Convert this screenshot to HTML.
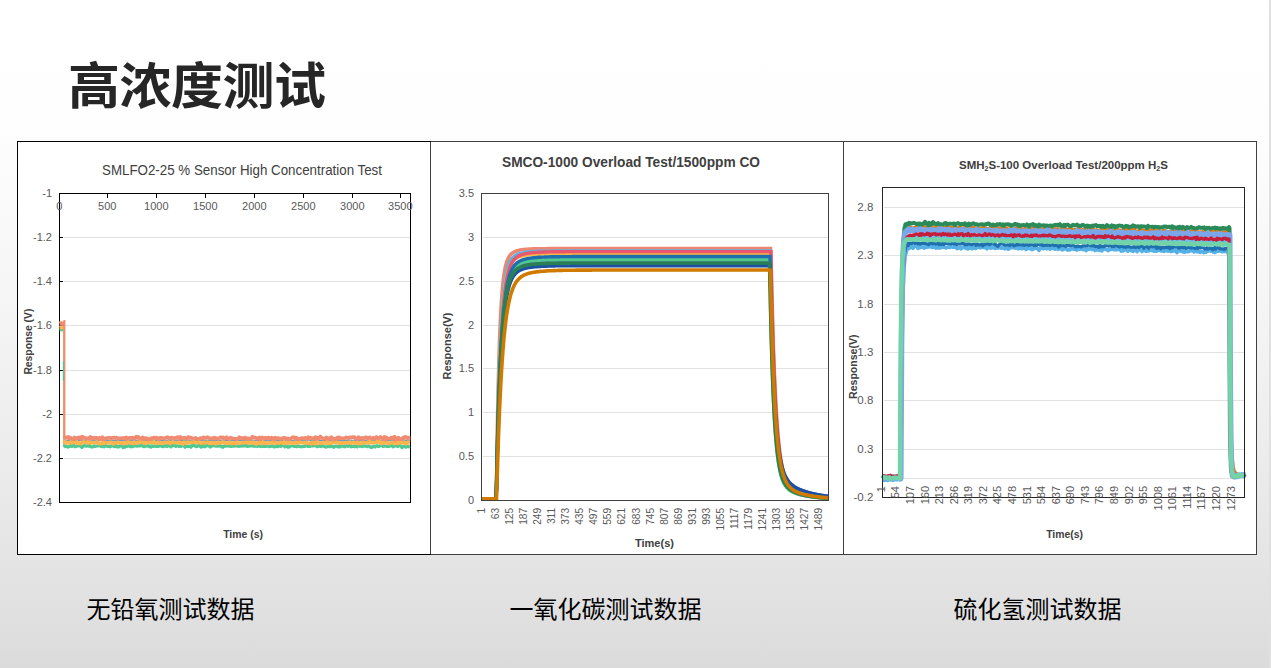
<!DOCTYPE html>
<html><head><meta charset="utf-8"><title>高浓度测试</title>
<style>
html,body{margin:0;padding:0;}
body{width:1271px;height:668px;overflow:hidden;position:relative;background:linear-gradient(to bottom, rgb(255.00,255.00,255.00) 0px, rgb(254.55,254.55,254.55) 73px, rgb(253.45,253.45,253.45) 133px, rgb(245.30,245.30,245.30) 300px, rgb(236.20,236.20,236.20) 455px, rgb(228.80,228.80,228.80) 555px, rgb(221.00,221.00,221.00) 650px, rgb(219.20,219.20,219.20) 668px);font-family:"Liberation Sans","Noto Sans CJK SC",sans-serif;}
.title{position:absolute;left:68px;top:61.5px;font-size:52px;font-weight:bold;color:#262626;letter-spacing:-0.5px;transform:scaleY(0.955);transform-origin:0 0;line-height:1;white-space:nowrap;font-family:"Liberation Sans","Noto Sans CJK SC",sans-serif;}
.edge{position:absolute;left:1269px;top:0;width:2px;height:668px;background:#e0e0e2;}
.cell{position:absolute;top:141px;height:413px;width:413px;background:#fff;box-sizing:border-box;}
.cap{position:absolute;top:597.5px;font-size:24px;color:#000;line-height:1;white-space:nowrap;font-family:"Liberation Sans","Noto Sans CJK SC",sans-serif;}
svg{position:absolute;left:0;top:0;}
.l1{font:11px "Liberation Sans",sans-serif;fill:#595959;}
.t1{font:14.2px "Liberation Sans",sans-serif;fill:#404040;}
.a1{font:bold 10.5px "Liberation Sans",sans-serif;fill:#404040;}
.l2{font:11px "Liberation Sans",sans-serif;fill:#595959;}
.l2x{font:10.2px "Liberation Sans",sans-serif;fill:#595959;}
.t2{font:bold 14px "Liberation Sans",sans-serif;fill:#404040;}
.a2{font:bold 11px "Liberation Sans",sans-serif;fill:#404040;}
.l3{font:11.5px "Liberation Sans",sans-serif;fill:#595959;}
.l3x{font:11px "Liberation Sans",sans-serif;fill:#595959;}
.t3{font:bold 11.5px "Liberation Sans",sans-serif;fill:#404040;}
.a3{font:bold 10.5px "Liberation Sans",sans-serif;fill:#404040;}
</style></head>
<body>
<div class="edge"></div>
<div class="title">高浓度测试</div>
<div class="cell" style="left:17px;"></div>
<div class="cell" style="left:430px;"></div>
<div class="cell" style="left:843px;width:414px;"></div>
<svg width="1271" height="668" viewBox="0 0 1271 668">
<g shape-rendering="crispEdges">
<line x1="17.5" y1="141.5" x2="1256.5" y2="141.5" stroke="#404040"/>
<line x1="17.5" y1="554.5" x2="1256.5" y2="554.5" stroke="#404040"/>
<line x1="430.5" y1="141" x2="430.5" y2="555" stroke="#404040"/>
<line x1="843.5" y1="141" x2="843.5" y2="555" stroke="#404040"/>
<line x1="1256.5" y1="141" x2="1256.5" y2="555" stroke="#404040"/>
<rect x="17.5" y="141.5" width="413" height="413" fill="none" stroke="#000"/>
<line x1="430.5" y1="142" x2="430.5" y2="554" stroke="#404040"/>
</g>
<line x1="64" y1="237.5" x2="410" y2="237.5" stroke="#e2e2e2" stroke-width="1"/>
<line x1="64" y1="281.5" x2="410" y2="281.5" stroke="#e2e2e2" stroke-width="1"/>
<line x1="64" y1="325.5" x2="410" y2="325.5" stroke="#e2e2e2" stroke-width="1"/>
<line x1="64" y1="370.5" x2="410" y2="370.5" stroke="#e2e2e2" stroke-width="1"/>
<line x1="64" y1="414.5" x2="410" y2="414.5" stroke="#e2e2e2" stroke-width="1"/>
<line x1="64" y1="458.5" x2="410" y2="458.5" stroke="#e2e2e2" stroke-width="1"/>
<line x1="60" y1="237.5" x2="63" y2="237.5" stroke="#000" stroke-width="1"/>
<line x1="60" y1="281.5" x2="63" y2="281.5" stroke="#000" stroke-width="1"/>
<line x1="60" y1="325.5" x2="63" y2="325.5" stroke="#000" stroke-width="1"/>
<line x1="60" y1="370.5" x2="63" y2="370.5" stroke="#000" stroke-width="1"/>
<line x1="60" y1="414.5" x2="63" y2="414.5" stroke="#000" stroke-width="1"/>
<line x1="60" y1="458.5" x2="63" y2="458.5" stroke="#000" stroke-width="1"/>
<line x1="107.5" y1="194" x2="107.5" y2="198" stroke="#000" stroke-width="1"/>
<line x1="156.5" y1="194" x2="156.5" y2="198" stroke="#000" stroke-width="1"/>
<line x1="205.5" y1="194" x2="205.5" y2="198" stroke="#000" stroke-width="1"/>
<line x1="254.5" y1="194" x2="254.5" y2="198" stroke="#000" stroke-width="1"/>
<line x1="303.5" y1="194" x2="303.5" y2="198" stroke="#000" stroke-width="1"/>
<line x1="352.5" y1="194" x2="352.5" y2="198" stroke="#000" stroke-width="1"/>
<line x1="400.5" y1="194" x2="400.5" y2="198" stroke="#000" stroke-width="1"/>
<rect x="59.5" y="193.5" width="351" height="309" fill="none" stroke="#000" stroke-width="1"/>
<polyline points="59.5,326.5 60.5,326.6 61.5,326.4 62.5,326.3 63.5,326.4 64.2,326.5" fill="none" stroke="#5b9bd5" stroke-width="1.6" stroke-linejoin="round" stroke-linecap="butt"/>
<line x1="64.2" y1="326.5" x2="64.2" y2="441.4" stroke="#5b9bd5" stroke-width="1.5"/>
<polyline points="64.2,441.4 65.2,440.4 66.2,440.7 67.2,440.3 68.2,440.2 69.2,440.5 70.2,440.5 71.2,440.4 72.2,440.2 73.2,440.4 74.2,440.6 75.2,440.1 76.2,440.3 77.2,439.9 78.2,440.1 79.2,439.9 80.2,440.3 81.2,440.1 82.2,440.5 83.2,440.4 84.2,440.4 85.2,439.8 86.2,440.3 87.2,440.4 88.2,440.4 89.2,440 90.2,440.3 91.2,440.2 92.2,440.2 93.2,440.7 94.2,440.2 95.2,440.4 96.2,440.6 97.2,440.3 98.2,440.4 99.2,440.4 100.2,440.4 101.2,440.1 102.2,440.4 103.2,440.7 104.2,440 105.2,440.6 106.2,440.4 107.2,440.2 108.2,440.9 109.2,440.6 110.2,440.1 111.2,440.4 112.2,440.5 113.2,440.4 114.2,440.6 115.2,440.4 116.2,440.6 117.2,440.8 118.2,440.2 119.2,440.5 120.2,440.3 121.2,440.4 122.2,440.1 123.2,440.3 124.2,440.4 125.2,440.6 126.2,440.7 127.2,440.1 128.2,440.2 129.2,440.6 130.2,439.9 131.2,440.3 132.2,440.4 133.2,440.7 134.2,440.6 135.2,440.3 136.2,440.3 137.2,440.3 138.2,440.8 139.2,440.3 140.2,440.3 141.2,440.5 142.2,440.4 143.2,440.4 144.2,440.1 145.2,440.4 146.2,440.3 147.2,440.7 148.2,440.6 149.2,440.4 150.2,440.6 151.2,440.3 152.2,440.7 153.2,440.4 154.2,440.5 155.2,440.1 156.2,440.5 157.2,440 158.2,439.9 159.2,440.3 160.2,440.2 161.2,440.4 162.2,441 163.2,440.2 164.2,440.2 165.2,440.5 166.2,440.5 167.2,440.4 168.2,440.3 169.2,440.6 170.2,440.5 171.2,440.1 172.2,440.4 173.2,440.4 174.2,440.1 175.2,440.5 176.2,440.2 177.2,440.6 178.2,440.4 179.2,440.4 180.2,440.3 181.2,440.4 182.2,439.9 183.2,440.1 184.2,440.5 185.2,439.9 186.2,440.6 187.2,440 188.2,440.6 189.2,440.2 190.2,440.6 191.2,440.4 192.2,440 193.2,440.7 194.2,440.8 195.2,440.4 196.2,440.3 197.2,440.4 198.2,440.2 199.2,440.7 200.2,440.3 201.2,440.4 202.2,440.2 203.2,440.2 204.2,440.1 205.2,440.7 206.2,440.4 207.2,440.6 208.2,440.4 209.2,440.2 210.2,440.3 211.2,440.3 212.2,440.4 213.2,440.3 214.2,440.3 215.2,440.1 216.2,440.2 217.2,440.8 218.2,440.2 219.2,440.1 220.2,440.5 221.2,440.8 222.2,440 223.2,440.3 224.2,440.2 225.2,440 226.2,440.6 227.2,440.4 228.2,440.4 229.2,440.2 230.2,440.5 231.2,440.3 232.2,440.4 233.2,440.1 234.2,440.1 235.2,440.7 236.2,440.3 237.2,440.5 238.2,440.4 239.2,440.3 240.2,440.3 241.2,440.6 242.2,440.3 243.2,440.4 244.2,440.4 245.2,440.7 246.2,440.6 247.2,440.5 248.2,440.3 249.2,440.1 250.2,440.6 251.2,440.6 252.2,440.4 253.2,440.5 254.2,440.6 255.2,440.6 256.2,440.6 257.2,440.3 258.2,440.8 259.2,440.1 260.2,440.6 261.2,440.5 262.2,440.6 263.2,440.9 264.2,440.8 265.2,440.1 266.2,440 267.2,440.6 268.2,440.1 269.2,440.4 270.2,440.6 271.2,440 272.2,439.9 273.2,440.5 274.2,440.4 275.2,440.3 276.2,440.4 277.2,440.2 278.2,440 279.2,440.4 280.2,440.2 281.2,440 282.2,440.5 283.2,440.4 284.2,440.5 285.2,440.2 286.2,440.2 287.2,440.2 288.2,440.2 289.2,440.4 290.2,440.2 291.2,440.5 292.2,440.5 293.2,440.9 294.2,440.1 295.2,440.6 296.2,440.4 297.2,440.4 298.2,440 299.2,440.3 300.2,440.6 301.2,440.4 302.2,440.4 303.2,440.3 304.2,440.7 305.2,440.4 306.2,439.8 307.2,440.2 308.2,439.9 309.2,439.6 310.2,440.3 311.2,440.7 312.2,440.4 313.2,440.1 314.2,440.2 315.2,440.7 316.2,440.4 317.2,440.4 318.2,440.4 319.2,440.4 320.2,440.6 321.2,440.5 322.2,440.5 323.2,440.1 324.2,440.5 325.2,440.2 326.2,440.7 327.2,440.1 328.2,440.4 329.2,440.4 330.2,440.1 331.2,440.8 332.2,440.8 333.2,440.3 334.2,440.6 335.2,440.5 336.2,439.7 337.2,440.5 338.2,440.4 339.2,440.4 340.2,440.1 341.2,440.3 342.2,440.4 343.2,440.7 344.2,440.5 345.2,440.4 346.2,440.8 347.2,440.3 348.2,440.3 349.2,439.9 350.2,440.8 351.2,440.6 352.2,440.6 353.2,440.6 354.2,440.4 355.2,440.5 356.2,440.3 357.2,440.3 358.2,440.4 359.2,440.8 360.2,440.5 361.2,440.4 362.2,440.3 363.2,440.2 364.2,440.8 365.2,440.5 366.2,440.4 367.2,440.3 368.2,440.1 369.2,440.4 370.2,440.6 371.2,440.3 372.2,440.3 373.2,440.3 374.2,440.4 375.2,440 376.2,440.3 377.2,440.2 378.2,440.6 379.2,440.2 380.2,440.5 381.2,440.8 382.2,440.3 383.2,440.2 384.2,440.4 385.2,440.4 386.2,440.2 387.2,440.5 388.2,440.9 389.2,440.3 390.2,440.3 391.2,440.1 392.2,440.5 393.2,440.1 394.2,440.1 395.2,440.7 396.2,440.2 397.2,440.7 398.2,440.8 399.2,440.5 400.2,440.5 401.2,440.9 402.2,440.4 403.2,440.3 404.2,440.1 405.2,440.4 406.2,440.8 407.2,440.6 408.2,440.2 409.2,440.2 410.2,440.3" fill="none" stroke="#5b9bd5" stroke-width="1.6" stroke-linejoin="round" stroke-linecap="butt"/>
<polyline points="59.5,329.7 60.5,329.6 61.5,329.6 62.5,329.7 63.5,329.5 64,329.6" fill="none" stroke="#4fc991" stroke-width="3.2" stroke-linejoin="round" stroke-linecap="butt"/>
<line x1="64.0" y1="329.6" x2="64.0" y2="447.2" stroke="#4fc991" stroke-width="1.6"/>
<polyline points="64,447.2 65,446.3 66,446.2 67,446.5 68,447.2 69,446.5 70,446.2 71,445.3 72,446.4 73,445.1 74,445.4 75,446.7 76,446.6 77,446.1 78,445.3 79,446 80,445.8 81,446.6 82,447.4 83,446.3 84,445.8 85,445.6 86,446.2 87,446.1 88,445.6 89,446.3 90,445.6 91,446.8 92,446.8 93,446.8 94,445.9 95,446.5 96,446.1 97,446 98,446 99,445.5 100,445.4 101,446.6 102,446.1 103,446.3 104,446.8 105,445.2 106,445.8 107,446.3 108,446.4 109,446 110,446.8 111,446.3 112,445.5 113,445.7 114,446.6 115,446.5 116,445.2 117,446.9 118,446.5 119,446.9 120,446 121,446 122,445.6 123,447.6 124,446.1 125,447.1 126,445.8 127,446.3 128,445.3 129,446 130,446.7 131,445.5 132,446.8 133,446.4 134,445.6 135,445.9 136,445.9 137,446.2 138,445.9 139,445.7 140,446 141,445.6 142,445.5 143,446.2 144,446.7 145,445.4 146,446.2 147,445.8 148,445.7 149,446.7 150,445.9 151,447 152,445.8 153,446.4 154,446.1 155,445.8 156,446.5 157,446.1 158,446.5 159,446.2 160,445.6 161,446.1 162,446.2 163,446.7 164,445.7 165,446.2 166,445.3 167,446.6 168,445.6 169,445.2 170,446.2 171,446.8 172,445.4 173,445.6 174,445.8 175,445.6 176,446.4 177,445.8 178,445.8 179,446.5 180,445.8 181,446.4 182,445.7 183,445.5 184,445.2 185,447.2 186,446 187,446.3 188,446.2 189,446.3 190,446.2 191,447.2 192,445.6 193,445.3 194,445.6 195,445.5 196,446.6 197,446.7 198,445.7 199,445.4 200,446 201,447 202,444.6 203,446.5 204,445.6 205,446.8 206,445.6 207,446 208,445.4 209,445.7 210,447 211,446.7 212,446 213,445.7 214,445.2 215,446 216,446.2 217,446.2 218,446.1 219,445.6 220,446.2 221,446.2 222,446.9 223,447.2 224,446.1 225,445.8 226,446.2 227,445.9 228,445.8 229,446.2 230,445.6 231,446.5 232,446.1 233,446.3 234,446.1 235,445.8 236,445.7 237,446.1 238,445.9 239,446.3 240,446.2 241,445.5 242,446.2 243,445.5 244,445.9 245,446 246,445.1 247,446.3 248,446.3 249,446.1 250,446 251,446 252,445.7 253,446.1 254,445.9 255,446.3 256,445.5 257,446.3 258,446.3 259,446.1 260,446 261,446.5 262,445.3 263,446.5 264,446.3 265,446.4 266,446.4 267,445.8 268,446.1 269,446.6 270,446.4 271,446.3 272,445.4 273,446.5 274,446.8 275,446.8 276,446.3 277,445.3 278,446.7 279,446.1 280,444.8 281,446.4 282,445.4 283,445.5 284,445.9 285,446.9 286,446 287,446.3 288,447.2 289,447.1 290,446.1 291,446.1 292,445.5 293,445.8 294,446.4 295,446.4 296,446.3 297,446.7 298,445.8 299,446.2 300,446.6 301,446.5 302,446.8 303,446.4 304,446 305,446.4 306,445.6 307,445.3 308,446.5 309,446.2 310,446.4 311,445.3 312,446 313,445.9 314,445.7 315,445 316,446 317,446.7 318,446.4 319,445.9 320,446.2 321,446.6 322,444.7 323,446.1 324,446.5 325,446.6 326,447.1 327,446.8 328,446.4 329,446.4 330,446.6 331,445.9 332,446.2 333,446.7 334,447.3 335,446.1 336,446.2 337,446.3 338,446.9 339,446.2 340,447 341,445.7 342,446.1 343,446.1 344,446.6 345,446.8 346,445.4 347,445.7 348,446.4 349,445.8 350,445.4 351,446.8 352,446.5 353,446.5 354,445.9 355,446.8 356,446.1 357,446.8 358,445.7 359,445.7 360,446.3 361,445.8 362,446.6 363,446.3 364,445.7 365,446.2 366,446 367,446.7 368,445.9 369,446 370,446.9 371,447.4 372,447.3 373,446.2 374,446.3 375,447 376,446.1 377,445.7 378,446.3 379,446.4 380,445.7 381,445.3 382,445.4 383,446.6 384,445.8 385,446.1 386,446.3 387,446.5 388,446 389,446.5 390,445.7 391,446 392,445.6 393,446.8 394,446.2 395,445.8 396,446 397,446.1 398,446.6 399,445.3 400,445.6 401,446 402,447.6 403,446.7 404,446.1 405,446.6 406,447.3 407,446.1 408,446 409,446.9 410,446.5" fill="none" stroke="#4fc991" stroke-width="3.2" stroke-linejoin="round" stroke-linecap="butt"/>
<polyline points="59.5,327.4 60.5,327.2 61.5,327.7 62.5,327.6 63.5,327.4 64,327.3" fill="none" stroke="#fdb44d" stroke-width="3.4" stroke-linejoin="round" stroke-linecap="butt"/>
<line x1="64.0" y1="327.3" x2="64.0" y2="443.7" stroke="#fdb44d" stroke-width="1.6"/>
<polyline points="64,443.7 65,441.7 66,443 67,442.6 68,442.9 69,443 70,442.5 71,441.9 72,442.9 73,442.3 74,442.5 75,442.4 76,442.5 77,441.5 78,443.3 79,442.8 80,443.3 81,443.7 82,442.7 83,441.8 84,442.3 85,442.1 86,442.4 87,442.7 88,441.7 89,442.9 90,441.9 91,442.8 92,442.6 93,442.5 94,442.7 95,442.4 96,442.4 97,441.9 98,442.7 99,443.6 100,443.7 101,443.4 102,443.1 103,442.4 104,443.4 105,442.7 106,442.7 107,442.6 108,442.7 109,442.5 110,442.7 111,442.2 112,442.5 113,443.8 114,442.7 115,442.6 116,443 117,443.1 118,442.1 119,442.6 120,443.2 121,442.8 122,442.8 123,443.5 124,442.4 125,442.7 126,442.4 127,443.4 128,441.7 129,442.4 130,442.4 131,443 132,443 133,443.4 134,441.9 135,443.1 136,442.6 137,442.4 138,443 139,442.2 140,441.7 141,442.5 142,442 143,442.4 144,442.9 145,442.9 146,443.5 147,442.6 148,441.9 149,442.3 150,442.2 151,442.1 152,442.9 153,442.4 154,441.7 155,443 156,442.6 157,442.9 158,442.8 159,443 160,442.7 161,443.3 162,442.9 163,442.9 164,442.9 165,442 166,442.6 167,442.6 168,442.8 169,442 170,443.5 171,442.8 172,442.1 173,441.8 174,442.6 175,442.7 176,442.3 177,442.7 178,442.4 179,443 180,442.3 181,442.7 182,443.2 183,444 184,442.2 185,442.5 186,442.3 187,443.1 188,442.1 189,442.5 190,442.7 191,442.2 192,442.2 193,442.5 194,441.6 195,442 196,442.5 197,442.8 198,442.6 199,441.8 200,442.5 201,443.1 202,443 203,442.7 204,442.3 205,443 206,442.4 207,442.1 208,442.3 209,443.4 210,442.8 211,443.3 212,442.5 213,443.2 214,442.4 215,442.6 216,443.9 217,443.1 218,442.4 219,442.7 220,442.9 221,443.3 222,442.5 223,441.8 224,442.6 225,442.7 226,442.8 227,443.4 228,442.9 229,443.1 230,442.1 231,443.1 232,443.7 233,443.1 234,442.8 235,442.8 236,443.6 237,442.2 238,442.6 239,442.9 240,443.1 241,442.5 242,442.9 243,442.6 244,442.8 245,442.6 246,442.1 247,442.7 248,443.1 249,442.2 250,442.6 251,443 252,442.2 253,442.8 254,442.2 255,443.3 256,443.9 257,443.7 258,442.6 259,443.1 260,442.8 261,442.8 262,443.5 263,442 264,443.2 265,442.7 266,443.4 267,442.8 268,442.4 269,442.8 270,443.1 271,442.7 272,442.9 273,442.4 274,441.6 275,443.2 276,443 277,442.8 278,442.7 279,443.2 280,442.5 281,442.3 282,442.6 283,443.3 284,442 285,443.3 286,442.4 287,442.1 288,443.3 289,442.7 290,442 291,442.5 292,443.2 293,443.3 294,442.5 295,442.9 296,443.1 297,442.4 298,442.9 299,442.7 300,442.4 301,442.5 302,442.7 303,442.7 304,442.4 305,442.5 306,443.3 307,442.8 308,443.1 309,443.3 310,443 311,443.8 312,442.3 313,443.1 314,442.5 315,443.6 316,443.6 317,441.7 318,442.2 319,443 320,443.1 321,443.1 322,442.7 323,442.9 324,443 325,442.7 326,443.2 327,441.6 328,443 329,442.2 330,443.2 331,442.6 332,442.3 333,442.9 334,442.2 335,442.2 336,441.9 337,442.7 338,442.9 339,443.2 340,442.6 341,443.2 342,442.7 343,442.7 344,443 345,443.2 346,442.5 347,442.6 348,442.6 349,442.7 350,442.2 351,443.2 352,442.5 353,442.9 354,442.3 355,442.9 356,442.9 357,442.5 358,443.7 359,442.9 360,443.6 361,443.2 362,442.4 363,442.5 364,442.9 365,442.7 366,442.7 367,442.6 368,441.8 369,442.6 370,441.6 371,442.9 372,442.3 373,442.3 374,442.6 375,442.8 376,442 377,441.8 378,442.2 379,441.7 380,442.2 381,443.5 382,442.2 383,443 384,442 385,442.8 386,442.5 387,442.7 388,443 389,443.6 390,442.8 391,442.8 392,442.2 393,443 394,442.6 395,443.1 396,442.7 397,443.6 398,441.7 399,442.6 400,443.1 401,442.5 402,442.3 403,442.6 404,442 405,442.8 406,443.9 407,443.3 408,442.1 409,442.3 410,442.5" fill="none" stroke="#fdb44d" stroke-width="3.6" stroke-linejoin="round" stroke-linecap="butt"/>
<polyline points="59.5,323.7 60.5,323.3 61.5,323.4 62.5,323.7 63.5,323.7 64.4,323.5" fill="none" stroke="#f08a70" stroke-width="4.2" stroke-linejoin="round" stroke-linecap="butt"/>
<line x1="64.4" y1="320" x2="64.4" y2="439.1" stroke="#f08a70" stroke-width="2.0"/>
<polyline points="64.4,439.1 65.4,437.4 66.4,437.2 67.4,437.7 68.4,436.8 69.4,438.5 70.4,437.7 71.4,438.4 72.4,439.2 73.4,438.8 74.4,437.4 75.4,438.6 76.4,438.8 77.4,437.7 78.4,437.5 79.4,438 80.4,437.1 81.4,439 82.4,436.7 83.4,437.4 84.4,437.9 85.4,438 86.4,438.2 87.4,438.3 88.4,438 89.4,438.8 90.4,436.8 91.4,438.1 92.4,437.7 93.4,438.2 94.4,438.2 95.4,437.6 96.4,437.7 97.4,438.6 98.4,438.3 99.4,437.7 100.4,439.3 101.4,439.5 102.4,437.2 103.4,438.3 104.4,439.6 105.4,438.6 106.4,438.2 107.4,438 108.4,437.8 109.4,438 110.4,437.8 111.4,438.5 112.4,437.9 113.4,437.8 114.4,437.4 115.4,438.1 116.4,437.6 117.4,438 118.4,438.7 119.4,438.3 120.4,438.4 121.4,438.3 122.4,438.1 123.4,438 124.4,437.9 125.4,438.6 126.4,437.4 127.4,438.9 128.4,438.1 129.4,437.7 130.4,437.8 131.4,437.7 132.4,438.2 133.4,437.7 134.4,438.8 135.4,437.6 136.4,436.7 137.4,437.7 138.4,436.9 139.4,438.1 140.4,438.7 141.4,438.5 142.4,437.3 143.4,437.6 144.4,439.2 145.4,438.3 146.4,438.1 147.4,438.7 148.4,439.6 149.4,438.9 150.4,438.2 151.4,438.3 152.4,438.5 153.4,437.7 154.4,437.5 155.4,438.1 156.4,437.5 157.4,438.1 158.4,438.2 159.4,439.5 160.4,437.6 161.4,438 162.4,438 163.4,438.4 164.4,438.7 165.4,437.8 166.4,437.6 167.4,437.1 168.4,437.5 169.4,438.4 170.4,438.1 171.4,437.5 172.4,437.9 173.4,438.1 174.4,438.4 175.4,437.7 176.4,437.9 177.4,437 178.4,437.4 179.4,439.1 180.4,436.8 181.4,437.9 182.4,438.2 183.4,437.9 184.4,437.6 185.4,438.1 186.4,438.1 187.4,438.1 188.4,437 189.4,438 190.4,437.6 191.4,437.8 192.4,438.2 193.4,438.5 194.4,438.6 195.4,437.8 196.4,438.7 197.4,438.8 198.4,438.8 199.4,438.9 200.4,438 201.4,438 202.4,438.6 203.4,437.3 204.4,438.2 205.4,437.8 206.4,437.9 207.4,437.1 208.4,437.6 209.4,438.1 210.4,438.6 211.4,438.7 212.4,438.1 213.4,438 214.4,437.6 215.4,438.3 216.4,438 217.4,438.5 218.4,439.2 219.4,438.1 220.4,437.2 221.4,437.6 222.4,437.2 223.4,437.4 224.4,438.9 225.4,438.2 226.4,437.2 227.4,438.5 228.4,438.9 229.4,437.9 230.4,437.7 231.4,437.9 232.4,438.3 233.4,438.5 234.4,438.8 235.4,438.8 236.4,438.8 237.4,438.9 238.4,438.5 239.4,437.2 240.4,438 241.4,438.3 242.4,437.9 243.4,438.6 244.4,437.9 245.4,437.5 246.4,439 247.4,438.5 248.4,438.2 249.4,438.7 250.4,438.7 251.4,438.3 252.4,436.6 253.4,437.7 254.4,437.8 255.4,437.5 256.4,438.2 257.4,438.8 258.4,437.8 259.4,437.4 260.4,439.3 261.4,437.8 262.4,437.4 263.4,438.2 264.4,438.4 265.4,437.7 266.4,438.6 267.4,437.8 268.4,437.5 269.4,438.2 270.4,438.6 271.4,437.7 272.4,438.3 273.4,438 274.4,439.8 275.4,437.7 276.4,438.9 277.4,438.1 278.4,438 279.4,438.5 280.4,438.6 281.4,438.9 282.4,438.3 283.4,437.7 284.4,437.8 285.4,438.4 286.4,438.4 287.4,438.9 288.4,438.4 289.4,438.7 290.4,439 291.4,438.2 292.4,437.2 293.4,437.4 294.4,437.2 295.4,439.1 296.4,437.6 297.4,438.8 298.4,438.5 299.4,439.1 300.4,438.7 301.4,438 302.4,438 303.4,438.2 304.4,438.2 305.4,437.8 306.4,438.1 307.4,439.1 308.4,437.1 309.4,438.3 310.4,437.6 311.4,438.2 312.4,438.6 313.4,438.1 314.4,438.6 315.4,437.1 316.4,438.8 317.4,437.7 318.4,438.5 319.4,438.2 320.4,436.5 321.4,437.6 322.4,438.2 323.4,439 324.4,438.3 325.4,438.3 326.4,437.3 327.4,439 328.4,439.2 329.4,438.1 330.4,438 331.4,437.1 332.4,438.6 333.4,439.7 334.4,438.5 335.4,438.9 336.4,438.4 337.4,437.5 338.4,438.9 339.4,437.4 340.4,438 341.4,438.3 342.4,438.6 343.4,438.3 344.4,438.3 345.4,437.6 346.4,437.3 347.4,438.1 348.4,437.7 349.4,437.3 350.4,437.3 351.4,437.8 352.4,437 353.4,437.3 354.4,437.1 355.4,438.2 356.4,438.3 357.4,439.3 358.4,437.2 359.4,437.7 360.4,438.6 361.4,438 362.4,437.9 363.4,439.1 364.4,437.9 365.4,437.4 366.4,437.3 367.4,438.3 368.4,438.3 369.4,437.3 370.4,437.5 371.4,438.4 372.4,438.4 373.4,437.7 374.4,438.5 375.4,438.4 376.4,437 377.4,437.9 378.4,438.3 379.4,437.8 380.4,436.8 381.4,437.9 382.4,438.6 383.4,439 384.4,436.8 385.4,439.7 386.4,437.4 387.4,438.7 388.4,438.8 389.4,438.7 390.4,438.2 391.4,437.4 392.4,438.5 393.4,437.7 394.4,436.6 395.4,439.8 396.4,438.5 397.4,439.2 398.4,437.6 399.4,439 400.4,439.1 401.4,439 402.4,438.1 403.4,437.4 404.4,438 405.4,436.8 406.4,437.1 407.4,438.2 408.4,437.5 409.4,438 410.4,438" fill="none" stroke="#f08a70" stroke-width="3.6" stroke-linejoin="round" stroke-linecap="butt"/>
<line x1="63.4" y1="361" x2="63.4" y2="381" stroke="#4fc991" stroke-width="1.2"/>
<text x="52" y="197.3" text-anchor="end" class="l1">-1</text>
<text x="52" y="241.3" text-anchor="end" class="l1">-1.2</text>
<text x="52" y="285.3" text-anchor="end" class="l1">-1.4</text>
<text x="52" y="329.3" text-anchor="end" class="l1">-1.6</text>
<text x="52" y="374.3" text-anchor="end" class="l1">-1.8</text>
<text x="52" y="418.3" text-anchor="end" class="l1">-2</text>
<text x="52" y="462.3" text-anchor="end" class="l1">-2.2</text>
<text x="52" y="506.3" text-anchor="end" class="l1">-2.4</text>
<text x="59.3" y="209.6" text-anchor="middle" class="l1">0</text>
<text x="107.3" y="209.6" text-anchor="middle" class="l1">500</text>
<text x="156.3" y="209.6" text-anchor="middle" class="l1">1000</text>
<text x="205.3" y="209.6" text-anchor="middle" class="l1">1500</text>
<text x="254.3" y="209.6" text-anchor="middle" class="l1">2000</text>
<text x="303.3" y="209.6" text-anchor="middle" class="l1">2500</text>
<text x="352.3" y="209.6" text-anchor="middle" class="l1">3000</text>
<text x="400.3" y="209.6" text-anchor="middle" class="l1">3500</text>
<text x="102" y="174.9" class="t1" textLength="280" lengthAdjust="spacingAndGlyphs">SMLFO2-25 % Sensor High Concentration Test</text>
<text transform="translate(32,341.6) rotate(-90)" text-anchor="middle" class="a1" textLength="66" lengthAdjust="spacingAndGlyphs">Response (V)</text>
<text x="223.2" y="537.7" class="a1" textLength="39.8" lengthAdjust="spacingAndGlyphs">Time (s)</text>
<line x1="483" y1="456.5" x2="828" y2="456.5" stroke="#e2e2e2" stroke-width="1"/>
<line x1="483" y1="412.5" x2="828" y2="412.5" stroke="#e2e2e2" stroke-width="1"/>
<line x1="483" y1="368.5" x2="828" y2="368.5" stroke="#e2e2e2" stroke-width="1"/>
<line x1="483" y1="325.5" x2="828" y2="325.5" stroke="#e2e2e2" stroke-width="1"/>
<line x1="483" y1="281.5" x2="828" y2="281.5" stroke="#e2e2e2" stroke-width="1"/>
<line x1="483" y1="237.5" x2="828" y2="237.5" stroke="#e2e2e2" stroke-width="1"/>
<polyline points="481.5,498.7 482,498.7 482.5,498.7 483,498.7 483.5,498.7 484,498.7 484.5,498.7 485,498.7 485.5,498.7 486,498.7 486.5,498.7 487,498.7 487.5,498.7 488,498.7 488.5,498.7 489,498.7 489.5,498.7 490,498.7 490.5,498.7 491,498.7 491.5,498.7 492,498.7 492.5,498.7 493,498.7 493.5,498.7 494,498.7 494.5,498.7 495,498.7 495.5,498.7 496,498.7 496.5,483.5 497,449.4 497.5,420.4 498,395.7 498.5,374.8 499,357 499.5,341.8 500,328.9 500.5,317.9 501,308.5 501.5,300.5 502,293.6 502.5,287.8 503,282.8 503.5,278.5 504,274.8 504.5,271.6 505,268.9 505.5,266.5 506,264.5 506.5,262.7 507,261.2 507.5,259.9 508,258.7 508.5,257.7 509,256.8 509.5,256 510,255.3 510.5,254.7 511,254.2 511.5,253.7 512,253.3 512.5,252.9 513,252.6 513.5,252.3 514,252 514.5,251.8 515,251.5 515.5,251.3 516,251.2 516.5,251 517,250.8 517.5,250.7 518,250.5 518.5,250.4 519,250.3 519.5,250.2 520,250.1 520.5,250 521,249.9 521.5,249.9 522,249.8 522.5,249.7 523,249.6 523.5,249.6 524,249.5 524.5,249.5 525,249.4 525.5,249.4 526,249.3 526.5,249.3 527,249.3 527.5,249.2 528,249.2 528.5,249.1 529,249.1 529.5,249.1 530,249.1 530.5,249 531,249 531.5,249 532,249 532.5,248.9 533,248.9 533.5,248.9 534,248.9 534.5,248.9 535,248.9 535.5,248.8 536,248.8 536.5,248.8 537,248.8 537.5,248.8 538,248.8 538.5,248.8 539,248.8 539.5,248.7 540,248.7 540.5,248.7 541,248.7 541.5,248.7 542,248.7 542.5,248.7 543,248.7 543.5,248.7 544,248.7 544.5,248.7 545,248.7 545.5,248.7 546,248.7 546.5,248.7 547,248.7 547.5,248.7 548,248.6 548.5,248.6 549,248.6 549.5,248.6 550,248.6 550.5,248.6 551,248.6 551.5,248.6 552,248.6 552.5,248.6 553,248.6 553.5,248.6 554,248.6 554.5,248.6 555,248.6 555.5,248.6 556,248.6 556.5,248.6 557,248.6 557.5,248.6 558,248.6 558.5,248.6 559,248.6 559.5,248.6 560,248.6 560.5,248.6 561,248.6 561.5,248.6 562,248.6 562.5,248.6 563,248.6 563.5,248.6 564,248.6 564.5,248.6 565,248.6 565.5,248.6 566,248.6 566.5,248.6 567,248.6 567.5,248.6 568,248.6 568.5,248.6 569,248.6 569.5,248.6 570,248.6 570.5,248.6 571,248.6 571.5,248.6 572,248.6 572.5,248.6 573,248.6 573.5,248.6 574,248.6 574.5,248.6 575,248.6 575.5,248.6 576,248.6 576.5,248.6 577,248.6 577.5,248.6 578,248.6 578.5,248.6 579,248.6 579.5,248.6 580,248.6 580.5,248.6 581,248.6 581.5,248.6 582,248.6 582.5,248.6 583,248.6 583.5,248.6 584,248.6 584.5,248.6 585,248.6 585.5,248.6 586,248.6 586.5,248.6 587,248.6 587.5,248.6 588,248.6 588.5,248.6 589,248.6 589.5,248.6 590,248.6 590.5,248.6 591,248.6 591.5,248.6 592,248.6 592.5,248.6 593,248.6 593.5,248.6 594,248.6 594.5,248.6 595,248.6 595.5,248.6 596,248.6 596.5,248.6 597,248.6 597.5,248.6 598,248.6 598.5,248.6 599,248.6 599.5,248.6 600,248.6 600.5,248.6 601,248.6 601.5,248.6 602,248.6 602.5,248.6 603,248.6 603.5,248.6 604,248.6 604.5,248.6 605,248.6 605.5,248.6 606,248.6 606.5,248.6 607,248.6 607.5,248.6 608,248.6 608.5,248.6 609,248.6 609.5,248.6 610,248.6 610.5,248.6 611,248.6 611.5,248.6 612,248.6 612.5,248.6 613,248.6 613.5,248.6 614,248.6 614.5,248.6 615,248.6 615.5,248.6 616,248.6 616.5,248.6 617,248.6 617.5,248.6 618,248.6 618.5,248.6 619,248.6 619.5,248.6 620,248.6 620.5,248.6 621,248.6 621.5,248.6 622,248.6 622.5,248.6 623,248.6 623.5,248.6 624,248.6 624.5,248.6 625,248.6 625.5,248.6 626,248.6 626.5,248.6 627,248.6 627.5,248.6 628,248.6 628.5,248.6 629,248.6 629.5,248.6 630,248.6 630.5,248.6 631,248.6 631.5,248.6 632,248.6 632.5,248.6 633,248.6 633.5,248.6 634,248.6 634.5,248.6 635,248.6 635.5,248.6 636,248.6 636.5,248.6 637,248.6 637.5,248.6 638,248.6 638.5,248.6 639,248.6 639.5,248.6 640,248.6 640.5,248.6 641,248.6 641.5,248.6 642,248.6 642.5,248.6 643,248.6 643.5,248.6 644,248.6 644.5,248.6 645,248.6 645.5,248.6 646,248.6 646.5,248.6 647,248.6 647.5,248.6 648,248.6 648.5,248.6 649,248.6 649.5,248.6 650,248.6 650.5,248.6 651,248.6 651.5,248.6 652,248.6 652.5,248.6 653,248.6 653.5,248.6 654,248.6 654.5,248.6 655,248.6 655.5,248.6 656,248.6 656.5,248.6 657,248.6 657.5,248.6 658,248.6 658.5,248.6 659,248.6 659.5,248.6 660,248.6 660.5,248.6 661,248.6 661.5,248.6 662,248.6 662.5,248.6 663,248.6 663.5,248.6 664,248.6 664.5,248.6 665,248.6 665.5,248.6 666,248.6 666.5,248.6 667,248.6 667.5,248.6 668,248.6 668.5,248.6 669,248.6 669.5,248.6 670,248.6 670.5,248.6 671,248.6 671.5,248.6 672,248.6 672.5,248.6 673,248.6 673.5,248.6 674,248.6 674.5,248.6 675,248.6 675.5,248.6 676,248.6 676.5,248.6 677,248.6 677.5,248.6 678,248.6 678.5,248.6 679,248.6 679.5,248.6 680,248.6 680.5,248.6 681,248.6 681.5,248.6 682,248.6 682.5,248.6 683,248.6 683.5,248.6 684,248.6 684.5,248.6 685,248.6 685.5,248.6 686,248.6 686.5,248.6 687,248.6 687.5,248.6 688,248.6 688.5,248.6 689,248.6 689.5,248.6 690,248.6 690.5,248.6 691,248.6 691.5,248.6 692,248.6 692.5,248.6 693,248.6 693.5,248.6 694,248.6 694.5,248.6 695,248.6 695.5,248.6 696,248.6 696.5,248.6 697,248.6 697.5,248.6 698,248.6 698.5,248.6 699,248.6 699.5,248.6 700,248.6 700.5,248.6 701,248.6 701.5,248.6 702,248.6 702.5,248.6 703,248.6 703.5,248.6 704,248.6 704.5,248.6 705,248.6 705.5,248.6 706,248.6 706.5,248.6 707,248.6 707.5,248.6 708,248.6 708.5,248.6 709,248.6 709.5,248.6 710,248.6 710.5,248.6 711,248.6 711.5,248.6 712,248.6 712.5,248.6 713,248.6 713.5,248.6 714,248.6 714.5,248.6 715,248.6 715.5,248.6 716,248.6 716.5,248.6 717,248.6 717.5,248.6 718,248.6 718.5,248.6 719,248.6 719.5,248.6 720,248.6 720.5,248.6 721,248.6 721.5,248.6 722,248.6 722.5,248.6 723,248.6 723.5,248.6 724,248.6 724.5,248.6 725,248.6 725.5,248.6 726,248.6 726.5,248.6 727,248.6 727.5,248.6 728,248.6 728.5,248.6 729,248.6 729.5,248.6 730,248.6 730.5,248.6 731,248.6 731.5,248.6 732,248.6 732.5,248.6 733,248.6 733.5,248.6 734,248.6 734.5,248.6 735,248.6 735.5,248.6 736,248.6 736.5,248.6 737,248.6 737.5,248.6 738,248.6 738.5,248.6 739,248.6 739.5,248.6 740,248.6 740.5,248.6 741,248.6 741.5,248.6 742,248.6 742.5,248.6 743,248.6 743.5,248.6 744,248.6 744.5,248.6 745,248.6 745.5,248.6 746,248.6 746.5,248.6 747,248.6 747.5,248.6 748,248.6 748.5,248.6 749,248.6 749.5,248.6 750,248.6 750.5,248.6 751,248.6 751.5,248.6 752,248.6 752.5,248.6 753,248.6 753.5,248.6 754,248.6 754.5,248.6 755,248.6 755.5,248.6 756,248.6 756.5,248.6 757,248.6 757.5,248.6 758,248.6 758.5,248.6 759,248.6 759.5,248.6 760,248.6 760.5,248.6 761,248.6 761.5,248.6 762,248.6 762.5,248.6 763,248.6 763.5,248.6 764,248.6 764.5,248.6 765,248.6 765.5,248.6 766,248.6 766.5,248.6 767,248.6 767.5,248.6 768,248.6 768.5,248.6 769,248.6 769.5,248.6 770,248.6 770.5,248.6 771,268.6 771.5,291.2 772,311.5 772.5,329.7 773,346.1 773.5,360.8 774,373.9 774.5,385.7 775,396.3 775.5,405.9 776,414.4 776.5,422.1 777,429 777.5,435.3 778,440.9 778.5,445.9 779,450.4 779.5,454.5 780,458.2 780.5,461.5 781,464.5 781.5,467.2 782,469.7 782.5,471.9 783,473.9 783.5,475.7 784,477.3 784.5,478.8 785,480.2 785.5,481.4 786,482.6 786.5,483.6 787,484.5 787.5,485.4 788,486.2 788.5,486.9 789,487.5 789.5,488.1 790,488.7 790.5,489.2 791,489.7 791.5,490.1 792,490.5 792.5,490.9 793,491.3 793.5,491.6 794,491.9 794.5,492.2 795,492.5 795.5,492.7 796,493 796.5,493.2 797,493.4 797.5,493.6 798,493.8 798.5,494 799,494.2 799.5,494.3 800,494.5 800.5,494.6 801,494.8 801.5,494.9 802,495 802.5,495.2 803,495.3 803.5,495.4 804,495.5 804.5,495.6 805,495.7 805.5,495.8 806,495.9 806.5,496 807,496.1 807.5,496.2 808,496.3 808.5,496.4 809,496.4 809.5,496.5 810,496.6 810.5,496.7 811,496.7 811.5,496.8 812,496.9 812.5,496.9 813,497 813.5,497.1 814,497.1 814.5,497.2 815,497.2 815.5,497.3 816,497.4 816.5,497.4 817,497.5 817.5,497.5 818,497.6 818.5,497.6 819,497.7 819.5,497.7 820,497.7 820.5,497.8 821,497.8 821.5,497.9 822,497.9 822.5,497.9 823,498 823.5,498 824,498.1 824.5,498.1 825,498.1 825.5,498.2 826,498.2 826.5,498.2 827,498.2 827.5,498.3 828,498.3 828.5,498.3" fill="none" stroke="#f08672" stroke-width="3.6" stroke-linejoin="miter" stroke-linecap="butt" stroke-miterlimit="10"/>
<polyline points="481.5,498.7 482,498.7 482.5,498.7 483,498.7 483.5,498.7 484,498.7 484.5,498.7 485,498.7 485.5,498.7 486,498.7 486.5,498.7 487,498.7 487.5,498.7 488,498.7 488.5,498.7 489,498.7 489.5,498.7 490,498.7 490.5,498.7 491,498.7 491.5,498.7 492,498.7 492.5,498.7 493,498.7 493.5,498.7 494,498.7 494.5,498.7 495,498.7 495.5,498.7 496,498.7 496.5,486.1 497,457.2 497.5,432 498,410.1 498.5,390.9 499,374.1 499.5,359.4 500,346.6 500.5,335.4 501,325.6 501.5,317 502,309.4 502.5,302.8 503,297.1 503.5,292 504,287.5 504.5,283.6 505,280.1 505.5,277.1 506,274.4 506.5,272.1 507,270 507.5,268.1 508,266.5 508.5,265.1 509,263.8 509.5,262.6 510,261.6 510.5,260.7 511,259.9 511.5,259.1 512,258.5 512.5,257.9 513,257.4 513.5,256.9 514,256.5 514.5,256.1 515,255.7 515.5,255.4 516,255.1 516.5,254.8 517,254.6 517.5,254.4 518,254.2 518.5,254 519,253.8 519.5,253.6 520,253.5 520.5,253.3 521,253.2 521.5,253.1 522,253 522.5,252.9 523,252.8 523.5,252.7 524,252.6 524.5,252.5 525,252.4 525.5,252.3 526,252.3 526.5,252.2 527,252.2 527.5,252.1 528,252 528.5,252 529,251.9 529.5,251.9 530,251.8 530.5,251.8 531,251.8 531.5,251.7 532,251.7 532.5,251.7 533,251.6 533.5,251.6 534,251.6 534.5,251.5 535,251.5 535.5,251.5 536,251.5 536.5,251.4 537,251.4 537.5,251.4 538,251.4 538.5,251.4 539,251.3 539.5,251.3 540,251.3 540.5,251.3 541,251.3 541.5,251.3 542,251.2 542.5,251.2 543,251.2 543.5,251.2 544,251.2 544.5,251.2 545,251.2 545.5,251.2 546,251.2 546.5,251.1 547,251.1 547.5,251.1 548,251.1 548.5,251.1 549,251.1 549.5,251.1 550,251.1 550.5,251.1 551,251.1 551.5,251.1 552,251.1 552.5,251.1 553,251.1 553.5,251.1 554,251 554.5,251 555,251 555.5,251 556,251 556.5,251 557,251 557.5,251 558,251 558.5,251 559,251 559.5,251 560,251 560.5,251 561,251 561.5,251 562,251 562.5,251 563,251 563.5,251 564,251 564.5,251 565,251 565.5,251 566,251 566.5,251 567,251 567.5,251 568,251 568.5,251 569,251 569.5,251 570,251 570.5,251 571,251 571.5,251 572,251 572.5,251 573,251 573.5,251 574,251 574.5,251 575,251 575.5,251 576,251 576.5,251 577,251 577.5,251 578,251 578.5,251 579,251 579.5,251 580,251 580.5,251 581,251 581.5,251 582,251 582.5,251 583,251 583.5,251 584,251 584.5,251 585,251 585.5,251 586,251 586.5,251 587,251 587.5,251 588,251 588.5,251 589,251 589.5,251 590,251 590.5,251 591,251 591.5,251 592,251 592.5,251 593,251 593.5,251 594,251 594.5,251 595,251 595.5,251 596,251 596.5,251 597,251 597.5,251 598,251 598.5,251 599,251 599.5,251 600,251 600.5,251 601,251 601.5,251 602,251 602.5,251 603,251 603.5,251 604,251 604.5,251 605,251 605.5,251 606,251 606.5,251 607,251 607.5,251 608,251 608.5,251 609,251 609.5,251 610,251 610.5,251 611,251 611.5,251 612,251 612.5,251 613,251 613.5,251 614,251 614.5,251 615,251 615.5,251 616,251 616.5,251 617,251 617.5,251 618,251 618.5,251 619,251 619.5,251 620,251 620.5,251 621,251 621.5,251 622,251 622.5,251 623,251 623.5,251 624,251 624.5,251 625,251 625.5,251 626,251 626.5,251 627,251 627.5,251 628,251 628.5,251 629,251 629.5,251 630,251 630.5,251 631,251 631.5,251 632,251 632.5,251 633,251 633.5,251 634,251 634.5,251 635,251 635.5,251 636,251 636.5,251 637,251 637.5,251 638,251 638.5,251 639,251 639.5,251 640,251 640.5,251 641,251 641.5,251 642,251 642.5,251 643,251 643.5,251 644,251 644.5,251 645,251 645.5,251 646,251 646.5,251 647,251 647.5,251 648,251 648.5,251 649,251 649.5,251 650,251 650.5,251 651,251 651.5,251 652,251 652.5,251 653,251 653.5,251 654,251 654.5,251 655,251 655.5,251 656,251 656.5,251 657,251 657.5,251 658,251 658.5,251 659,251 659.5,251 660,251 660.5,251 661,251 661.5,251 662,251 662.5,251 663,251 663.5,251 664,251 664.5,251 665,251 665.5,251 666,251 666.5,251 667,251 667.5,251 668,251 668.5,251 669,251 669.5,251 670,251 670.5,251 671,251 671.5,251 672,251 672.5,251 673,251 673.5,251 674,251 674.5,251 675,251 675.5,251 676,251 676.5,251 677,251 677.5,251 678,251 678.5,251 679,251 679.5,251 680,251 680.5,251 681,251 681.5,251 682,251 682.5,251 683,251 683.5,251 684,251 684.5,251 685,251 685.5,251 686,251 686.5,251 687,251 687.5,251 688,251 688.5,251 689,251 689.5,251 690,251 690.5,251 691,251 691.5,251 692,251 692.5,251 693,251 693.5,251 694,251 694.5,251 695,251 695.5,251 696,251 696.5,251 697,251 697.5,251 698,251 698.5,251 699,251 699.5,251 700,251 700.5,251 701,251 701.5,251 702,251 702.5,251 703,251 703.5,251 704,251 704.5,251 705,251 705.5,251 706,251 706.5,251 707,251 707.5,251 708,251 708.5,251 709,251 709.5,251 710,251 710.5,251 711,251 711.5,251 712,251 712.5,251 713,251 713.5,251 714,251 714.5,251 715,251 715.5,251 716,251 716.5,251 717,251 717.5,251 718,251 718.5,251 719,251 719.5,251 720,251 720.5,251 721,251 721.5,251 722,251 722.5,251 723,251 723.5,251 724,251 724.5,251 725,251 725.5,251 726,251 726.5,251 727,251 727.5,251 728,251 728.5,251 729,251 729.5,251 730,251 730.5,251 731,251 731.5,251 732,251 732.5,251 733,251 733.5,251 734,251 734.5,251 735,251 735.5,251 736,251 736.5,251 737,251 737.5,251 738,251 738.5,251 739,251 739.5,251 740,251 740.5,251 741,251 741.5,251 742,251 742.5,251 743,251 743.5,251 744,251 744.5,251 745,251 745.5,251 746,251 746.5,251 747,251 747.5,251 748,251 748.5,251 749,251 749.5,251 750,251 750.5,251 751,251 751.5,251 752,251 752.5,251 753,251 753.5,251 754,251 754.5,251 755,251 755.5,251 756,251 756.5,251 757,251 757.5,251 758,251 758.5,251 759,251 759.5,251 760,251 760.5,251 761,251 761.5,251 762,251 762.5,251 763,251 763.5,251 764,251 764.5,251 765,251 765.5,251 766,251 766.5,251 767,251 767.5,251 768,251 768.5,251 769,251 769.5,251 770,251 770.5,277.8 771,301.6 771.5,322.6 772,341.2 772.5,357.7 773,372.3 773.5,385.2 774,396.7 774.5,406.8 775,415.9 775.5,423.9 776,431 776.5,437.3 777,442.9 777.5,447.9 778,452.4 778.5,456.4 779,459.9 779.5,463.1 780,465.9 780.5,468.4 781,470.7 781.5,472.8 782,474.6 782.5,476.2 783,477.7 783.5,479.1 784,480.3 784.5,481.4 785,482.4 785.5,483.3 786,484.1 786.5,484.9 787,485.6 787.5,486.2 788,486.8 788.5,487.4 789,487.9 789.5,488.3 790,488.8 790.5,489.2 791,489.5 791.5,489.9 792,490.2 792.5,490.5 793,490.8 793.5,491.1 794,491.4 794.5,491.6 795,491.9 795.5,492.1 796,492.3 796.5,492.5 797,492.7 797.5,492.9 798,493.1 798.5,493.3 799,493.4 799.5,493.6 800,493.8 800.5,493.9 801,494.1 801.5,494.2 802,494.3 802.5,494.5 803,494.6 803.5,494.7 804,494.8 804.5,495 805,495.1 805.5,495.2 806,495.3 806.5,495.4 807,495.5 807.5,495.6 808,495.7 808.5,495.8 809,495.9 809.5,496 810,496.1 810.5,496.1 811,496.2 811.5,496.3 812,496.4 812.5,496.5 813,496.5 813.5,496.6 814,496.7 814.5,496.7 815,496.8 815.5,496.9 816,496.9 816.5,497 817,497.1 817.5,497.1 818,497.2 818.5,497.2 819,497.3 819.5,497.3 820,497.4 820.5,497.4 821,497.5 821.5,497.5 822,497.6 822.5,497.6 823,497.7 823.5,497.7 824,497.8 824.5,497.8 825,497.9 825.5,497.9 826,497.9 826.5,498 827,498 827.5,498 828,498.1 828.5,498.1" fill="none" stroke="#5ab4e5" stroke-width="3.4" stroke-linejoin="miter" stroke-linecap="butt" stroke-miterlimit="10"/>
<polyline points="481.5,498.7 482,498.7 482.5,498.7 483,498.7 483.5,498.7 484,498.7 484.5,498.7 485,498.7 485.5,498.7 486,498.7 486.5,498.7 487,498.7 487.5,498.7 488,498.7 488.5,498.7 489,498.7 489.5,498.7 490,498.7 490.5,498.7 491,498.7 491.5,498.7 492,498.7 492.5,498.7 493,498.7 493.5,498.7 494,498.7 494.5,498.7 495,498.7 495.5,498.7 496,498.7 496.5,486.9 497,459.7 497.5,435.8 498,414.8 498.5,396.3 499,380 499.5,365.7 500,353.1 500.5,342 501,332.2 501.5,323.6 502,316 502.5,309.3 503,303.4 503.5,298.1 504,293.5 504.5,289.4 505,285.8 505.5,282.6 506,279.8 506.5,277.2 507,275 507.5,273 508,271.2 508.5,269.7 509,268.2 509.5,267 510,265.9 510.5,264.9 511,264 511.5,263.1 512,262.4 512.5,261.7 513,261.2 513.5,260.6 514,260.1 514.5,259.7 515,259.3 515.5,258.9 516,258.6 516.5,258.3 517,258 517.5,257.7 518,257.5 518.5,257.3 519,257.1 519.5,256.9 520,256.7 520.5,256.6 521,256.4 521.5,256.3 522,256.2 522.5,256 523,255.9 523.5,255.8 524,255.7 524.5,255.6 525,255.5 525.5,255.5 526,255.4 526.5,255.3 527,255.2 527.5,255.2 528,255.1 528.5,255.1 529,255 529.5,254.9 530,254.9 530.5,254.9 531,254.8 531.5,254.8 532,254.7 532.5,254.7 533,254.6 533.5,254.6 534,254.6 534.5,254.5 535,254.5 535.5,254.5 536,254.5 536.5,254.4 537,254.4 537.5,254.4 538,254.4 538.5,254.3 539,254.3 539.5,254.3 540,254.3 540.5,254.3 541,254.2 541.5,254.2 542,254.2 542.5,254.2 543,254.2 543.5,254.2 544,254.1 544.5,254.1 545,254.1 545.5,254.1 546,254.1 546.5,254.1 547,254.1 547.5,254.1 548,254.1 548.5,254 549,254 549.5,254 550,254 550.5,254 551,254 551.5,254 552,254 552.5,254 553,254 553.5,254 554,254 554.5,254 555,254 555.5,254 556,254 556.5,253.9 557,253.9 557.5,253.9 558,253.9 558.5,253.9 559,253.9 559.5,253.9 560,253.9 560.5,253.9 561,253.9 561.5,253.9 562,253.9 562.5,253.9 563,253.9 563.5,253.9 564,253.9 564.5,253.9 565,253.9 565.5,253.9 566,253.9 566.5,253.9 567,253.9 567.5,253.9 568,253.9 568.5,253.9 569,253.9 569.5,253.9 570,253.9 570.5,253.9 571,253.9 571.5,253.9 572,253.9 572.5,253.9 573,253.9 573.5,253.9 574,253.9 574.5,253.9 575,253.9 575.5,253.9 576,253.9 576.5,253.9 577,253.9 577.5,253.9 578,253.9 578.5,253.9 579,253.9 579.5,253.9 580,253.9 580.5,253.9 581,253.9 581.5,253.9 582,253.9 582.5,253.9 583,253.9 583.5,253.9 584,253.9 584.5,253.9 585,253.9 585.5,253.9 586,253.9 586.5,253.9 587,253.9 587.5,253.9 588,253.9 588.5,253.9 589,253.9 589.5,253.9 590,253.9 590.5,253.9 591,253.9 591.5,253.9 592,253.9 592.5,253.9 593,253.9 593.5,253.9 594,253.9 594.5,253.9 595,253.9 595.5,253.9 596,253.9 596.5,253.9 597,253.9 597.5,253.9 598,253.9 598.5,253.8 599,253.8 599.5,253.8 600,253.8 600.5,253.8 601,253.8 601.5,253.8 602,253.8 602.5,253.8 603,253.8 603.5,253.8 604,253.8 604.5,253.8 605,253.8 605.5,253.8 606,253.8 606.5,253.8 607,253.8 607.5,253.8 608,253.8 608.5,253.8 609,253.8 609.5,253.8 610,253.8 610.5,253.8 611,253.8 611.5,253.8 612,253.8 612.5,253.8 613,253.8 613.5,253.8 614,253.8 614.5,253.8 615,253.8 615.5,253.8 616,253.8 616.5,253.8 617,253.8 617.5,253.8 618,253.8 618.5,253.8 619,253.8 619.5,253.8 620,253.8 620.5,253.8 621,253.8 621.5,253.8 622,253.8 622.5,253.8 623,253.8 623.5,253.8 624,253.8 624.5,253.8 625,253.8 625.5,253.8 626,253.8 626.5,253.8 627,253.8 627.5,253.8 628,253.8 628.5,253.8 629,253.8 629.5,253.8 630,253.8 630.5,253.8 631,253.8 631.5,253.8 632,253.8 632.5,253.8 633,253.8 633.5,253.8 634,253.8 634.5,253.8 635,253.8 635.5,253.8 636,253.8 636.5,253.8 637,253.8 637.5,253.8 638,253.8 638.5,253.8 639,253.8 639.5,253.8 640,253.8 640.5,253.8 641,253.8 641.5,253.8 642,253.8 642.5,253.8 643,253.8 643.5,253.8 644,253.8 644.5,253.8 645,253.8 645.5,253.8 646,253.8 646.5,253.8 647,253.8 647.5,253.8 648,253.8 648.5,253.8 649,253.8 649.5,253.8 650,253.8 650.5,253.8 651,253.8 651.5,253.8 652,253.8 652.5,253.8 653,253.8 653.5,253.8 654,253.8 654.5,253.8 655,253.8 655.5,253.8 656,253.8 656.5,253.8 657,253.8 657.5,253.8 658,253.8 658.5,253.8 659,253.8 659.5,253.8 660,253.8 660.5,253.8 661,253.8 661.5,253.8 662,253.8 662.5,253.8 663,253.8 663.5,253.8 664,253.8 664.5,253.8 665,253.8 665.5,253.8 666,253.8 666.5,253.8 667,253.8 667.5,253.8 668,253.8 668.5,253.8 669,253.8 669.5,253.8 670,253.8 670.5,253.8 671,253.8 671.5,253.8 672,253.8 672.5,253.8 673,253.8 673.5,253.8 674,253.8 674.5,253.8 675,253.8 675.5,253.8 676,253.8 676.5,253.8 677,253.8 677.5,253.8 678,253.8 678.5,253.8 679,253.8 679.5,253.8 680,253.8 680.5,253.8 681,253.8 681.5,253.8 682,253.8 682.5,253.8 683,253.8 683.5,253.8 684,253.8 684.5,253.8 685,253.8 685.5,253.8 686,253.8 686.5,253.8 687,253.8 687.5,253.8 688,253.8 688.5,253.8 689,253.8 689.5,253.8 690,253.8 690.5,253.8 691,253.8 691.5,253.8 692,253.8 692.5,253.8 693,253.8 693.5,253.8 694,253.8 694.5,253.8 695,253.8 695.5,253.8 696,253.8 696.5,253.8 697,253.8 697.5,253.8 698,253.8 698.5,253.8 699,253.8 699.5,253.8 700,253.8 700.5,253.8 701,253.8 701.5,253.8 702,253.8 702.5,253.8 703,253.8 703.5,253.8 704,253.8 704.5,253.8 705,253.8 705.5,253.8 706,253.8 706.5,253.8 707,253.8 707.5,253.8 708,253.8 708.5,253.8 709,253.8 709.5,253.8 710,253.8 710.5,253.8 711,253.8 711.5,253.8 712,253.8 712.5,253.8 713,253.8 713.5,253.8 714,253.8 714.5,253.8 715,253.8 715.5,253.8 716,253.8 716.5,253.8 717,253.8 717.5,253.8 718,253.8 718.5,253.8 719,253.8 719.5,253.8 720,253.8 720.5,253.8 721,253.8 721.5,253.8 722,253.8 722.5,253.8 723,253.8 723.5,253.8 724,253.8 724.5,253.8 725,253.8 725.5,253.8 726,253.8 726.5,253.8 727,253.8 727.5,253.8 728,253.8 728.5,253.8 729,253.8 729.5,253.8 730,253.8 730.5,253.8 731,253.8 731.5,253.8 732,253.8 732.5,253.8 733,253.8 733.5,253.8 734,253.8 734.5,253.8 735,253.8 735.5,253.8 736,253.8 736.5,253.8 737,253.8 737.5,253.8 738,253.8 738.5,253.8 739,253.8 739.5,253.8 740,253.8 740.5,253.8 741,253.8 741.5,253.8 742,253.8 742.5,253.8 743,253.8 743.5,253.8 744,253.8 744.5,253.8 745,253.8 745.5,253.8 746,253.8 746.5,253.8 747,253.8 747.5,253.8 748,253.8 748.5,253.8 749,253.8 749.5,253.8 750,253.8 750.5,253.8 751,253.8 751.5,253.8 752,253.8 752.5,253.8 753,253.8 753.5,253.8 754,253.8 754.5,253.8 755,253.8 755.5,253.8 756,253.8 756.5,253.8 757,253.8 757.5,253.8 758,253.8 758.5,253.8 759,253.8 759.5,253.8 760,253.8 760.5,253.8 761,253.8 761.5,253.8 762,253.8 762.5,253.8 763,253.8 763.5,253.8 764,253.8 764.5,253.8 765,253.8 765.5,253.8 766,253.8 766.5,253.8 767,253.8 767.5,253.8 768,253.8 768.5,253.8 769,253.8 769.5,253.8 770,264.9 770.5,290.1 771,312.5 771.5,332.3 772,349.8 772.5,365.3 773,379 773.5,391.2 774,402 774.5,411.6 775,420.1 775.5,427.7 776,434.4 776.5,440.3 777,445.6 777.5,450.4 778,454.6 778.5,458.3 779,461.7 779.5,464.7 780,467.3 780.5,469.7 781,471.9 781.5,473.8 782,475.6 782.5,477.1 783,478.5 783.5,479.8 784,481 784.5,482 785,483 785.5,483.8 786,484.6 786.5,485.3 787,486 787.5,486.6 788,487.2 788.5,487.7 789,488.2 789.5,488.6 790,489 790.5,489.4 791,489.8 791.5,490.1 792,490.5 792.5,490.8 793,491 793.5,491.3 794,491.6 794.5,491.8 795,492 795.5,492.3 796,492.5 796.5,492.7 797,492.9 797.5,493.1 798,493.2 798.5,493.4 799,493.6 799.5,493.7 800,493.9 800.5,494 801,494.2 801.5,494.3 802,494.4 802.5,494.6 803,494.7 803.5,494.8 804,494.9 804.5,495.1 805,495.2 805.5,495.3 806,495.4 806.5,495.5 807,495.6 807.5,495.7 808,495.8 808.5,495.9 809,496 809.5,496 810,496.1 810.5,496.2 811,496.3 811.5,496.4 812,496.5 812.5,496.5 813,496.6 813.5,496.7 814,496.7 814.5,496.8 815,496.9 815.5,496.9 816,497 816.5,497.1 817,497.1 817.5,497.2 818,497.2 818.5,497.3 819,497.3 819.5,497.4 820,497.4 820.5,497.5 821,497.5 821.5,497.6 822,497.6 822.5,497.7 823,497.7 823.5,497.8 824,497.8 824.5,497.8 825,497.9 825.5,497.9 826,498 826.5,498 827,498 827.5,498.1 828,498.1 828.5,498.1" fill="none" stroke="#fdb441" stroke-width="3.2" stroke-linejoin="miter" stroke-linecap="butt" stroke-miterlimit="10"/>
<polyline points="481.5,498.7 482,498.7 482.5,498.7 483,498.7 483.5,498.7 484,498.7 484.5,498.7 485,498.7 485.5,498.7 486,498.7 486.5,498.7 487,498.7 487.5,498.7 488,498.7 488.5,498.7 489,498.7 489.5,498.7 490,498.7 490.5,498.7 491,498.7 491.5,498.7 492,498.7 492.5,498.7 493,498.7 493.5,498.7 494,498.7 494.5,498.7 495,498.7 495.5,498.7 496,498.7 496.5,487.9 497,462.8 497.5,440.4 498,420.6 498.5,402.9 499,387.1 499.5,373.1 500,360.5 500.5,349.4 501,339.5 501.5,330.6 502,322.7 502.5,315.6 503,309.3 503.5,303.7 504,298.7 504.5,294.2 505,290.1 505.5,286.5 506,283.3 506.5,280.4 507,277.8 507.5,275.5 508,273.4 508.5,271.5 509,269.8 509.5,268.3 510,266.9 510.5,265.7 511,264.6 511.5,263.6 512,262.7 512.5,261.8 513,261.1 513.5,260.4 514,259.8 514.5,259.2 515,258.7 515.5,258.2 516,257.8 516.5,257.4 517,257 517.5,256.7 518,256.4 518.5,256.1 519,255.9 519.5,255.6 520,255.4 520.5,255.2 521,255 521.5,254.8 522,254.6 522.5,254.5 523,254.3 523.5,254.2 524,254.1 524.5,254 525,253.8 525.5,253.7 526,253.6 526.5,253.5 527,253.4 527.5,253.4 528,253.3 528.5,253.2 529,253.1 529.5,253.1 530,253 530.5,252.9 531,252.9 531.5,252.8 532,252.8 532.5,252.7 533,252.7 533.5,252.6 534,252.6 534.5,252.5 535,252.5 535.5,252.5 536,252.4 536.5,252.4 537,252.4 537.5,252.3 538,252.3 538.5,252.3 539,252.2 539.5,252.2 540,252.2 540.5,252.2 541,252.1 541.5,252.1 542,252.1 542.5,252.1 543,252.1 543.5,252 544,252 544.5,252 545,252 545.5,252 546,252 546.5,251.9 547,251.9 547.5,251.9 548,251.9 548.5,251.9 549,251.9 549.5,251.9 550,251.8 550.5,251.8 551,251.8 551.5,251.8 552,251.8 552.5,251.8 553,251.8 553.5,251.8 554,251.8 554.5,251.8 555,251.8 555.5,251.7 556,251.7 556.5,251.7 557,251.7 557.5,251.7 558,251.7 558.5,251.7 559,251.7 559.5,251.7 560,251.7 560.5,251.7 561,251.7 561.5,251.7 562,251.7 562.5,251.7 563,251.7 563.5,251.7 564,251.7 564.5,251.7 565,251.7 565.5,251.6 566,251.6 566.5,251.6 567,251.6 567.5,251.6 568,251.6 568.5,251.6 569,251.6 569.5,251.6 570,251.6 570.5,251.6 571,251.6 571.5,251.6 572,251.6 572.5,251.6 573,251.6 573.5,251.6 574,251.6 574.5,251.6 575,251.6 575.5,251.6 576,251.6 576.5,251.6 577,251.6 577.5,251.6 578,251.6 578.5,251.6 579,251.6 579.5,251.6 580,251.6 580.5,251.6 581,251.6 581.5,251.6 582,251.6 582.5,251.6 583,251.6 583.5,251.6 584,251.6 584.5,251.6 585,251.6 585.5,251.6 586,251.6 586.5,251.6 587,251.6 587.5,251.6 588,251.6 588.5,251.6 589,251.6 589.5,251.6 590,251.6 590.5,251.6 591,251.6 591.5,251.6 592,251.6 592.5,251.6 593,251.6 593.5,251.6 594,251.6 594.5,251.6 595,251.6 595.5,251.6 596,251.6 596.5,251.6 597,251.6 597.5,251.6 598,251.6 598.5,251.6 599,251.6 599.5,251.6 600,251.6 600.5,251.6 601,251.6 601.5,251.6 602,251.6 602.5,251.6 603,251.6 603.5,251.6 604,251.6 604.5,251.6 605,251.6 605.5,251.6 606,251.6 606.5,251.6 607,251.6 607.5,251.6 608,251.6 608.5,251.6 609,251.6 609.5,251.6 610,251.6 610.5,251.6 611,251.6 611.5,251.6 612,251.6 612.5,251.6 613,251.6 613.5,251.6 614,251.6 614.5,251.6 615,251.6 615.5,251.6 616,251.6 616.5,251.6 617,251.6 617.5,251.6 618,251.6 618.5,251.6 619,251.6 619.5,251.6 620,251.6 620.5,251.6 621,251.6 621.5,251.6 622,251.6 622.5,251.6 623,251.6 623.5,251.6 624,251.6 624.5,251.6 625,251.6 625.5,251.6 626,251.6 626.5,251.6 627,251.6 627.5,251.6 628,251.6 628.5,251.6 629,251.6 629.5,251.6 630,251.6 630.5,251.6 631,251.6 631.5,251.6 632,251.6 632.5,251.6 633,251.6 633.5,251.6 634,251.6 634.5,251.6 635,251.6 635.5,251.6 636,251.6 636.5,251.6 637,251.6 637.5,251.6 638,251.6 638.5,251.6 639,251.6 639.5,251.6 640,251.6 640.5,251.6 641,251.6 641.5,251.6 642,251.6 642.5,251.6 643,251.6 643.5,251.6 644,251.6 644.5,251.6 645,251.6 645.5,251.6 646,251.6 646.5,251.6 647,251.6 647.5,251.6 648,251.6 648.5,251.6 649,251.6 649.5,251.6 650,251.6 650.5,251.6 651,251.6 651.5,251.6 652,251.6 652.5,251.6 653,251.6 653.5,251.6 654,251.6 654.5,251.6 655,251.6 655.5,251.6 656,251.6 656.5,251.6 657,251.6 657.5,251.6 658,251.6 658.5,251.6 659,251.6 659.5,251.6 660,251.6 660.5,251.6 661,251.6 661.5,251.6 662,251.6 662.5,251.6 663,251.6 663.5,251.6 664,251.6 664.5,251.6 665,251.6 665.5,251.6 666,251.6 666.5,251.6 667,251.6 667.5,251.6 668,251.6 668.5,251.6 669,251.6 669.5,251.6 670,251.6 670.5,251.6 671,251.6 671.5,251.6 672,251.6 672.5,251.6 673,251.6 673.5,251.6 674,251.6 674.5,251.6 675,251.6 675.5,251.6 676,251.6 676.5,251.6 677,251.6 677.5,251.6 678,251.6 678.5,251.6 679,251.6 679.5,251.6 680,251.6 680.5,251.6 681,251.6 681.5,251.6 682,251.6 682.5,251.6 683,251.6 683.5,251.6 684,251.6 684.5,251.6 685,251.6 685.5,251.6 686,251.6 686.5,251.6 687,251.6 687.5,251.6 688,251.6 688.5,251.6 689,251.6 689.5,251.6 690,251.6 690.5,251.6 691,251.6 691.5,251.6 692,251.6 692.5,251.6 693,251.6 693.5,251.6 694,251.6 694.5,251.6 695,251.6 695.5,251.6 696,251.6 696.5,251.6 697,251.6 697.5,251.6 698,251.6 698.5,251.6 699,251.6 699.5,251.6 700,251.6 700.5,251.6 701,251.6 701.5,251.6 702,251.6 702.5,251.6 703,251.6 703.5,251.6 704,251.6 704.5,251.6 705,251.6 705.5,251.6 706,251.6 706.5,251.6 707,251.6 707.5,251.6 708,251.6 708.5,251.6 709,251.6 709.5,251.6 710,251.6 710.5,251.6 711,251.6 711.5,251.6 712,251.6 712.5,251.6 713,251.6 713.5,251.6 714,251.6 714.5,251.6 715,251.6 715.5,251.6 716,251.6 716.5,251.6 717,251.6 717.5,251.6 718,251.6 718.5,251.6 719,251.6 719.5,251.6 720,251.6 720.5,251.6 721,251.6 721.5,251.6 722,251.6 722.5,251.6 723,251.6 723.5,251.6 724,251.6 724.5,251.6 725,251.6 725.5,251.6 726,251.6 726.5,251.6 727,251.6 727.5,251.6 728,251.6 728.5,251.6 729,251.6 729.5,251.6 730,251.6 730.5,251.6 731,251.6 731.5,251.6 732,251.6 732.5,251.6 733,251.6 733.5,251.6 734,251.6 734.5,251.6 735,251.6 735.5,251.6 736,251.6 736.5,251.6 737,251.6 737.5,251.6 738,251.6 738.5,251.6 739,251.6 739.5,251.6 740,251.6 740.5,251.6 741,251.6 741.5,251.6 742,251.6 742.5,251.6 743,251.6 743.5,251.6 744,251.6 744.5,251.6 745,251.6 745.5,251.6 746,251.6 746.5,251.6 747,251.6 747.5,251.6 748,251.6 748.5,251.6 749,251.6 749.5,251.6 750,251.6 750.5,251.6 751,251.6 751.5,251.6 752,251.6 752.5,251.6 753,251.6 753.5,251.6 754,251.6 754.5,251.6 755,251.6 755.5,251.6 756,251.6 756.5,251.6 757,251.6 757.5,251.6 758,251.6 758.5,251.6 759,251.6 759.5,251.6 760,251.6 760.5,251.6 761,251.6 761.5,251.6 762,251.6 762.5,251.6 763,251.6 763.5,251.6 764,251.6 764.5,251.6 765,251.6 765.5,251.6 766,251.6 766.5,251.6 767,251.6 767.5,251.6 768,251.6 768.5,251.6 769,251.6 769.5,251.6 770,251.6 770.5,251.6 771,251.6 771.5,275.3 772,296.6 772.5,315.8 773,333.1 773.5,348.6 774,362.5 774.5,375.1 775,386.4 775.5,396.6 776,405.8 776.5,414.1 777,421.5 777.5,428.2 778,434.3 778.5,439.8 779,444.7 779.5,449.2 780,453.2 780.5,456.8 781,460.1 781.5,463.1 782,465.8 782.5,468.3 783,470.5 783.5,472.5 784,474.3 784.5,476 785,477.5 785.5,478.9 786,480.2 786.5,481.3 787,482.4 787.5,483.4 788,484.3 788.5,485.1 789,485.8 789.5,486.5 790,487.1 790.5,487.7 791,488.3 791.5,488.8 792,489.3 792.5,489.7 793,490.1 793.5,490.5 794,490.8 794.5,491.2 795,491.5 795.5,491.8 796,492 796.5,492.3 797,492.5 797.5,492.8 798,493 798.5,493.2 799,493.4 799.5,493.6 800,493.8 800.5,494 801,494.1 801.5,494.3 802,494.4 802.5,494.6 803,494.7 803.5,494.8 804,495 804.5,495.1 805,495.2 805.5,495.3 806,495.4 806.5,495.5 807,495.7 807.5,495.8 808,495.9 808.5,495.9 809,496 809.5,496.1 810,496.2 810.5,496.3 811,496.4 811.5,496.5 812,496.5 812.5,496.6 813,496.7 813.5,496.7 814,496.8 814.5,496.9 815,496.9 815.5,497 816,497.1 816.5,497.1 817,497.2 817.5,497.2 818,497.3 818.5,497.4 819,497.4 819.5,497.5 820,497.5 820.5,497.6 821,497.6 821.5,497.6 822,497.7 822.5,497.7 823,497.8 823.5,497.8 824,497.9 824.5,497.9 825,497.9 825.5,498 826,498 826.5,498 827,498.1 827.5,498.1 828,498.2 828.5,498.2" fill="none" stroke="#e8566f" stroke-width="3.4" stroke-linejoin="miter" stroke-linecap="butt" stroke-miterlimit="10"/>
<polyline points="481.5,498.7 482,498.7 482.5,498.7 483,498.7 483.5,498.7 484,498.7 484.5,498.7 485,498.7 485.5,498.7 486,498.7 486.5,498.7 487,498.7 487.5,498.7 488,498.7 488.5,498.7 489,498.7 489.5,498.7 490,498.7 490.5,498.7 491,498.7 491.5,498.7 492,498.7 492.5,498.7 493,498.7 493.5,498.7 494,498.7 494.5,498.7 495,498.7 495.5,498.7 496,498.7 496.5,489.1 497,466.9 497.5,446.9 498,428.8 498.5,412.7 499,398.1 499.5,385 500,373.2 500.5,362.6 501,353 501.5,344.4 502,336.7 502.5,329.7 503,323.4 503.5,317.7 504,312.6 504.5,308 505,303.8 505.5,300 506,296.6 506.5,293.6 507,290.8 507.5,288.3 508,286 508.5,283.9 509,282 509.5,280.3 510,278.8 510.5,277.4 511,276.1 511.5,275 512,273.9 512.5,273 513,272.1 513.5,271.3 514,270.6 514.5,269.9 515,269.3 515.5,268.7 516,268.2 516.5,267.7 517,267.3 517.5,266.9 518,266.5 518.5,266.2 519,265.9 519.5,265.6 520,265.3 520.5,265 521,264.8 521.5,264.6 522,264.4 522.5,264.2 523,264 523.5,263.8 524,263.7 524.5,263.5 525,263.4 525.5,263.3 526,263.2 526.5,263 527,262.9 527.5,262.8 528,262.7 528.5,262.6 529,262.6 529.5,262.5 530,262.4 530.5,262.3 531,262.3 531.5,262.2 532,262.1 532.5,262.1 533,262 533.5,262 534,261.9 534.5,261.9 535,261.8 535.5,261.8 536,261.7 536.5,261.7 537,261.6 537.5,261.6 538,261.6 538.5,261.5 539,261.5 539.5,261.5 540,261.4 540.5,261.4 541,261.4 541.5,261.3 542,261.3 542.5,261.3 543,261.3 543.5,261.2 544,261.2 544.5,261.2 545,261.2 545.5,261.1 546,261.1 546.5,261.1 547,261.1 547.5,261.1 548,261.1 548.5,261 549,261 549.5,261 550,261 550.5,261 551,261 551.5,261 552,260.9 552.5,260.9 553,260.9 553.5,260.9 554,260.9 554.5,260.9 555,260.9 555.5,260.9 556,260.9 556.5,260.8 557,260.8 557.5,260.8 558,260.8 558.5,260.8 559,260.8 559.5,260.8 560,260.8 560.5,260.8 561,260.8 561.5,260.8 562,260.8 562.5,260.8 563,260.8 563.5,260.7 564,260.7 564.5,260.7 565,260.7 565.5,260.7 566,260.7 566.5,260.7 567,260.7 567.5,260.7 568,260.7 568.5,260.7 569,260.7 569.5,260.7 570,260.7 570.5,260.7 571,260.7 571.5,260.7 572,260.7 572.5,260.7 573,260.7 573.5,260.7 574,260.7 574.5,260.7 575,260.7 575.5,260.7 576,260.7 576.5,260.7 577,260.7 577.5,260.7 578,260.7 578.5,260.7 579,260.6 579.5,260.6 580,260.6 580.5,260.6 581,260.6 581.5,260.6 582,260.6 582.5,260.6 583,260.6 583.5,260.6 584,260.6 584.5,260.6 585,260.6 585.5,260.6 586,260.6 586.5,260.6 587,260.6 587.5,260.6 588,260.6 588.5,260.6 589,260.6 589.5,260.6 590,260.6 590.5,260.6 591,260.6 591.5,260.6 592,260.6 592.5,260.6 593,260.6 593.5,260.6 594,260.6 594.5,260.6 595,260.6 595.5,260.6 596,260.6 596.5,260.6 597,260.6 597.5,260.6 598,260.6 598.5,260.6 599,260.6 599.5,260.6 600,260.6 600.5,260.6 601,260.6 601.5,260.6 602,260.6 602.5,260.6 603,260.6 603.5,260.6 604,260.6 604.5,260.6 605,260.6 605.5,260.6 606,260.6 606.5,260.6 607,260.6 607.5,260.6 608,260.6 608.5,260.6 609,260.6 609.5,260.6 610,260.6 610.5,260.6 611,260.6 611.5,260.6 612,260.6 612.5,260.6 613,260.6 613.5,260.6 614,260.6 614.5,260.6 615,260.6 615.5,260.6 616,260.6 616.5,260.6 617,260.6 617.5,260.6 618,260.6 618.5,260.6 619,260.6 619.5,260.6 620,260.6 620.5,260.6 621,260.6 621.5,260.6 622,260.6 622.5,260.6 623,260.6 623.5,260.6 624,260.6 624.5,260.6 625,260.6 625.5,260.6 626,260.6 626.5,260.6 627,260.6 627.5,260.6 628,260.6 628.5,260.6 629,260.6 629.5,260.6 630,260.6 630.5,260.6 631,260.6 631.5,260.6 632,260.6 632.5,260.6 633,260.6 633.5,260.6 634,260.6 634.5,260.6 635,260.6 635.5,260.6 636,260.6 636.5,260.6 637,260.6 637.5,260.6 638,260.6 638.5,260.6 639,260.6 639.5,260.6 640,260.6 640.5,260.6 641,260.6 641.5,260.6 642,260.6 642.5,260.6 643,260.6 643.5,260.6 644,260.6 644.5,260.6 645,260.6 645.5,260.6 646,260.6 646.5,260.6 647,260.6 647.5,260.6 648,260.6 648.5,260.6 649,260.6 649.5,260.6 650,260.6 650.5,260.6 651,260.6 651.5,260.6 652,260.6 652.5,260.6 653,260.6 653.5,260.6 654,260.6 654.5,260.6 655,260.6 655.5,260.6 656,260.6 656.5,260.6 657,260.6 657.5,260.6 658,260.6 658.5,260.6 659,260.6 659.5,260.6 660,260.6 660.5,260.6 661,260.6 661.5,260.6 662,260.6 662.5,260.6 663,260.6 663.5,260.6 664,260.6 664.5,260.6 665,260.6 665.5,260.6 666,260.6 666.5,260.6 667,260.6 667.5,260.6 668,260.6 668.5,260.6 669,260.6 669.5,260.6 670,260.6 670.5,260.6 671,260.6 671.5,260.6 672,260.6 672.5,260.6 673,260.6 673.5,260.6 674,260.6 674.5,260.6 675,260.6 675.5,260.6 676,260.6 676.5,260.6 677,260.6 677.5,260.6 678,260.6 678.5,260.6 679,260.6 679.5,260.6 680,260.6 680.5,260.6 681,260.6 681.5,260.6 682,260.6 682.5,260.6 683,260.6 683.5,260.6 684,260.6 684.5,260.6 685,260.6 685.5,260.6 686,260.6 686.5,260.6 687,260.6 687.5,260.6 688,260.6 688.5,260.6 689,260.6 689.5,260.6 690,260.6 690.5,260.6 691,260.6 691.5,260.6 692,260.6 692.5,260.6 693,260.6 693.5,260.6 694,260.6 694.5,260.6 695,260.6 695.5,260.6 696,260.6 696.5,260.6 697,260.6 697.5,260.6 698,260.6 698.5,260.6 699,260.6 699.5,260.6 700,260.6 700.5,260.6 701,260.6 701.5,260.6 702,260.6 702.5,260.6 703,260.6 703.5,260.6 704,260.6 704.5,260.6 705,260.6 705.5,260.6 706,260.6 706.5,260.6 707,260.6 707.5,260.6 708,260.6 708.5,260.6 709,260.6 709.5,260.6 710,260.6 710.5,260.6 711,260.6 711.5,260.6 712,260.6 712.5,260.6 713,260.6 713.5,260.6 714,260.6 714.5,260.6 715,260.6 715.5,260.6 716,260.6 716.5,260.6 717,260.6 717.5,260.6 718,260.6 718.5,260.6 719,260.6 719.5,260.6 720,260.6 720.5,260.6 721,260.6 721.5,260.6 722,260.6 722.5,260.6 723,260.6 723.5,260.6 724,260.6 724.5,260.6 725,260.6 725.5,260.6 726,260.6 726.5,260.6 727,260.6 727.5,260.6 728,260.6 728.5,260.6 729,260.6 729.5,260.6 730,260.6 730.5,260.6 731,260.6 731.5,260.6 732,260.6 732.5,260.6 733,260.6 733.5,260.6 734,260.6 734.5,260.6 735,260.6 735.5,260.6 736,260.6 736.5,260.6 737,260.6 737.5,260.6 738,260.6 738.5,260.6 739,260.6 739.5,260.6 740,260.6 740.5,260.6 741,260.6 741.5,260.6 742,260.6 742.5,260.6 743,260.6 743.5,260.6 744,260.6 744.5,260.6 745,260.6 745.5,260.6 746,260.6 746.5,260.6 747,260.6 747.5,260.6 748,260.6 748.5,260.6 749,260.6 749.5,260.6 750,260.6 750.5,260.6 751,260.6 751.5,260.6 752,260.6 752.5,260.6 753,260.6 753.5,260.6 754,260.6 754.5,260.6 755,260.6 755.5,260.6 756,260.6 756.5,260.6 757,260.6 757.5,260.6 758,260.6 758.5,260.6 759,260.6 759.5,260.6 760,260.6 760.5,260.6 761,260.6 761.5,260.6 762,260.6 762.5,260.6 763,260.6 763.5,260.6 764,260.6 764.5,260.6 765,260.6 765.5,260.6 766,260.6 766.5,260.6 767,260.6 767.5,260.6 768,260.6 768.5,260.6 769,260.6 769.5,260.6 770,260.6 770.5,285.2 771,307.1 771.5,326.6 772,344 772.5,359.4 773,373.2 773.5,385.5 774,396.4 774.5,406.2 775,414.9 775.5,422.6 776,429.6 776.5,435.8 777,441.3 777.5,446.3 778,450.7 778.5,454.7 779,458.2 779.5,461.4 780,464.3 780.5,466.9 781,469.2 781.5,471.3 782,473.2 782.5,474.9 783,476.4 783.5,477.8 784,479.1 784.5,480.2 785,481.3 785.5,482.2 786,483.1 786.5,483.9 787,484.6 787.5,485.3 788,485.9 788.5,486.5 789,487 789.5,487.5 790,487.9 790.5,488.4 791,488.8 791.5,489.1 792,489.5 792.5,489.8 793,490.1 793.5,490.4 794,490.7 794.5,490.9 795,491.2 795.5,491.4 796,491.6 796.5,491.9 797,492.1 797.5,492.3 798,492.5 798.5,492.6 799,492.8 799.5,493 800,493.1 800.5,493.3 801,493.5 801.5,493.6 802,493.7 802.5,493.9 803,494 803.5,494.1 804,494.3 804.5,494.4 805,494.5 805.5,494.6 806,494.7 806.5,494.8 807,495 807.5,495.1 808,495.2 808.5,495.3 809,495.4 809.5,495.4 810,495.5 810.5,495.6 811,495.7 811.5,495.8 812,495.9 812.5,496 813,496 813.5,496.1 814,496.2 814.5,496.3 815,496.3 815.5,496.4 816,496.5 816.5,496.5 817,496.6 817.5,496.7 818,496.7 818.5,496.8 819,496.9 819.5,496.9 820,497 820.5,497 821,497.1 821.5,497.1 822,497.2 822.5,497.2 823,497.3 823.5,497.3 824,497.4 824.5,497.4 825,497.5 825.5,497.5 826,497.6 826.5,497.6 827,497.6 827.5,497.7 828,497.7 828.5,497.8" fill="none" stroke="#5b8fe0" stroke-width="3.4" stroke-linejoin="miter" stroke-linecap="butt" stroke-miterlimit="10"/>
<polyline points="481.5,498.7 482,498.7 482.5,498.7 483,498.7 483.5,498.7 484,498.7 484.5,498.7 485,498.7 485.5,498.7 486,498.7 486.5,498.7 487,498.7 487.5,498.7 488,498.7 488.5,498.7 489,498.7 489.5,498.7 490,498.7 490.5,498.7 491,498.7 491.5,498.7 492,498.7 492.5,498.7 493,498.7 493.5,498.7 494,498.7 494.5,498.7 495,498.7 495.5,498.7 496,498.7 496.5,488.4 497,464.7 497.5,443.4 498,424.5 498.5,407.6 499,392.5 499.5,379 500,366.9 500.5,356.2 501,346.6 501.5,337.9 502,330.2 502.5,323.4 503,317.2 503.5,311.7 504,306.7 504.5,302.3 505,298.3 505.5,294.8 506,291.6 506.5,288.7 507,286.1 507.5,283.8 508,281.7 508.5,279.8 509,278.1 509.5,276.6 510,275.2 510.5,273.9 511,272.8 511.5,271.8 512,270.8 512.5,270 513,269.2 513.5,268.5 514,267.9 514.5,267.3 515,266.8 515.5,266.3 516,265.9 516.5,265.5 517,265.1 517.5,264.8 518,264.4 518.5,264.1 519,263.9 519.5,263.6 520,263.4 520.5,263.2 521,263 521.5,262.8 522,262.6 522.5,262.5 523,262.3 523.5,262.2 524,262 524.5,261.9 525,261.8 525.5,261.7 526,261.6 526.5,261.5 527,261.4 527.5,261.3 528,261.2 528.5,261.2 529,261.1 529.5,261 530,261 530.5,260.9 531,260.8 531.5,260.8 532,260.7 532.5,260.7 533,260.6 533.5,260.6 534,260.5 534.5,260.5 535,260.4 535.5,260.4 536,260.4 536.5,260.3 537,260.3 537.5,260.3 538,260.2 538.5,260.2 539,260.2 539.5,260.1 540,260.1 540.5,260.1 541,260.1 541.5,260 542,260 542.5,260 543,260 543.5,260 544,259.9 544.5,259.9 545,259.9 545.5,259.9 546,259.9 546.5,259.9 547,259.8 547.5,259.8 548,259.8 548.5,259.8 549,259.8 549.5,259.8 550,259.8 550.5,259.7 551,259.7 551.5,259.7 552,259.7 552.5,259.7 553,259.7 553.5,259.7 554,259.7 554.5,259.7 555,259.7 555.5,259.7 556,259.6 556.5,259.6 557,259.6 557.5,259.6 558,259.6 558.5,259.6 559,259.6 559.5,259.6 560,259.6 560.5,259.6 561,259.6 561.5,259.6 562,259.6 562.5,259.6 563,259.6 563.5,259.6 564,259.6 564.5,259.6 565,259.6 565.5,259.6 566,259.5 566.5,259.5 567,259.5 567.5,259.5 568,259.5 568.5,259.5 569,259.5 569.5,259.5 570,259.5 570.5,259.5 571,259.5 571.5,259.5 572,259.5 572.5,259.5 573,259.5 573.5,259.5 574,259.5 574.5,259.5 575,259.5 575.5,259.5 576,259.5 576.5,259.5 577,259.5 577.5,259.5 578,259.5 578.5,259.5 579,259.5 579.5,259.5 580,259.5 580.5,259.5 581,259.5 581.5,259.5 582,259.5 582.5,259.5 583,259.5 583.5,259.5 584,259.5 584.5,259.5 585,259.5 585.5,259.5 586,259.5 586.5,259.5 587,259.5 587.5,259.5 588,259.5 588.5,259.5 589,259.5 589.5,259.5 590,259.5 590.5,259.5 591,259.5 591.5,259.5 592,259.5 592.5,259.5 593,259.5 593.5,259.5 594,259.5 594.5,259.5 595,259.5 595.5,259.5 596,259.5 596.5,259.5 597,259.5 597.5,259.5 598,259.5 598.5,259.5 599,259.5 599.5,259.5 600,259.5 600.5,259.5 601,259.5 601.5,259.5 602,259.5 602.5,259.5 603,259.5 603.5,259.5 604,259.5 604.5,259.5 605,259.5 605.5,259.5 606,259.5 606.5,259.5 607,259.5 607.5,259.5 608,259.5 608.5,259.5 609,259.5 609.5,259.5 610,259.5 610.5,259.5 611,259.5 611.5,259.5 612,259.5 612.5,259.5 613,259.5 613.5,259.5 614,259.5 614.5,259.5 615,259.5 615.5,259.5 616,259.5 616.5,259.5 617,259.5 617.5,259.5 618,259.5 618.5,259.5 619,259.5 619.5,259.5 620,259.5 620.5,259.5 621,259.5 621.5,259.5 622,259.5 622.5,259.5 623,259.5 623.5,259.5 624,259.5 624.5,259.5 625,259.5 625.5,259.5 626,259.5 626.5,259.5 627,259.5 627.5,259.5 628,259.5 628.5,259.5 629,259.5 629.5,259.5 630,259.5 630.5,259.5 631,259.5 631.5,259.5 632,259.5 632.5,259.5 633,259.5 633.5,259.5 634,259.5 634.5,259.5 635,259.5 635.5,259.5 636,259.5 636.5,259.5 637,259.5 637.5,259.5 638,259.5 638.5,259.5 639,259.5 639.5,259.5 640,259.5 640.5,259.5 641,259.5 641.5,259.5 642,259.5 642.5,259.5 643,259.5 643.5,259.5 644,259.5 644.5,259.5 645,259.5 645.5,259.5 646,259.5 646.5,259.5 647,259.5 647.5,259.5 648,259.5 648.5,259.5 649,259.5 649.5,259.5 650,259.5 650.5,259.5 651,259.5 651.5,259.5 652,259.5 652.5,259.5 653,259.5 653.5,259.5 654,259.5 654.5,259.5 655,259.5 655.5,259.5 656,259.5 656.5,259.5 657,259.5 657.5,259.5 658,259.5 658.5,259.5 659,259.5 659.5,259.5 660,259.5 660.5,259.5 661,259.5 661.5,259.5 662,259.5 662.5,259.5 663,259.5 663.5,259.5 664,259.5 664.5,259.5 665,259.5 665.5,259.5 666,259.5 666.5,259.5 667,259.5 667.5,259.5 668,259.5 668.5,259.5 669,259.5 669.5,259.5 670,259.5 670.5,259.5 671,259.5 671.5,259.5 672,259.5 672.5,259.5 673,259.5 673.5,259.5 674,259.5 674.5,259.5 675,259.5 675.5,259.5 676,259.5 676.5,259.5 677,259.5 677.5,259.5 678,259.5 678.5,259.5 679,259.5 679.5,259.5 680,259.5 680.5,259.5 681,259.5 681.5,259.5 682,259.5 682.5,259.5 683,259.5 683.5,259.5 684,259.5 684.5,259.5 685,259.5 685.5,259.5 686,259.5 686.5,259.5 687,259.5 687.5,259.5 688,259.5 688.5,259.5 689,259.5 689.5,259.5 690,259.5 690.5,259.5 691,259.5 691.5,259.5 692,259.5 692.5,259.5 693,259.5 693.5,259.5 694,259.5 694.5,259.5 695,259.5 695.5,259.5 696,259.5 696.5,259.5 697,259.5 697.5,259.5 698,259.5 698.5,259.5 699,259.5 699.5,259.5 700,259.5 700.5,259.5 701,259.5 701.5,259.5 702,259.5 702.5,259.5 703,259.5 703.5,259.5 704,259.5 704.5,259.5 705,259.5 705.5,259.5 706,259.5 706.5,259.5 707,259.5 707.5,259.5 708,259.5 708.5,259.5 709,259.5 709.5,259.5 710,259.5 710.5,259.5 711,259.5 711.5,259.5 712,259.5 712.5,259.5 713,259.5 713.5,259.5 714,259.5 714.5,259.5 715,259.5 715.5,259.5 716,259.5 716.5,259.5 717,259.5 717.5,259.5 718,259.5 718.5,259.5 719,259.5 719.5,259.5 720,259.5 720.5,259.5 721,259.5 721.5,259.5 722,259.5 722.5,259.5 723,259.5 723.5,259.5 724,259.5 724.5,259.5 725,259.5 725.5,259.5 726,259.5 726.5,259.5 727,259.5 727.5,259.5 728,259.5 728.5,259.5 729,259.5 729.5,259.5 730,259.5 730.5,259.5 731,259.5 731.5,259.5 732,259.5 732.5,259.5 733,259.5 733.5,259.5 734,259.5 734.5,259.5 735,259.5 735.5,259.5 736,259.5 736.5,259.5 737,259.5 737.5,259.5 738,259.5 738.5,259.5 739,259.5 739.5,259.5 740,259.5 740.5,259.5 741,259.5 741.5,259.5 742,259.5 742.5,259.5 743,259.5 743.5,259.5 744,259.5 744.5,259.5 745,259.5 745.5,259.5 746,259.5 746.5,259.5 747,259.5 747.5,259.5 748,259.5 748.5,259.5 749,259.5 749.5,259.5 750,259.5 750.5,259.5 751,259.5 751.5,259.5 752,259.5 752.5,259.5 753,259.5 753.5,259.5 754,259.5 754.5,259.5 755,259.5 755.5,259.5 756,259.5 756.5,259.5 757,259.5 757.5,259.5 758,259.5 758.5,259.5 759,259.5 759.5,259.5 760,259.5 760.5,259.5 761,259.5 761.5,259.5 762,259.5 762.5,259.5 763,259.5 763.5,259.5 764,259.5 764.5,259.5 765,259.5 765.5,259.5 766,259.5 766.5,259.5 767,259.5 767.5,259.5 768,259.5 768.5,259.5 769,259.5 769.5,259.5 770,281.1 770.5,305.3 771,326.7 771.5,345.5 772,362.1 772.5,376.8 773,389.8 773.5,401.2 774,411.3 774.5,420.2 775,428.1 775.5,435.1 776,441.3 776.5,446.8 777,451.7 777.5,456 778,459.8 778.5,463.2 779,466.2 779.5,468.9 780,471.3 780.5,473.5 781,475.4 781.5,477.1 782,478.7 782.5,480.1 783,481.3 783.5,482.4 784,483.4 784.5,484.3 785,485.2 785.5,485.9 786,486.6 786.5,487.3 787,487.8 787.5,488.4 788,488.8 788.5,489.3 789,489.7 789.5,490.1 790,490.5 790.5,490.8 791,491.1 791.5,491.4 792,491.7 792.5,491.9 793,492.2 793.5,492.4 794,492.6 794.5,492.8 795,493 795.5,493.2 796,493.4 796.5,493.6 797,493.7 797.5,493.9 798,494.1 798.5,494.2 799,494.3 799.5,494.5 800,494.6 800.5,494.7 801,494.9 801.5,495 802,495.1 802.5,495.2 803,495.3 803.5,495.4 804,495.5 804.5,495.6 805,495.7 805.5,495.8 806,495.9 806.5,496 807,496.1 807.5,496.2 808,496.3 808.5,496.3 809,496.4 809.5,496.5 810,496.6 810.5,496.6 811,496.7 811.5,496.8 812,496.8 812.5,496.9 813,497 813.5,497 814,497.1 814.5,497.1 815,497.2 815.5,497.3 816,497.3 816.5,497.4 817,497.4 817.5,497.5 818,497.5 818.5,497.6 819,497.6 819.5,497.7 820,497.7 820.5,497.7 821,497.8 821.5,497.8 822,497.9 822.5,497.9 823,497.9 823.5,498 824,498 824.5,498.1 825,498.1 825.5,498.1 826,498.2 826.5,498.2 827,498.2 827.5,498.2 828,498.3 828.5,498.3" fill="none" stroke="#52c88e" stroke-width="3.4" stroke-linejoin="miter" stroke-linecap="butt" stroke-miterlimit="10"/>
<polyline points="481.5,498.7 482,498.7 482.5,498.7 483,498.7 483.5,498.7 484,498.7 484.5,498.7 485,498.7 485.5,498.7 486,498.7 486.5,498.7 487,498.7 487.5,498.7 488,498.7 488.5,498.7 489,498.7 489.5,498.7 490,498.7 490.5,498.7 491,498.7 491.5,498.7 492,498.7 492.5,498.7 493,498.7 493.5,498.7 494,498.7 494.5,498.7 495,498.7 495.5,498.7 496,498.7 496.5,488.8 497,465.7 497.5,444.9 498,426.3 498.5,409.6 499,394.7 499.5,381.2 500,369.2 500.5,358.3 501,348.6 501.5,339.8 502,332 502.5,324.9 503,318.6 503.5,312.8 504,307.7 504.5,303.1 505,298.9 505.5,295.1 506,291.7 506.5,288.7 507,285.9 507.5,283.4 508,281.2 508.5,279.1 509,277.3 509.5,275.6 510,274.1 510.5,272.7 511,271.5 511.5,270.4 512,269.3 512.5,268.4 513,267.6 513.5,266.8 514,266.1 514.5,265.4 515,264.8 515.5,264.3 516,263.8 516.5,263.3 517,262.9 517.5,262.5 518,262.2 518.5,261.8 519,261.5 519.5,261.2 520,261 520.5,260.7 521,260.5 521.5,260.3 522,260.1 522.5,259.9 523,259.8 523.5,259.6 524,259.4 524.5,259.3 525,259.2 525.5,259 526,258.9 526.5,258.8 527,258.7 527.5,258.6 528,258.5 528.5,258.4 529,258.4 529.5,258.3 530,258.2 530.5,258.1 531,258.1 531.5,258 532,257.9 532.5,257.9 533,257.8 533.5,257.8 534,257.7 534.5,257.7 535,257.6 535.5,257.6 536,257.5 536.5,257.5 537,257.5 537.5,257.4 538,257.4 538.5,257.3 539,257.3 539.5,257.3 540,257.3 540.5,257.2 541,257.2 541.5,257.2 542,257.1 542.5,257.1 543,257.1 543.5,257.1 544,257.1 544.5,257 545,257 545.5,257 546,257 546.5,257 547,256.9 547.5,256.9 548,256.9 548.5,256.9 549,256.9 549.5,256.9 550,256.8 550.5,256.8 551,256.8 551.5,256.8 552,256.8 552.5,256.8 553,256.8 553.5,256.8 554,256.7 554.5,256.7 555,256.7 555.5,256.7 556,256.7 556.5,256.7 557,256.7 557.5,256.7 558,256.7 558.5,256.7 559,256.7 559.5,256.7 560,256.7 560.5,256.6 561,256.6 561.5,256.6 562,256.6 562.5,256.6 563,256.6 563.5,256.6 564,256.6 564.5,256.6 565,256.6 565.5,256.6 566,256.6 566.5,256.6 567,256.6 567.5,256.6 568,256.6 568.5,256.6 569,256.6 569.5,256.6 570,256.6 570.5,256.6 571,256.6 571.5,256.6 572,256.6 572.5,256.5 573,256.5 573.5,256.5 574,256.5 574.5,256.5 575,256.5 575.5,256.5 576,256.5 576.5,256.5 577,256.5 577.5,256.5 578,256.5 578.5,256.5 579,256.5 579.5,256.5 580,256.5 580.5,256.5 581,256.5 581.5,256.5 582,256.5 582.5,256.5 583,256.5 583.5,256.5 584,256.5 584.5,256.5 585,256.5 585.5,256.5 586,256.5 586.5,256.5 587,256.5 587.5,256.5 588,256.5 588.5,256.5 589,256.5 589.5,256.5 590,256.5 590.5,256.5 591,256.5 591.5,256.5 592,256.5 592.5,256.5 593,256.5 593.5,256.5 594,256.5 594.5,256.5 595,256.5 595.5,256.5 596,256.5 596.5,256.5 597,256.5 597.5,256.5 598,256.5 598.5,256.5 599,256.5 599.5,256.5 600,256.5 600.5,256.5 601,256.5 601.5,256.5 602,256.5 602.5,256.5 603,256.5 603.5,256.5 604,256.5 604.5,256.5 605,256.5 605.5,256.5 606,256.5 606.5,256.5 607,256.5 607.5,256.5 608,256.5 608.5,256.5 609,256.5 609.5,256.5 610,256.5 610.5,256.5 611,256.5 611.5,256.5 612,256.5 612.5,256.5 613,256.5 613.5,256.5 614,256.5 614.5,256.5 615,256.5 615.5,256.5 616,256.5 616.5,256.5 617,256.5 617.5,256.5 618,256.5 618.5,256.5 619,256.5 619.5,256.5 620,256.5 620.5,256.5 621,256.5 621.5,256.5 622,256.5 622.5,256.5 623,256.5 623.5,256.5 624,256.5 624.5,256.5 625,256.5 625.5,256.5 626,256.5 626.5,256.5 627,256.5 627.5,256.5 628,256.5 628.5,256.5 629,256.5 629.5,256.5 630,256.5 630.5,256.5 631,256.5 631.5,256.5 632,256.5 632.5,256.5 633,256.5 633.5,256.5 634,256.5 634.5,256.5 635,256.5 635.5,256.5 636,256.5 636.5,256.5 637,256.5 637.5,256.5 638,256.5 638.5,256.5 639,256.5 639.5,256.5 640,256.5 640.5,256.5 641,256.5 641.5,256.5 642,256.5 642.5,256.5 643,256.5 643.5,256.5 644,256.5 644.5,256.5 645,256.5 645.5,256.5 646,256.5 646.5,256.5 647,256.5 647.5,256.5 648,256.5 648.5,256.5 649,256.5 649.5,256.5 650,256.5 650.5,256.5 651,256.5 651.5,256.5 652,256.5 652.5,256.5 653,256.5 653.5,256.5 654,256.5 654.5,256.5 655,256.5 655.5,256.5 656,256.5 656.5,256.5 657,256.5 657.5,256.5 658,256.5 658.5,256.5 659,256.5 659.5,256.5 660,256.5 660.5,256.5 661,256.5 661.5,256.5 662,256.5 662.5,256.5 663,256.5 663.5,256.5 664,256.5 664.5,256.5 665,256.5 665.5,256.5 666,256.5 666.5,256.5 667,256.5 667.5,256.5 668,256.5 668.5,256.5 669,256.5 669.5,256.5 670,256.5 670.5,256.5 671,256.5 671.5,256.5 672,256.5 672.5,256.5 673,256.5 673.5,256.5 674,256.5 674.5,256.5 675,256.5 675.5,256.5 676,256.5 676.5,256.5 677,256.5 677.5,256.5 678,256.5 678.5,256.5 679,256.5 679.5,256.5 680,256.5 680.5,256.5 681,256.5 681.5,256.5 682,256.5 682.5,256.5 683,256.5 683.5,256.5 684,256.5 684.5,256.5 685,256.5 685.5,256.5 686,256.5 686.5,256.5 687,256.5 687.5,256.5 688,256.5 688.5,256.5 689,256.5 689.5,256.5 690,256.5 690.5,256.5 691,256.5 691.5,256.5 692,256.5 692.5,256.5 693,256.5 693.5,256.5 694,256.5 694.5,256.5 695,256.5 695.5,256.5 696,256.5 696.5,256.5 697,256.5 697.5,256.5 698,256.5 698.5,256.5 699,256.5 699.5,256.5 700,256.5 700.5,256.5 701,256.5 701.5,256.5 702,256.5 702.5,256.5 703,256.5 703.5,256.5 704,256.5 704.5,256.5 705,256.5 705.5,256.5 706,256.5 706.5,256.5 707,256.5 707.5,256.5 708,256.5 708.5,256.5 709,256.5 709.5,256.5 710,256.5 710.5,256.5 711,256.5 711.5,256.5 712,256.5 712.5,256.5 713,256.5 713.5,256.5 714,256.5 714.5,256.5 715,256.5 715.5,256.5 716,256.5 716.5,256.5 717,256.5 717.5,256.5 718,256.5 718.5,256.5 719,256.5 719.5,256.5 720,256.5 720.5,256.5 721,256.5 721.5,256.5 722,256.5 722.5,256.5 723,256.5 723.5,256.5 724,256.5 724.5,256.5 725,256.5 725.5,256.5 726,256.5 726.5,256.5 727,256.5 727.5,256.5 728,256.5 728.5,256.5 729,256.5 729.5,256.5 730,256.5 730.5,256.5 731,256.5 731.5,256.5 732,256.5 732.5,256.5 733,256.5 733.5,256.5 734,256.5 734.5,256.5 735,256.5 735.5,256.5 736,256.5 736.5,256.5 737,256.5 737.5,256.5 738,256.5 738.5,256.5 739,256.5 739.5,256.5 740,256.5 740.5,256.5 741,256.5 741.5,256.5 742,256.5 742.5,256.5 743,256.5 743.5,256.5 744,256.5 744.5,256.5 745,256.5 745.5,256.5 746,256.5 746.5,256.5 747,256.5 747.5,256.5 748,256.5 748.5,256.5 749,256.5 749.5,256.5 750,256.5 750.5,256.5 751,256.5 751.5,256.5 752,256.5 752.5,256.5 753,256.5 753.5,256.5 754,256.5 754.5,256.5 755,256.5 755.5,256.5 756,256.5 756.5,256.5 757,256.5 757.5,256.5 758,256.5 758.5,256.5 759,256.5 759.5,256.5 760,256.5 760.5,256.5 761,256.5 761.5,256.5 762,256.5 762.5,256.5 763,256.5 763.5,256.5 764,256.5 764.5,256.5 765,256.5 765.5,256.5 766,256.5 766.5,256.5 767,256.5 767.5,256.5 768,256.5 768.5,256.5 769,256.5 769.5,256.5 770,256.5 770.5,280.4 771,301.8 771.5,320.9 772,338 772.5,353.2 773,366.9 773.5,379 774,389.9 774.5,399.6 775,408.4 775.5,416.2 776,423.1 776.5,429.4 777,435 777.5,440.1 778,444.6 778.5,448.6 779,452.3 779.5,455.6 780,458.6 780.5,461.2 781,463.7 781.5,465.8 782,467.8 782.5,469.6 783,471.3 783.5,472.7 784,474.1 784.5,475.3 785,476.4 785.5,477.5 786,478.4 786.5,479.3 787,480.1 787.5,480.8 788,481.5 788.5,482.2 789,482.8 789.5,483.3 790,483.8 790.5,484.3 791,484.8 791.5,485.2 792,485.6 792.5,486 793,486.3 793.5,486.7 794,487 794.5,487.3 795,487.6 795.5,487.9 796,488.2 796.5,488.4 797,488.7 797.5,488.9 798,489.2 798.5,489.4 799,489.6 799.5,489.8 800,490 800.5,490.2 801,490.4 801.5,490.6 802,490.8 802.5,490.9 803,491.1 803.5,491.3 804,491.4 804.5,491.6 805,491.8 805.5,491.9 806,492.1 806.5,492.2 807,492.4 807.5,492.5 808,492.6 808.5,492.8 809,492.9 809.5,493 810,493.1 810.5,493.3 811,493.4 811.5,493.5 812,493.6 812.5,493.7 813,493.8 813.5,493.9 814,494 814.5,494.2 815,494.3 815.5,494.4 816,494.5 816.5,494.5 817,494.6 817.5,494.7 818,494.8 818.5,494.9 819,495 819.5,495.1 820,495.2 820.5,495.2 821,495.3 821.5,495.4 822,495.5 822.5,495.6 823,495.6 823.5,495.7 824,495.8 824.5,495.8 825,495.9 825.5,496 826,496 826.5,496.1 827,496.2 827.5,496.2 828,496.3 828.5,496.4" fill="none" stroke="#1f6fae" stroke-width="3.4" stroke-linejoin="miter" stroke-linecap="butt" stroke-miterlimit="10"/>
<polyline points="481.5,498.7 482,498.7 482.5,498.7 483,498.7 483.5,498.7 484,498.7 484.5,498.7 485,498.7 485.5,498.7 486,498.7 486.5,498.7 487,498.7 487.5,498.7 488,498.7 488.5,498.7 489,498.7 489.5,498.7 490,498.7 490.5,498.7 491,498.7 491.5,498.7 492,498.7 492.5,498.7 493,498.7 493.5,498.7 494,498.7 494.5,498.7 495,498.7 495.5,498.7 496,498.7 496.5,489.4 497,467.6 497.5,448 498,430.3 498.5,414.5 499,400.2 499.5,387.4 500,375.9 500.5,365.5 501,356.1 501.5,347.7 502,340.1 502.5,333.3 503,327.1 503.5,321.6 504,316.6 504.5,312 505,308 505.5,304.3 506,300.9 506.5,297.9 507,295.2 507.5,292.8 508,290.5 508.5,288.5 509,286.7 509.5,285 510,283.5 510.5,282.1 511,280.9 511.5,279.8 512,278.7 512.5,277.8 513,276.9 513.5,276.1 514,275.4 514.5,274.8 515,274.2 515.5,273.6 516,273.1 516.5,272.7 517,272.2 517.5,271.8 518,271.5 518.5,271.1 519,270.8 519.5,270.5 520,270.3 520.5,270 521,269.8 521.5,269.6 522,269.4 522.5,269.2 523,269 523.5,268.9 524,268.7 524.5,268.6 525,268.4 525.5,268.3 526,268.2 526.5,268.1 527,268 527.5,267.9 528,267.8 528.5,267.7 529,267.6 529.5,267.5 530,267.5 530.5,267.4 531,267.3 531.5,267.2 532,267.2 532.5,267.1 533,267.1 533.5,267 534,267 534.5,266.9 535,266.9 535.5,266.8 536,266.8 536.5,266.7 537,266.7 537.5,266.7 538,266.6 538.5,266.6 539,266.6 539.5,266.5 540,266.5 540.5,266.5 541,266.4 541.5,266.4 542,266.4 542.5,266.4 543,266.3 543.5,266.3 544,266.3 544.5,266.3 545,266.2 545.5,266.2 546,266.2 546.5,266.2 547,266.2 547.5,266.1 548,266.1 548.5,266.1 549,266.1 549.5,266.1 550,266.1 550.5,266.1 551,266 551.5,266 552,266 552.5,266 553,266 553.5,266 554,266 554.5,266 555,266 555.5,265.9 556,265.9 556.5,265.9 557,265.9 557.5,265.9 558,265.9 558.5,265.9 559,265.9 559.5,265.9 560,265.9 560.5,265.9 561,265.9 561.5,265.9 562,265.8 562.5,265.8 563,265.8 563.5,265.8 564,265.8 564.5,265.8 565,265.8 565.5,265.8 566,265.8 566.5,265.8 567,265.8 567.5,265.8 568,265.8 568.5,265.8 569,265.8 569.5,265.8 570,265.8 570.5,265.8 571,265.8 571.5,265.8 572,265.8 572.5,265.8 573,265.8 573.5,265.8 574,265.8 574.5,265.8 575,265.8 575.5,265.7 576,265.7 576.5,265.7 577,265.7 577.5,265.7 578,265.7 578.5,265.7 579,265.7 579.5,265.7 580,265.7 580.5,265.7 581,265.7 581.5,265.7 582,265.7 582.5,265.7 583,265.7 583.5,265.7 584,265.7 584.5,265.7 585,265.7 585.5,265.7 586,265.7 586.5,265.7 587,265.7 587.5,265.7 588,265.7 588.5,265.7 589,265.7 589.5,265.7 590,265.7 590.5,265.7 591,265.7 591.5,265.7 592,265.7 592.5,265.7 593,265.7 593.5,265.7 594,265.7 594.5,265.7 595,265.7 595.5,265.7 596,265.7 596.5,265.7 597,265.7 597.5,265.7 598,265.7 598.5,265.7 599,265.7 599.5,265.7 600,265.7 600.5,265.7 601,265.7 601.5,265.7 602,265.7 602.5,265.7 603,265.7 603.5,265.7 604,265.7 604.5,265.7 605,265.7 605.5,265.7 606,265.7 606.5,265.7 607,265.7 607.5,265.7 608,265.7 608.5,265.7 609,265.7 609.5,265.7 610,265.7 610.5,265.7 611,265.7 611.5,265.7 612,265.7 612.5,265.7 613,265.7 613.5,265.7 614,265.7 614.5,265.7 615,265.7 615.5,265.7 616,265.7 616.5,265.7 617,265.7 617.5,265.7 618,265.7 618.5,265.7 619,265.7 619.5,265.7 620,265.7 620.5,265.7 621,265.7 621.5,265.7 622,265.7 622.5,265.7 623,265.7 623.5,265.7 624,265.7 624.5,265.7 625,265.7 625.5,265.7 626,265.7 626.5,265.7 627,265.7 627.5,265.7 628,265.7 628.5,265.7 629,265.7 629.5,265.7 630,265.7 630.5,265.7 631,265.7 631.5,265.7 632,265.7 632.5,265.7 633,265.7 633.5,265.7 634,265.7 634.5,265.7 635,265.7 635.5,265.7 636,265.7 636.5,265.7 637,265.7 637.5,265.7 638,265.7 638.5,265.7 639,265.7 639.5,265.7 640,265.7 640.5,265.7 641,265.7 641.5,265.7 642,265.7 642.5,265.7 643,265.7 643.5,265.7 644,265.7 644.5,265.7 645,265.7 645.5,265.7 646,265.7 646.5,265.7 647,265.7 647.5,265.7 648,265.7 648.5,265.7 649,265.7 649.5,265.7 650,265.7 650.5,265.7 651,265.7 651.5,265.7 652,265.7 652.5,265.7 653,265.7 653.5,265.7 654,265.7 654.5,265.7 655,265.7 655.5,265.7 656,265.7 656.5,265.7 657,265.7 657.5,265.7 658,265.7 658.5,265.7 659,265.7 659.5,265.7 660,265.7 660.5,265.7 661,265.7 661.5,265.7 662,265.7 662.5,265.7 663,265.7 663.5,265.7 664,265.7 664.5,265.7 665,265.7 665.5,265.7 666,265.7 666.5,265.7 667,265.7 667.5,265.7 668,265.7 668.5,265.7 669,265.7 669.5,265.7 670,265.7 670.5,265.7 671,265.7 671.5,265.7 672,265.7 672.5,265.7 673,265.7 673.5,265.7 674,265.7 674.5,265.7 675,265.7 675.5,265.7 676,265.7 676.5,265.7 677,265.7 677.5,265.7 678,265.7 678.5,265.7 679,265.7 679.5,265.7 680,265.7 680.5,265.7 681,265.7 681.5,265.7 682,265.7 682.5,265.7 683,265.7 683.5,265.7 684,265.7 684.5,265.7 685,265.7 685.5,265.7 686,265.7 686.5,265.7 687,265.7 687.5,265.7 688,265.7 688.5,265.7 689,265.7 689.5,265.7 690,265.7 690.5,265.7 691,265.7 691.5,265.7 692,265.7 692.5,265.7 693,265.7 693.5,265.7 694,265.7 694.5,265.7 695,265.7 695.5,265.7 696,265.7 696.5,265.7 697,265.7 697.5,265.7 698,265.7 698.5,265.7 699,265.7 699.5,265.7 700,265.7 700.5,265.7 701,265.7 701.5,265.7 702,265.7 702.5,265.7 703,265.7 703.5,265.7 704,265.7 704.5,265.7 705,265.7 705.5,265.7 706,265.7 706.5,265.7 707,265.7 707.5,265.7 708,265.7 708.5,265.7 709,265.7 709.5,265.7 710,265.7 710.5,265.7 711,265.7 711.5,265.7 712,265.7 712.5,265.7 713,265.7 713.5,265.7 714,265.7 714.5,265.7 715,265.7 715.5,265.7 716,265.7 716.5,265.7 717,265.7 717.5,265.7 718,265.7 718.5,265.7 719,265.7 719.5,265.7 720,265.7 720.5,265.7 721,265.7 721.5,265.7 722,265.7 722.5,265.7 723,265.7 723.5,265.7 724,265.7 724.5,265.7 725,265.7 725.5,265.7 726,265.7 726.5,265.7 727,265.7 727.5,265.7 728,265.7 728.5,265.7 729,265.7 729.5,265.7 730,265.7 730.5,265.7 731,265.7 731.5,265.7 732,265.7 732.5,265.7 733,265.7 733.5,265.7 734,265.7 734.5,265.7 735,265.7 735.5,265.7 736,265.7 736.5,265.7 737,265.7 737.5,265.7 738,265.7 738.5,265.7 739,265.7 739.5,265.7 740,265.7 740.5,265.7 741,265.7 741.5,265.7 742,265.7 742.5,265.7 743,265.7 743.5,265.7 744,265.7 744.5,265.7 745,265.7 745.5,265.7 746,265.7 746.5,265.7 747,265.7 747.5,265.7 748,265.7 748.5,265.7 749,265.7 749.5,265.7 750,265.7 750.5,265.7 751,265.7 751.5,265.7 752,265.7 752.5,265.7 753,265.7 753.5,265.7 754,265.7 754.5,265.7 755,265.7 755.5,265.7 756,265.7 756.5,265.7 757,265.7 757.5,265.7 758,265.7 758.5,265.7 759,265.7 759.5,265.7 760,265.7 760.5,265.7 761,265.7 761.5,265.7 762,265.7 762.5,265.7 763,265.7 763.5,265.7 764,265.7 764.5,265.7 765,265.7 765.5,265.7 766,265.7 766.5,265.7 767,265.7 767.5,265.7 768,265.7 768.5,265.7 769,265.7 769.5,265.7 770,265.7 770.5,279.4 771,300.3 771.5,319.1 772,335.8 772.5,350.9 773,364.3 773.5,376.4 774,387.2 774.5,396.9 775,405.7 775.5,413.5 776,420.5 776.5,426.8 777,432.5 777.5,437.6 778,442.2 778.5,446.4 779,450.1 779.5,453.5 780,456.5 780.5,459.3 781,461.8 781.5,464 782,466.1 782.5,468 783,469.7 783.5,471.2 784,472.6 784.5,473.9 785,475.1 785.5,476.2 786,477.2 786.5,478.1 787,479 787.5,479.8 788,480.5 788.5,481.2 789,481.8 789.5,482.4 790,482.9 790.5,483.4 791,483.9 791.5,484.4 792,484.8 792.5,485.2 793,485.6 793.5,486 794,486.3 794.5,486.6 795,487 795.5,487.3 796,487.6 796.5,487.8 797,488.1 797.5,488.4 798,488.6 798.5,488.8 799,489.1 799.5,489.3 800,489.5 800.5,489.7 801,489.9 801.5,490.1 802,490.3 802.5,490.5 803,490.7 803.5,490.9 804,491 804.5,491.2 805,491.4 805.5,491.5 806,491.7 806.5,491.8 807,492 807.5,492.1 808,492.3 808.5,492.4 809,492.6 809.5,492.7 810,492.8 810.5,492.9 811,493.1 811.5,493.2 812,493.3 812.5,493.4 813,493.6 813.5,493.7 814,493.8 814.5,493.9 815,494 815.5,494.1 816,494.2 816.5,494.3 817,494.4 817.5,494.5 818,494.6 818.5,494.7 819,494.8 819.5,494.9 820,494.9 820.5,495 821,495.1 821.5,495.2 822,495.3 822.5,495.4 823,495.4 823.5,495.5 824,495.6 824.5,495.7 825,495.7 825.5,495.8 826,495.9 826.5,495.9 827,496 827.5,496.1 828,496.1 828.5,496.2" fill="none" stroke="#1d4fa5" stroke-width="3.4" stroke-linejoin="miter" stroke-linecap="butt" stroke-miterlimit="10"/>
<polyline points="481.5,498.7 482,498.7 482.5,498.7 483,498.7 483.5,498.7 484,498.7 484.5,498.7 485,498.7 485.5,498.7 486,498.7 486.5,498.7 487,498.7 487.5,498.7 488,498.7 488.5,498.7 489,498.7 489.5,498.7 490,498.7 490.5,498.7 491,498.7 491.5,498.7 492,498.7 492.5,498.7 493,498.7 493.5,498.7 494,498.7 494.5,498.7 495,498.7 495.5,498.7 496,498.7 496.5,484.3 497,462.3 497.5,442.6 498,424.9 498.5,409 499,394.7 499.5,381.9 500,370.4 500.5,360.1 501,350.8 501.5,342.5 502,335 502.5,328.3 503,322.2 503.5,316.8 504,311.9 504.5,307.5 505,303.5 505.5,299.9 506,296.7 506.5,293.8 507,291.1 507.5,288.7 508,286.6 508.5,284.7 509,282.9 509.5,281.3 510,279.9 510.5,278.6 511,277.4 511.5,276.3 512,275.3 512.5,274.4 513,273.6 513.5,272.8 514,272.2 514.5,271.5 515,271 515.5,270.5 516,270 516.5,269.5 517,269.1 517.5,268.8 518,268.4 518.5,268.1 519,267.8 519.5,267.6 520,267.3 520.5,267.1 521,266.9 521.5,266.6 522,266.5 522.5,266.3 523,266.1 523.5,266 524,265.8 524.5,265.7 525,265.6 525.5,265.4 526,265.3 526.5,265.2 527,265.1 527.5,265 528,264.9 528.5,264.9 529,264.8 529.5,264.7 530,264.6 530.5,264.6 531,264.5 531.5,264.4 532,264.4 532.5,264.3 533,264.3 533.5,264.2 534,264.2 534.5,264.1 535,264.1 535.5,264 536,264 536.5,264 537,263.9 537.5,263.9 538,263.8 538.5,263.8 539,263.8 539.5,263.7 540,263.7 540.5,263.7 541,263.7 541.5,263.6 542,263.6 542.5,263.6 543,263.6 543.5,263.5 544,263.5 544.5,263.5 545,263.5 545.5,263.5 546,263.4 546.5,263.4 547,263.4 547.5,263.4 548,263.4 548.5,263.4 549,263.3 549.5,263.3 550,263.3 550.5,263.3 551,263.3 551.5,263.3 552,263.3 552.5,263.3 553,263.3 553.5,263.2 554,263.2 554.5,263.2 555,263.2 555.5,263.2 556,263.2 556.5,263.2 557,263.2 557.5,263.2 558,263.2 558.5,263.2 559,263.1 559.5,263.1 560,263.1 560.5,263.1 561,263.1 561.5,263.1 562,263.1 562.5,263.1 563,263.1 563.5,263.1 564,263.1 564.5,263.1 565,263.1 565.5,263.1 566,263.1 566.5,263.1 567,263.1 567.5,263.1 568,263.1 568.5,263.1 569,263.1 569.5,263.1 570,263 570.5,263 571,263 571.5,263 572,263 572.5,263 573,263 573.5,263 574,263 574.5,263 575,263 575.5,263 576,263 576.5,263 577,263 577.5,263 578,263 578.5,263 579,263 579.5,263 580,263 580.5,263 581,263 581.5,263 582,263 582.5,263 583,263 583.5,263 584,263 584.5,263 585,263 585.5,263 586,263 586.5,263 587,263 587.5,263 588,263 588.5,263 589,263 589.5,263 590,263 590.5,263 591,263 591.5,263 592,263 592.5,263 593,263 593.5,263 594,263 594.5,263 595,263 595.5,263 596,263 596.5,263 597,263 597.5,263 598,263 598.5,263 599,263 599.5,263 600,263 600.5,263 601,263 601.5,263 602,263 602.5,263 603,263 603.5,263 604,263 604.5,263 605,263 605.5,263 606,263 606.5,263 607,263 607.5,263 608,263 608.5,263 609,263 609.5,263 610,263 610.5,263 611,263 611.5,263 612,263 612.5,263 613,263 613.5,263 614,263 614.5,263 615,263 615.5,263 616,263 616.5,263 617,263 617.5,263 618,263 618.5,263 619,263 619.5,263 620,263 620.5,263 621,263 621.5,263 622,263 622.5,263 623,263 623.5,263 624,263 624.5,263 625,263 625.5,263 626,263 626.5,263 627,263 627.5,263 628,263 628.5,263 629,263 629.5,263 630,263 630.5,263 631,263 631.5,263 632,263 632.5,263 633,263 633.5,263 634,263 634.5,263 635,263 635.5,263 636,263 636.5,263 637,263 637.5,263 638,263 638.5,263 639,263 639.5,263 640,263 640.5,263 641,263 641.5,263 642,263 642.5,263 643,263 643.5,263 644,263 644.5,263 645,263 645.5,263 646,263 646.5,263 647,263 647.5,263 648,263 648.5,263 649,263 649.5,263 650,263 650.5,263 651,263 651.5,263 652,263 652.5,263 653,263 653.5,263 654,263 654.5,263 655,263 655.5,263 656,263 656.5,263 657,263 657.5,263 658,263 658.5,263 659,263 659.5,263 660,263 660.5,263 661,263 661.5,263 662,263 662.5,263 663,263 663.5,263 664,263 664.5,263 665,263 665.5,263 666,263 666.5,263 667,263 667.5,263 668,263 668.5,263 669,263 669.5,263 670,263 670.5,263 671,263 671.5,263 672,263 672.5,263 673,263 673.5,263 674,263 674.5,263 675,263 675.5,263 676,263 676.5,263 677,263 677.5,263 678,263 678.5,263 679,263 679.5,263 680,263 680.5,263 681,263 681.5,263 682,263 682.5,263 683,263 683.5,263 684,263 684.5,263 685,263 685.5,263 686,263 686.5,263 687,263 687.5,263 688,263 688.5,263 689,263 689.5,263 690,263 690.5,263 691,263 691.5,263 692,263 692.5,263 693,263 693.5,263 694,263 694.5,263 695,263 695.5,263 696,263 696.5,263 697,263 697.5,263 698,263 698.5,263 699,263 699.5,263 700,263 700.5,263 701,263 701.5,263 702,263 702.5,263 703,263 703.5,263 704,263 704.5,263 705,263 705.5,263 706,263 706.5,263 707,263 707.5,263 708,263 708.5,263 709,263 709.5,263 710,263 710.5,263 711,263 711.5,263 712,263 712.5,263 713,263 713.5,263 714,263 714.5,263 715,263 715.5,263 716,263 716.5,263 717,263 717.5,263 718,263 718.5,263 719,263 719.5,263 720,263 720.5,263 721,263 721.5,263 722,263 722.5,263 723,263 723.5,263 724,263 724.5,263 725,263 725.5,263 726,263 726.5,263 727,263 727.5,263 728,263 728.5,263 729,263 729.5,263 730,263 730.5,263 731,263 731.5,263 732,263 732.5,263 733,263 733.5,263 734,263 734.5,263 735,263 735.5,263 736,263 736.5,263 737,263 737.5,263 738,263 738.5,263 739,263 739.5,263 740,263 740.5,263 741,263 741.5,263 742,263 742.5,263 743,263 743.5,263 744,263 744.5,263 745,263 745.5,263 746,263 746.5,263 747,263 747.5,263 748,263 748.5,263 749,263 749.5,263 750,263 750.5,263 751,263 751.5,263 752,263 752.5,263 753,263 753.5,263 754,263 754.5,263 755,263 755.5,263 756,263 756.5,263 757,263 757.5,263 758,263 758.5,263 759,263 759.5,263 760,263 760.5,263 761,263 761.5,263 762,263 762.5,263 763,263 763.5,263 764,263 764.5,263 765,263 765.5,263 766,263 766.5,263 767,263 767.5,263 768,263 768.5,263 769,263 769.5,263 770,283.7 770.5,306.8 771,327.3 771.5,345.5 772,361.5 772.5,375.8 773,388.4 773.5,399.6 774,409.5 774.5,418.3 775,426.1 775.5,433 776,439.2 776.5,444.6 777,449.5 777.5,453.9 778,457.7 778.5,461.2 779,464.3 779.5,467 780,469.5 780.5,471.7 781,473.7 781.5,475.5 782,477.1 782.5,478.5 783,479.8 783.5,481 784,482.1 784.5,483 785,483.9 785.5,484.7 786,485.4 786.5,486.1 787,486.7 787.5,487.3 788,487.8 788.5,488.3 789,488.8 789.5,489.2 790,489.6 790.5,489.9 791,490.3 791.5,490.6 792,490.9 792.5,491.2 793,491.5 793.5,491.7 794,492 794.5,492.2 795,492.4 795.5,492.6 796,492.8 796.5,493 797,493.2 797.5,493.4 798,493.5 798.5,493.7 799,493.8 799.5,494 800,494.1 800.5,494.3 801,494.4 801.5,494.6 802,494.7 802.5,494.8 803,494.9 803.5,495 804,495.2 804.5,495.3 805,495.4 805.5,495.5 806,495.6 806.5,495.7 807,495.8 807.5,495.9 808,496 808.5,496 809,496.1 809.5,496.2 810,496.3 810.5,496.4 811,496.4 811.5,496.5 812,496.6 812.5,496.7 813,496.7 813.5,496.8 814,496.9 814.5,496.9 815,497 815.5,497.1 816,497.1 816.5,497.2 817,497.2 817.5,497.3 818,497.3 818.5,497.4 819,497.4 819.5,497.5 820,497.5 820.5,497.6 821,497.6 821.5,497.7 822,497.7 822.5,497.8 823,497.8 823.5,497.8 824,497.9 824.5,497.9 825,498 825.5,498 826,498 826.5,498.1 827,498.1 827.5,498.1 828,498.2 828.5,498.2" fill="none" stroke="#2a8054" stroke-width="3.6" stroke-linejoin="miter" stroke-linecap="butt" stroke-miterlimit="10"/>
<polyline points="481.5,498.7 482,498.7 482.5,498.7 483,498.7 483.5,498.7 484,498.7 484.5,498.7 485,498.7 485.5,498.7 486,498.7 486.5,498.7 487,498.7 487.5,498.7 488,498.7 488.5,498.7 489,498.7 489.5,498.7 490,498.7 490.5,498.7 491,498.7 491.5,498.7 492,498.7 492.5,498.7 493,498.7 493.5,498.7 494,498.7 494.5,498.7 495,498.7 495.5,498.7 496,498.7 496.5,498.7 497,483.8 497.5,466.5 498,450.7 498.5,436.2 499,423 499.5,410.8 500,399.6 500.5,389.4 501,380 501.5,371.4 502,363.5 502.5,356.3 503,349.6 503.5,343.5 504,337.9 504.5,332.8 505,328 505.5,323.7 506,319.7 506.5,316.1 507,312.7 507.5,309.6 508,306.8 508.5,304.1 509,301.7 509.5,299.5 510,297.5 510.5,295.6 511,293.8 511.5,292.2 512,290.8 512.5,289.4 513,288.1 513.5,287 514,285.9 514.5,284.9 515,284 515.5,283.1 516,282.3 516.5,281.6 517,280.9 517.5,280.3 518,279.7 518.5,279.2 519,278.7 519.5,278.2 520,277.8 520.5,277.3 521,277 521.5,276.6 522,276.3 522.5,276 523,275.7 523.5,275.4 524,275.1 524.5,274.9 525,274.7 525.5,274.5 526,274.3 526.5,274.1 527,273.9 527.5,273.7 528,273.6 528.5,273.4 529,273.3 529.5,273.2 530,273 530.5,272.9 531,272.8 531.5,272.7 532,272.6 532.5,272.5 533,272.4 533.5,272.3 534,272.2 534.5,272.1 535,272.1 535.5,272 536,271.9 536.5,271.9 537,271.8 537.5,271.7 538,271.7 538.5,271.6 539,271.6 539.5,271.5 540,271.5 540.5,271.4 541,271.4 541.5,271.3 542,271.3 542.5,271.2 543,271.2 543.5,271.2 544,271.1 544.5,271.1 545,271.1 545.5,271 546,271 546.5,271 547,270.9 547.5,270.9 548,270.9 548.5,270.8 549,270.8 549.5,270.8 550,270.8 550.5,270.7 551,270.7 551.5,270.7 552,270.7 552.5,270.7 553,270.6 553.5,270.6 554,270.6 554.5,270.6 555,270.6 555.5,270.5 556,270.5 556.5,270.5 557,270.5 557.5,270.5 558,270.5 558.5,270.4 559,270.4 559.5,270.4 560,270.4 560.5,270.4 561,270.4 561.5,270.4 562,270.4 562.5,270.4 563,270.3 563.5,270.3 564,270.3 564.5,270.3 565,270.3 565.5,270.3 566,270.3 566.5,270.3 567,270.3 567.5,270.3 568,270.2 568.5,270.2 569,270.2 569.5,270.2 570,270.2 570.5,270.2 571,270.2 571.5,270.2 572,270.2 572.5,270.2 573,270.2 573.5,270.2 574,270.2 574.5,270.2 575,270.2 575.5,270.2 576,270.1 576.5,270.1 577,270.1 577.5,270.1 578,270.1 578.5,270.1 579,270.1 579.5,270.1 580,270.1 580.5,270.1 581,270.1 581.5,270.1 582,270.1 582.5,270.1 583,270.1 583.5,270.1 584,270.1 584.5,270.1 585,270.1 585.5,270.1 586,270.1 586.5,270.1 587,270.1 587.5,270.1 588,270.1 588.5,270.1 589,270.1 589.5,270.1 590,270.1 590.5,270.1 591,270.1 591.5,270.1 592,270 592.5,270 593,270 593.5,270 594,270 594.5,270 595,270 595.5,270 596,270 596.5,270 597,270 597.5,270 598,270 598.5,270 599,270 599.5,270 600,270 600.5,270 601,270 601.5,270 602,270 602.5,270 603,270 603.5,270 604,270 604.5,270 605,270 605.5,270 606,270 606.5,270 607,270 607.5,270 608,270 608.5,270 609,270 609.5,270 610,270 610.5,270 611,270 611.5,270 612,270 612.5,270 613,270 613.5,270 614,270 614.5,270 615,270 615.5,270 616,270 616.5,270 617,270 617.5,270 618,270 618.5,270 619,270 619.5,270 620,270 620.5,270 621,270 621.5,270 622,270 622.5,270 623,270 623.5,270 624,270 624.5,270 625,270 625.5,270 626,270 626.5,270 627,270 627.5,270 628,270 628.5,270 629,270 629.5,270 630,270 630.5,270 631,270 631.5,270 632,270 632.5,270 633,270 633.5,270 634,270 634.5,270 635,270 635.5,270 636,270 636.5,270 637,270 637.5,270 638,270 638.5,270 639,270 639.5,270 640,270 640.5,270 641,270 641.5,270 642,270 642.5,270 643,270 643.5,270 644,270 644.5,270 645,270 645.5,270 646,270 646.5,270 647,270 647.5,270 648,270 648.5,270 649,270 649.5,270 650,270 650.5,270 651,270 651.5,270 652,270 652.5,270 653,270 653.5,270 654,270 654.5,270 655,270 655.5,270 656,270 656.5,270 657,270 657.5,270 658,270 658.5,270 659,270 659.5,270 660,270 660.5,270 661,270 661.5,270 662,270 662.5,270 663,270 663.5,270 664,270 664.5,270 665,270 665.5,270 666,270 666.5,270 667,270 667.5,270 668,270 668.5,270 669,270 669.5,270 670,270 670.5,270 671,270 671.5,270 672,270 672.5,270 673,270 673.5,270 674,270 674.5,270 675,270 675.5,270 676,270 676.5,270 677,270 677.5,270 678,270 678.5,270 679,270 679.5,270 680,270 680.5,270 681,270 681.5,270 682,270 682.5,270 683,270 683.5,270 684,270 684.5,270 685,270 685.5,270 686,270 686.5,270 687,270 687.5,270 688,270 688.5,270 689,270 689.5,270 690,270 690.5,270 691,270 691.5,270 692,270 692.5,270 693,270 693.5,270 694,270 694.5,270 695,270 695.5,270 696,270 696.5,270 697,270 697.5,270 698,270 698.5,270 699,270 699.5,270 700,270 700.5,270 701,270 701.5,270 702,270 702.5,270 703,270 703.5,270 704,270 704.5,270 705,270 705.5,270 706,270 706.5,270 707,270 707.5,270 708,270 708.5,270 709,270 709.5,270 710,270 710.5,270 711,270 711.5,270 712,270 712.5,270 713,270 713.5,270 714,270 714.5,270 715,270 715.5,270 716,270 716.5,270 717,270 717.5,270 718,270 718.5,270 719,270 719.5,270 720,270 720.5,270 721,270 721.5,270 722,270 722.5,270 723,270 723.5,270 724,270 724.5,270 725,270 725.5,270 726,270 726.5,270 727,270 727.5,270 728,270 728.5,270 729,270 729.5,270 730,270 730.5,270 731,270 731.5,270 732,270 732.5,270 733,270 733.5,270 734,270 734.5,270 735,270 735.5,270 736,270 736.5,270 737,270 737.5,270 738,270 738.5,270 739,270 739.5,270 740,270 740.5,270 741,270 741.5,270 742,270 742.5,270 743,270 743.5,270 744,270 744.5,270 745,270 745.5,270 746,270 746.5,270 747,270 747.5,270 748,270 748.5,270 749,270 749.5,270 750,270 750.5,270 751,270 751.5,270 752,270 752.5,270 753,270 753.5,270 754,270 754.5,270 755,270 755.5,270 756,270 756.5,270 757,270 757.5,270 758,270 758.5,270 759,270 759.5,270 760,270 760.5,270 761,270 761.5,270 762,270 762.5,270 763,270 763.5,270 764,270 764.5,270 765,270 765.5,270 766,270 766.5,270 767,270 767.5,270 768,270 768.5,270 769,270 769.5,270 770,270 770.5,274.6 771,296.3 771.5,315.8 772,333.2 772.5,348.9 773,363 773.5,375.6 774,387 774.5,397.2 775,406.3 775.5,414.6 776,422 776.5,428.6 777,434.6 777.5,440 778,444.9 778.5,449.3 779,453.2 779.5,456.8 780,460 780.5,462.9 781,465.6 781.5,467.9 782,470.1 782.5,472.1 783,473.8 783.5,475.5 784,476.9 784.5,478.3 785,479.5 785.5,480.6 786,481.6 786.5,482.6 787,483.4 787.5,484.2 788,484.9 788.5,485.6 789,486.2 789.5,486.8 790,487.3 790.5,487.8 791,488.3 791.5,488.7 792,489.1 792.5,489.5 793,489.8 793.5,490.2 794,490.5 794.5,490.8 795,491 795.5,491.3 796,491.5 796.5,491.8 797,492 797.5,492.2 798,492.4 798.5,492.6 799,492.8 799.5,493 800,493.2 800.5,493.3 801,493.5 801.5,493.6 802,493.8 802.5,493.9 803,494.1 803.5,494.2 804,494.3 804.5,494.4 805,494.6 805.5,494.7 806,494.8 806.5,494.9 807,495 807.5,495.1 808,495.2 808.5,495.3 809,495.4 809.5,495.5 810,495.6 810.5,495.7 811,495.8 811.5,495.9 812,495.9 812.5,496 813,496.1 813.5,496.2 814,496.3 814.5,496.3 815,496.4 815.5,496.5 816,496.5 816.5,496.6 817,496.7 817.5,496.7 818,496.8 818.5,496.9 819,496.9 819.5,497 820,497 820.5,497.1 821,497.1 821.5,497.2 822,497.2 822.5,497.3 823,497.3 823.5,497.4 824,497.4 824.5,497.5 825,497.5 825.5,497.6 826,497.6 826.5,497.6 827,497.7 827.5,497.7 828,497.8 828.5,497.8" fill="none" stroke="#d07a00" stroke-width="3.6" stroke-linejoin="miter" stroke-linecap="butt" stroke-miterlimit="10"/>
<rect x="481.5" y="193.5" width="347" height="307" fill="none" stroke="#404040" stroke-width="1"/>
<text x="474" y="503.9" text-anchor="end" class="l2">0</text>
<text x="474" y="459.9" text-anchor="end" class="l2">0.5</text>
<text x="474" y="415.9" text-anchor="end" class="l2">1</text>
<text x="474" y="371.9" text-anchor="end" class="l2">1.5</text>
<text x="474" y="328.9" text-anchor="end" class="l2">2</text>
<text x="474" y="284.9" text-anchor="end" class="l2">2.5</text>
<text x="474" y="240.9" text-anchor="end" class="l2">3</text>
<text x="474" y="196.9" text-anchor="end" class="l2">3.5</text>
<text transform="translate(484.8,507.8) rotate(-90)" text-anchor="end" class="l2x">1</text>
<text transform="translate(498.9,507.8) rotate(-90)" text-anchor="end" class="l2x">63</text>
<text transform="translate(512.9,507.8) rotate(-90)" text-anchor="end" class="l2x">125</text>
<text transform="translate(527,507.8) rotate(-90)" text-anchor="end" class="l2x">187</text>
<text transform="translate(541,507.8) rotate(-90)" text-anchor="end" class="l2x">249</text>
<text transform="translate(555.1,507.8) rotate(-90)" text-anchor="end" class="l2x">311</text>
<text transform="translate(569.2,507.8) rotate(-90)" text-anchor="end" class="l2x">373</text>
<text transform="translate(583.2,507.8) rotate(-90)" text-anchor="end" class="l2x">435</text>
<text transform="translate(597.3,507.8) rotate(-90)" text-anchor="end" class="l2x">497</text>
<text transform="translate(611.3,507.8) rotate(-90)" text-anchor="end" class="l2x">559</text>
<text transform="translate(625.4,507.8) rotate(-90)" text-anchor="end" class="l2x">621</text>
<text transform="translate(639.5,507.8) rotate(-90)" text-anchor="end" class="l2x">683</text>
<text transform="translate(653.5,507.8) rotate(-90)" text-anchor="end" class="l2x">745</text>
<text transform="translate(667.6,507.8) rotate(-90)" text-anchor="end" class="l2x">807</text>
<text transform="translate(681.6,507.8) rotate(-90)" text-anchor="end" class="l2x">869</text>
<text transform="translate(695.7,507.8) rotate(-90)" text-anchor="end" class="l2x">931</text>
<text transform="translate(709.8,507.8) rotate(-90)" text-anchor="end" class="l2x">993</text>
<text transform="translate(723.8,507.8) rotate(-90)" text-anchor="end" class="l2x">1055</text>
<text transform="translate(737.9,507.8) rotate(-90)" text-anchor="end" class="l2x">1117</text>
<text transform="translate(751.9,507.8) rotate(-90)" text-anchor="end" class="l2x">1179</text>
<text transform="translate(766,507.8) rotate(-90)" text-anchor="end" class="l2x">1241</text>
<text transform="translate(780.1,507.8) rotate(-90)" text-anchor="end" class="l2x">1303</text>
<text transform="translate(794.1,507.8) rotate(-90)" text-anchor="end" class="l2x">1365</text>
<text transform="translate(808.2,507.8) rotate(-90)" text-anchor="end" class="l2x">1427</text>
<text transform="translate(822.2,507.8) rotate(-90)" text-anchor="end" class="l2x">1489</text>
<text x="502" y="167" class="t2" textLength="258" lengthAdjust="spacingAndGlyphs">SMCO-1000 Overload Test/1500ppm CO</text>
<text transform="translate(451,346) rotate(-90)" text-anchor="middle" class="a2" textLength="67" lengthAdjust="spacingAndGlyphs">Response(V)</text>
<text x="635" y="547" class="a2">Time(s)</text>
<line x1="884" y1="449.5" x2="1244" y2="449.5" stroke="#e2e2e2" stroke-width="1"/>
<line x1="884" y1="400.5" x2="1244" y2="400.5" stroke="#e2e2e2" stroke-width="1"/>
<line x1="884" y1="352.5" x2="1244" y2="352.5" stroke="#e2e2e2" stroke-width="1"/>
<line x1="884" y1="304.5" x2="1244" y2="304.5" stroke="#e2e2e2" stroke-width="1"/>
<line x1="884" y1="255.5" x2="1244" y2="255.5" stroke="#e2e2e2" stroke-width="1"/>
<line x1="884" y1="207.5" x2="1244" y2="207.5" stroke="#e2e2e2" stroke-width="1"/>
<line x1="883" y1="478.5" x2="1244" y2="478.5" stroke="#e2e2e2" stroke-width="1"/>
<polyline points="882.5,478.8 883.5,478.5 884.5,478 885.5,478.5 886.5,477.7 887.5,477.9 888.5,478.4 889.5,477.5 890.5,477.9 891.5,477.5 892.5,478 893.5,478.7 894.5,477.7 895.5,478.1 896.5,477.6 897.5,477.5 898.5,477.5 899.5,478.6 900.5,478.9 900.6,478 900.9,432.6 901.1,395.8 901.4,365.8 901.6,341.6 901.9,321.8 902.1,305.8 902.4,292.9 902.6,282.1 902.9,273.5 903.1,266.2 903.4,260.9 903.6,255.9 903.9,252.6 904.1,249.3 904.4,247.3 904.6,245.4 904.9,242.9 905.1,241.9 905.4,240.8 905.6,240.7 905.9,240.5 906.1,239.5 906.4,238.4 906.6,239 906.9,237.2 907.1,238.4 907.4,237.2 907.6,235.9 907.9,238.5 908.1,237.9 908.4,236.5 908.6,237 909.6,236.7 910.6,236.8 911.6,235.9 912.6,236.3 913.6,236.9 914.6,236.8 915.6,237.3 916.6,236.7 917.6,237.9 918.6,236.4 919.6,236.9 920.6,235.8 921.6,236.1 922.6,237.4 923.6,236.3 924.6,237 925.6,236.7 926.6,236.3 927.6,236.6 928.6,236.5 929.6,236.6 930.6,237.2 931.6,237.2 932.6,236.6 933.6,236.4 934.6,237 935.6,236.8 936.6,237.4 937.6,238.2 938.6,237.3 939.6,236.9 940.6,236.8 941.6,236.5 942.6,236.5 943.6,236.5 944.6,236.8 945.6,236.8 946.6,237.4 947.6,236.8 948.6,236.9 949.6,236.4 950.6,237.9 951.6,237.3 952.6,238 953.6,237.5 954.6,237.8 955.6,237 956.6,237.5 957.6,238.5 958.6,236.5 959.6,237.7 960.6,238 961.6,237.4 962.6,237.6 963.6,237.8 964.6,236.9 965.6,237.4 966.6,236.8 967.6,236.9 968.6,237 969.6,237.2 970.6,237.4 971.6,237.5 972.6,236.6 973.6,238.3 974.6,237.9 975.6,237.7 976.6,237.2 977.6,237.3 978.6,237.7 979.6,237.6 980.6,236.6 981.6,237.8 982.6,238.9 983.6,236.5 984.6,238 985.6,237.7 986.6,237.5 987.6,238.2 988.6,236.9 989.6,237.6 990.6,238.3 991.6,237.5 992.6,237.4 993.6,237.7 994.6,237.4 995.6,238.4 996.6,237.2 997.6,238.1 998.6,237 999.6,238 1000.6,237.6 1001.6,236.4 1002.6,237.7 1003.6,237.2 1004.6,237.5 1005.6,238.6 1006.6,237.2 1007.6,237.3 1008.6,238.6 1009.6,237.9 1010.6,238.6 1011.6,238 1012.6,237.4 1013.6,237.9 1014.6,238.5 1015.6,238.4 1016.6,237.9 1017.6,238 1018.6,237.9 1019.6,237.7 1020.6,239 1021.6,238 1022.6,237.4 1023.6,237.8 1024.6,238.4 1025.6,238.4 1026.6,238 1027.6,237.8 1028.6,238.1 1029.6,237.3 1030.6,237.5 1031.6,238.6 1032.6,237.9 1033.6,238.4 1034.6,238.8 1035.6,238.6 1036.6,238.2 1037.6,239.3 1038.6,238.6 1039.6,238.1 1040.6,238.7 1041.6,238.5 1042.6,237.9 1043.6,238.4 1044.6,238.3 1045.6,237.4 1046.6,238.3 1047.6,238.3 1048.6,238.2 1049.6,237.6 1050.6,238.3 1051.6,238.4 1052.6,238.5 1053.6,237.9 1054.6,238.8 1055.6,237.9 1056.6,238.4 1057.6,239.2 1058.6,238.2 1059.6,238.3 1060.6,239.2 1061.6,238.4 1062.6,238.5 1063.6,238.8 1064.6,239.2 1065.6,237.6 1066.6,238.3 1067.6,238.2 1068.6,238.2 1069.6,238.3 1070.6,238.3 1071.6,238.9 1072.6,238.3 1073.6,238.9 1074.6,239 1075.6,238.5 1076.6,238.9 1077.6,239.7 1078.6,239.1 1079.6,238.6 1080.6,238.9 1081.6,238.5 1082.6,239.1 1083.6,239.4 1084.6,238.6 1085.6,238.9 1086.6,239.6 1087.6,238.8 1088.6,239.2 1089.6,238.6 1090.6,238.7 1091.6,238.9 1092.6,240.2 1093.6,238.9 1094.6,238.9 1095.6,238.9 1096.6,239.1 1097.6,239.5 1098.6,239.3 1099.6,240.3 1100.6,239.4 1101.6,240 1102.6,239.4 1103.6,239.6 1104.6,238.6 1105.6,239.3 1106.6,239.3 1107.6,239.3 1108.6,238.3 1109.6,239.9 1110.6,239.2 1111.6,239.2 1112.6,239.3 1113.6,239.4 1114.6,239.7 1115.6,238.9 1116.6,239.1 1117.6,239.7 1118.6,239.6 1119.6,239.4 1120.6,239.3 1121.6,239.2 1122.6,239.6 1123.6,240.2 1124.6,239.1 1125.6,240.5 1126.6,240.1 1127.6,239.5 1128.6,240.1 1129.6,239 1130.6,238.9 1131.6,239.2 1132.6,239.6 1133.6,239.7 1134.6,239.6 1135.6,239.9 1136.6,238.8 1137.6,240.1 1138.6,239.2 1139.6,239.6 1140.6,239.7 1141.6,239.4 1142.6,239.3 1143.6,239.5 1144.6,240 1145.6,240.3 1146.6,240.3 1147.6,239.6 1148.6,239.7 1149.6,239.7 1150.6,240.4 1151.6,239.1 1152.6,240.8 1153.6,239.9 1154.6,239.8 1155.6,240.4 1156.6,240.8 1157.6,240.4 1158.6,240.8 1159.6,240.4 1160.6,240.9 1161.6,241 1162.6,240.3 1163.6,241.1 1164.6,240.5 1165.6,240.4 1166.6,240 1167.6,240.3 1168.6,240.8 1169.6,239.8 1170.6,240.8 1171.6,240.7 1172.6,240.7 1173.6,239.4 1174.6,240.5 1175.6,240.9 1176.6,240.2 1177.6,240.7 1178.6,239.4 1179.6,241 1180.6,240.3 1181.6,241.1 1182.6,239.8 1183.6,241.1 1184.6,240.6 1185.6,241.2 1186.6,240.3 1187.6,240.5 1188.6,241.9 1189.6,240.4 1190.6,240.5 1191.6,240.7 1192.6,240.4 1193.6,241.5 1194.6,241.8 1195.6,240.6 1196.6,240.1 1197.6,241.6 1198.6,241.6 1199.6,241.4 1200.6,241.6 1201.6,240.6 1202.6,241 1203.6,240.4 1204.6,240.4 1205.6,241.6 1206.6,240.8 1207.6,242.3 1208.6,241.2 1209.6,240.9 1210.6,241.6 1211.6,242.2 1212.6,241.5 1213.6,240.7 1214.6,241.5 1215.6,242 1216.6,241.1 1217.6,241 1218.6,241.9 1219.6,241.5 1220.6,240.9 1221.6,241.3 1222.6,241.1 1223.6,241.6 1224.6,241.6 1225.6,242.1 1226.6,241.9 1227.6,240.8 1228.6,241.8 1229.4,241.6 1229.9,375.6 1230.4,433.7 1230.9,458.4 1231.4,469 1231.9,474.1 1232.4,475.3 1232.9,475.7 1233.4,476.9 1233.9,476.3 1234.4,476.4 1234.9,476 1235.4,475.9 1235.9,475.8 1236.4,475.9 1236.9,476.1 1237.4,475.2 1237.9,476 1238.4,475.3 1238.9,475.3 1239.4,475.8 1239.9,475.5 1240.4,475 1240.9,475.9 1241.4,475.1 1241.9,475.4 1242.4,475.3 1242.9,475.6 1243.4,475.1 1243.9,475.5 1244.4,474.9 1244.9,475.4" fill="none" stroke="#6cc0ee" stroke-width="3.4" stroke-linejoin="round" stroke-linecap="butt"/>
<polyline points="882.5,479.3 883.5,479.5 884.5,480.4 885.5,479.7 886.5,479.6 887.5,480.5 888.5,479.7 889.5,479.3 890.5,479.9 891.5,479.1 892.5,480.1 893.5,480.1 894.5,479.4 895.5,479.3 896.5,479.7 897.5,479.6 898.5,479.2 899.5,479.8 900.5,478.8 901,479.6 901.2,438.9 901.5,405.3 901.8,377.6 902,354.6 902.2,335.9 902.5,320.2 902.8,307.2 903,296.4 903.2,287.7 903.5,281 903.8,274.5 904,270 904.2,266.5 904.5,263.2 904.8,260.8 905,257.3 905.2,254.9 905.5,254.8 905.8,253.1 906,252.6 906.2,250.9 906.5,251 906.8,250.2 907,249.6 907.2,249.1 907.5,248.7 907.8,248.3 908,248.1 908.2,248.4 908.5,247.2 908.8,248.6 909,247.3 910,247.8 911,246.9 912,246.7 913,248.3 914,246.7 915,246 916,246.4 917,246.7 918,248.4 919,247.1 920,247.6 921,246.2 922,247.2 923,247.4 924,248.2 925,246.5 926,247.4 927,247.2 928,246.3 929,247 930,246.8 931,245.4 932,247.5 933,247.4 934,246.8 935,246.1 936,248.1 937,247.3 938,247.8 939,248.1 940,246.8 941,247.7 942,247 943,247.1 944,247.1 945,247.2 946,248 947,247.3 948,247.1 949,247 950,247.5 951,246.6 952,246.9 953,247.2 954,246.9 955,247.2 956,246.9 957,248.7 958,248.3 959,247.7 960,247.3 961,248.9 962,247.6 963,247.3 964,247.6 965,247.6 966,248.4 967,247.4 968,248.9 969,246.9 970,248 971,246.8 972,248.8 973,247.3 974,247.5 975,248.2 976,248.4 977,246.8 978,247.4 979,246.6 980,247.7 981,247.6 982,247.4 983,247.2 984,247.4 985,247.2 986,248.1 987,248.8 988,246.4 989,247.7 990,247.5 991,248.1 992,247.1 993,247.7 994,247.1 995,248.3 996,247.9 997,247.7 998,248.1 999,247.7 1000,246.8 1001,248.3 1002,248.1 1003,247.8 1004,248.6 1005,248.8 1006,247.2 1007,247.4 1008,249.1 1009,249 1010,247.5 1011,247.2 1012,247.6 1013,247.7 1014,247 1015,248.1 1016,247.2 1017,247.3 1018,248.8 1019,247.7 1020,248.1 1021,248.6 1022,248.8 1023,248 1024,248.3 1025,247.7 1026,249.5 1027,248.7 1028,247.5 1029,248.3 1030,248.8 1031,248.7 1032,249.6 1033,249.3 1034,248 1035,248.3 1036,247.5 1037,248.6 1038,248.6 1039,250.4 1040,248.6 1041,247 1042,248 1043,248.6 1044,247.7 1045,248 1046,248.3 1047,248.8 1048,248.5 1049,248 1050,249.2 1051,248.3 1052,248.3 1053,247.7 1054,248.2 1055,249.2 1056,247.6 1057,248.7 1058,249.3 1059,248.5 1060,249 1061,248 1062,249.7 1063,249.6 1064,249 1065,247.6 1066,248.2 1067,249.6 1068,250.1 1069,249.2 1070,249.8 1071,248.5 1072,248.9 1073,249 1074,249.3 1075,248 1076,249.7 1077,250 1078,248.3 1079,248.2 1080,249.4 1081,248.7 1082,247.5 1083,249.7 1084,249.3 1085,248.9 1086,250.7 1087,249.3 1088,248.7 1089,249.3 1090,248.6 1091,248.8 1092,249.6 1093,248.9 1094,249 1095,250.5 1096,250 1097,250 1098,249.8 1099,249.8 1100,250.5 1101,249.5 1102,250.8 1103,248.8 1104,249.3 1105,248.6 1106,249.3 1107,249.9 1108,250.6 1109,249.1 1110,249.6 1111,249.4 1112,249.1 1113,248.8 1114,249.7 1115,248.5 1116,249.8 1117,249.8 1118,249.3 1119,249.1 1120,248.8 1121,251.1 1122,248.9 1123,250.9 1124,250.3 1125,249.6 1126,249.1 1127,250.6 1128,251.1 1129,249.3 1130,249.8 1131,250.7 1132,250.2 1133,251.4 1134,249.6 1135,250.4 1136,249.2 1137,251.6 1138,249.6 1139,248.6 1140,250.1 1141,250.1 1142,251.5 1143,250 1144,250.2 1145,250.6 1146,251.4 1147,250.2 1148,251 1149,250.7 1150,250.1 1151,250.4 1152,250.4 1153,249.7 1154,251.2 1155,249.4 1156,251.2 1157,251.1 1158,250.4 1159,249.9 1160,250.3 1161,250.8 1162,251.1 1163,250.8 1164,251.3 1165,250.2 1166,250.8 1167,249.5 1168,251.2 1169,250.8 1170,250.4 1171,251.5 1172,251.2 1173,248.8 1174,250.8 1175,249.8 1176,251.5 1177,252.6 1178,250.5 1179,250.9 1180,250.7 1181,251.1 1182,251.4 1183,251.8 1184,250.2 1185,252.1 1186,250.3 1187,251.2 1188,251.8 1189,251.5 1190,250.4 1191,250.6 1192,250.8 1193,251.1 1194,251.9 1195,250.2 1196,251.5 1197,251.6 1198,251.6 1199,251.5 1200,252.3 1201,251.6 1202,251.9 1203,251.7 1204,252.6 1205,250 1206,252.2 1207,251.2 1208,251.2 1209,250.7 1210,250.1 1211,251.2 1212,251 1213,251.8 1214,250.5 1215,252.5 1216,251.7 1217,251.4 1218,251.1 1219,251 1220,250.8 1221,251.2 1222,251.7 1223,251.5 1224,250.7 1225,251.5 1226,251.1 1227,251.9 1228,253.1 1229,252.2 1229.2,251.8 1229.7,379.7 1230.2,435.1 1230.7,458.9 1231.2,469.8 1231.7,473.7 1232.2,475.7 1232.7,476.2 1233.2,476.6 1233.7,477 1234.2,476.3 1234.7,476.3 1235.2,476 1235.7,476.4 1236.2,475.7 1236.7,475.6 1237.2,475.4 1237.7,475.3 1238.2,475.8 1238.7,476.4 1239.2,475.3 1239.7,475.8 1240.2,475.5 1240.7,475.1 1241.2,475.3 1241.7,475.2 1242.2,475.1 1242.7,475.8 1243.2,474.6 1243.7,475.3 1244.2,475.2 1244.7,474.9" fill="none" stroke="#55b0e6" stroke-width="3.6" stroke-linejoin="round" stroke-linecap="butt"/>
<polyline points="882.5,478.7 883.5,479 884.5,478.7 885.5,478.8 886.5,478.9 887.5,477.8 888.5,479.2 889.5,479.5 890.5,479 891.5,479 892.5,478 893.5,478.6 894.5,478.3 895.5,478.4 896.5,479 897.5,478.3 898.5,478.5 899.5,477.8 900.5,478.5 900.8,478.6 901,434.4 901.3,398.4 901.5,369.4 901.8,345.5 902,326.2 902.3,310.6 902.5,298.4 902.8,288.4 903,279.6 903.3,272.4 903.5,267 903.8,263.2 904,258.6 904.3,257 904.5,254.6 904.8,251.8 905,250.7 905.3,249.5 905.5,249 905.8,246.3 906,247.2 906.3,245.6 906.5,244.8 906.8,245.1 907,244.6 907.3,243.8 907.5,243.2 907.8,243.5 908,245 908.3,245.3 908.5,244.3 908.8,244.6 909.8,243.2 910.8,243.4 911.8,243.7 912.8,242.7 913.8,242.8 914.8,243.5 915.8,243.3 916.8,242.8 917.8,243.8 918.8,243.3 919.8,244.2 920.8,243.5 921.8,243.3 922.8,243.6 923.8,243.4 924.8,243.1 925.8,243.3 926.8,244.1 927.8,244.1 928.8,244.5 929.8,242.4 930.8,243.4 931.8,243.3 932.8,243.8 933.8,243.3 934.8,243.3 935.8,244.2 936.8,243.8 937.8,242.9 938.8,244.6 939.8,244.4 940.8,243.3 941.8,244.3 942.8,243.2 943.8,244.6 944.8,243.6 945.8,243.2 946.8,243.5 947.8,243.3 948.8,244 949.8,244 950.8,243.9 951.8,243.5 952.8,241.3 953.8,244 954.8,242.6 955.8,244.1 956.8,244.7 957.8,244.1 958.8,243.7 959.8,243.8 960.8,243.9 961.8,243.6 962.8,243.6 963.8,243.4 964.8,244.9 965.8,244 966.8,244.7 967.8,243.9 968.8,244.1 969.8,244 970.8,244.4 971.8,244.7 972.8,244.3 973.8,243.7 974.8,243.6 975.8,245.3 976.8,244 977.8,244 978.8,245.2 979.8,245 980.8,244.6 981.8,244 982.8,245.9 983.8,244.5 984.8,244.7 985.8,244.2 986.8,243.3 987.8,243.4 988.8,244.6 989.8,244.6 990.8,244.2 991.8,243.6 992.8,243.4 993.8,244.2 994.8,243.4 995.8,245.1 996.8,245.3 997.8,246.4 998.8,245.1 999.8,244.1 1000.8,243.9 1001.8,242.1 1002.8,244.1 1003.8,244.4 1004.8,245.2 1005.8,245 1006.8,245 1007.8,244.8 1008.8,245.1 1009.8,245.6 1010.8,243.9 1011.8,244.3 1012.8,243.7 1013.8,245.8 1014.8,245.6 1015.8,245.2 1016.8,243.9 1017.8,244.9 1018.8,244.6 1019.8,244.8 1020.8,244.7 1021.8,245.2 1022.8,244.5 1023.8,245.4 1024.8,245 1025.8,244.7 1026.8,244.8 1027.8,244.6 1028.8,245.5 1029.8,244.7 1030.8,245.2 1031.8,244.7 1032.8,243.9 1033.8,245.6 1034.8,244.3 1035.8,245.5 1036.8,245.3 1037.8,243.9 1038.8,244.4 1039.8,244.7 1040.8,244.5 1041.8,244.3 1042.8,245.6 1043.8,245 1044.8,245.4 1045.8,244.9 1046.8,245.4 1047.8,244.7 1048.8,245.2 1049.8,245.6 1050.8,245.3 1051.8,244.9 1052.8,244.5 1053.8,245.4 1054.8,245.6 1055.8,245.2 1056.8,244.8 1057.8,245.7 1058.8,247.1 1059.8,245.2 1060.8,245.6 1061.8,245.7 1062.8,243.6 1063.8,245.5 1064.8,245 1065.8,246.5 1066.8,245.3 1067.8,245 1068.8,245.4 1069.8,245.7 1070.8,245.2 1071.8,245.6 1072.8,244.7 1073.8,245.5 1074.8,246.2 1075.8,247 1076.8,246.2 1077.8,245.9 1078.8,246.5 1079.8,246.4 1080.8,246.9 1081.8,246.5 1082.8,245.7 1083.8,246 1084.8,245.9 1085.8,246 1086.8,246 1087.8,245.3 1088.8,244.4 1089.8,245.4 1090.8,244.5 1091.8,246 1092.8,245.9 1093.8,244.8 1094.8,246.4 1095.8,246.6 1096.8,246.1 1097.8,247.2 1098.8,247.3 1099.8,245.2 1100.8,246.8 1101.8,246.4 1102.8,246.4 1103.8,246.8 1104.8,245.6 1105.8,245.7 1106.8,245.6 1107.8,245.7 1108.8,246.1 1109.8,245.2 1110.8,245.5 1111.8,246.7 1112.8,246.2 1113.8,246.6 1114.8,245 1115.8,245.8 1116.8,246 1117.8,246.4 1118.8,246 1119.8,247 1120.8,246.4 1121.8,246.4 1122.8,246.5 1123.8,247 1124.8,246.1 1125.8,247.3 1126.8,246.8 1127.8,246.6 1128.8,246.6 1129.8,246.9 1130.8,247.3 1131.8,247.3 1132.8,246.9 1133.8,247.2 1134.8,246.7 1135.8,247.5 1136.8,246.7 1137.8,245.3 1138.8,247.7 1139.8,246.8 1140.8,245.9 1141.8,246.6 1142.8,246.2 1143.8,248.3 1144.8,247.2 1145.8,245.7 1146.8,247.2 1147.8,246.6 1148.8,248.2 1149.8,246.2 1150.8,245.4 1151.8,247 1152.8,246.7 1153.8,246.7 1154.8,245.5 1155.8,247.3 1156.8,248.2 1157.8,245.7 1158.8,247.9 1159.8,246.7 1160.8,248.8 1161.8,247.4 1162.8,247 1163.8,247.9 1164.8,247.6 1165.8,246.8 1166.8,247.7 1167.8,246.9 1168.8,246 1169.8,248.7 1170.8,247.1 1171.8,246.9 1172.8,247.6 1173.8,246.3 1174.8,246.4 1175.8,247 1176.8,247 1177.8,247.5 1178.8,248.2 1179.8,247.1 1180.8,247.8 1181.8,247.9 1182.8,246.8 1183.8,247.7 1184.8,246.9 1185.8,248.3 1186.8,247.9 1187.8,247.6 1188.8,246.7 1189.8,247.7 1190.8,247.1 1191.8,248.2 1192.8,247.6 1193.8,247.1 1194.8,248.4 1195.8,248.3 1196.8,247.4 1197.8,248.6 1198.8,247.6 1199.8,247.6 1200.8,247.9 1201.8,247.3 1202.8,247.6 1203.8,247.8 1204.8,249 1205.8,249 1206.8,247.8 1207.8,249.1 1208.8,248 1209.8,248.3 1210.8,248.7 1211.8,248.3 1212.8,249.8 1213.8,248.3 1214.8,247.3 1215.8,249 1216.8,247.9 1217.8,248 1218.8,246.1 1219.8,248.9 1220.8,248.8 1221.8,248.8 1222.8,248.9 1223.8,249.5 1224.8,248.3 1225.8,249 1226.8,247.8 1227.8,248.1 1228.8,249.1 1229.2,248.4 1229.7,378.3 1230.2,434.9 1230.7,459 1231.2,469.2 1231.7,474 1232.2,475.6 1232.7,475.9 1233.2,476.2 1233.7,477.1 1234.2,476 1234.7,476.4 1235.2,476.4 1235.7,476.3 1236.2,475.7 1236.7,475.8 1237.2,475.9 1237.7,476 1238.2,475.5 1238.7,475.3 1239.2,475.9 1239.7,475.8 1240.2,475.6 1240.7,475.2 1241.2,475.5 1241.7,475.3 1242.2,475.5 1242.7,474.8 1243.2,475.2 1243.7,475.1 1244.2,474.8 1244.7,475.2" fill="none" stroke="#1f70ae" stroke-width="3.2" stroke-linejoin="round" stroke-linecap="butt"/>
<polyline points="882.5,477 883.5,476.8 884.5,477.2 885.5,476.4 886.5,477 887.5,477.2 888.5,477.1 889.5,477.4 890.5,476.5 891.5,476.4 892.5,477.1 893.5,477.2 894.5,477.8 895.5,477.2 896.5,476.7 897.5,477.3 898.5,476.7 899.5,476.4 900.5,478 900.8,477 901,421.7 901.3,378.6 901.5,345.1 901.8,318.9 902,298.7 902.3,282.5 902.5,270.1 902.8,261.1 903,253.7 903.3,247.6 903.5,243 903.8,239.4 904,236.3 904.3,235.2 904.5,233.1 904.8,231.8 905,230.7 905.3,230.3 905.5,229.4 905.8,229 906,227.5 906.3,228.2 906.5,229 906.8,227.2 907,227.3 907.3,227.8 907.5,227.8 907.8,227.5 908,226.1 908.3,227.4 908.5,226.3 908.8,226.5 909.8,227.3 910.8,226.8 911.8,227.4 912.8,228.9 913.8,227.4 914.8,227.4 915.8,226.4 916.8,226.6 917.8,226.4 918.8,226.7 919.8,226.4 920.8,226.6 921.8,226.9 922.8,226.4 923.8,226.2 924.8,226.3 925.8,227.4 926.8,227.1 927.8,227.7 928.8,227.7 929.8,226.9 930.8,227.5 931.8,226.3 932.8,228.5 933.8,227.9 934.8,227 935.8,226.5 936.8,227.4 937.8,226.1 938.8,226.7 939.8,227.7 940.8,227.3 941.8,227 942.8,227.8 943.8,226.6 944.8,227.5 945.8,227 946.8,226.8 947.8,227.6 948.8,226.7 949.8,228.5 950.8,227 951.8,228.6 952.8,226.7 953.8,227.8 954.8,226.7 955.8,226.6 956.8,227.5 957.8,227.8 958.8,226.7 959.8,228.2 960.8,227 961.8,227.6 962.8,227.7 963.8,227.9 964.8,226.4 965.8,228.5 966.8,227.9 967.8,227.3 968.8,227 969.8,226.6 970.8,226.8 971.8,227.9 972.8,227.4 973.8,227 974.8,227.3 975.8,228.6 976.8,227.5 977.8,227.3 978.8,228.5 979.8,228 980.8,227.8 981.8,227.4 982.8,226.8 983.8,227.1 984.8,227.5 985.8,227.7 986.8,228 987.8,228.2 988.8,228 989.8,228 990.8,227.3 991.8,226.6 992.8,227.6 993.8,227.3 994.8,227.5 995.8,227.8 996.8,227.2 997.8,227.3 998.8,227.9 999.8,228.1 1000.8,227.6 1001.8,228.3 1002.8,227.9 1003.8,227.4 1004.8,228.1 1005.8,229.2 1006.8,227.7 1007.8,228.8 1008.8,228.9 1009.8,229 1010.8,227.7 1011.8,229.4 1012.8,228.2 1013.8,228 1014.8,228.1 1015.8,228.6 1016.8,228.3 1017.8,228.1 1018.8,229 1019.8,227.8 1020.8,227.7 1021.8,228.8 1022.8,228.7 1023.8,229 1024.8,227.7 1025.8,229 1026.8,228.7 1027.8,229.5 1028.8,227.7 1029.8,228.6 1030.8,228.3 1031.8,227.5 1032.8,228 1033.8,229.2 1034.8,228.2 1035.8,228.1 1036.8,229.1 1037.8,229.1 1038.8,229.2 1039.8,228.1 1040.8,228.6 1041.8,229.2 1042.8,228.2 1043.8,228.2 1044.8,229.2 1045.8,229.6 1046.8,228 1047.8,227.1 1048.8,227.9 1049.8,228.1 1050.8,228.7 1051.8,229.1 1052.8,228.7 1053.8,228.4 1054.8,228.9 1055.8,228.3 1056.8,228.8 1057.8,228.5 1058.8,230.5 1059.8,229.4 1060.8,228.4 1061.8,228.3 1062.8,228.7 1063.8,228 1064.8,228.5 1065.8,228.5 1066.8,229.5 1067.8,228.8 1068.8,228.6 1069.8,228.3 1070.8,228.4 1071.8,229 1072.8,229 1073.8,229.8 1074.8,228.8 1075.8,229.8 1076.8,229.3 1077.8,229.2 1078.8,228 1079.8,228.4 1080.8,229.7 1081.8,230.1 1082.8,229.4 1083.8,229.7 1084.8,229.1 1085.8,229.1 1086.8,228.9 1087.8,229.9 1088.8,229.6 1089.8,229.2 1090.8,229.2 1091.8,229.8 1092.8,229.6 1093.8,229 1094.8,230.5 1095.8,229.6 1096.8,229.5 1097.8,230.4 1098.8,230.1 1099.8,229.5 1100.8,229.9 1101.8,228.9 1102.8,229.2 1103.8,228.3 1104.8,230.4 1105.8,228.5 1106.8,230.1 1107.8,229.2 1108.8,229.1 1109.8,229.6 1110.8,229.9 1111.8,230.1 1112.8,230.8 1113.8,230 1114.8,230.3 1115.8,229.5 1116.8,230.3 1117.8,229.9 1118.8,229.6 1119.8,229.8 1120.8,229.9 1121.8,230 1122.8,230.2 1123.8,229.7 1124.8,229.5 1125.8,230.4 1126.8,229 1127.8,229.7 1128.8,231 1129.8,228.4 1130.8,229.7 1131.8,230.5 1132.8,229.1 1133.8,231.7 1134.8,228.6 1135.8,231 1136.8,231.1 1137.8,230.8 1138.8,230.1 1139.8,230.5 1140.8,229.7 1141.8,230.8 1142.8,229.6 1143.8,230.1 1144.8,230.9 1145.8,229.7 1146.8,230.1 1147.8,230.5 1148.8,229.6 1149.8,231.1 1150.8,230.6 1151.8,229.5 1152.8,230.4 1153.8,230 1154.8,230.1 1155.8,230.6 1156.8,230.1 1157.8,231.1 1158.8,230.2 1159.8,231.2 1160.8,230.6 1161.8,231.1 1162.8,230.3 1163.8,230.4 1164.8,230 1165.8,231.1 1166.8,231.3 1167.8,232 1168.8,231.5 1169.8,230.9 1170.8,230.7 1171.8,231 1172.8,230.8 1173.8,231.7 1174.8,231.4 1175.8,230.4 1176.8,230.5 1177.8,231.7 1178.8,231.1 1179.8,230.8 1180.8,231.7 1181.8,230.8 1182.8,230.8 1183.8,230.8 1184.8,229.9 1185.8,231.6 1186.8,230.4 1187.8,230.8 1188.8,230.7 1189.8,231.6 1190.8,231.1 1191.8,231.2 1192.8,230.2 1193.8,231.2 1194.8,230.4 1195.8,231.4 1196.8,231.5 1197.8,231.3 1198.8,232.5 1199.8,231.6 1200.8,231.7 1201.8,231.5 1202.8,231.3 1203.8,232 1204.8,232.1 1205.8,230.7 1206.8,232.1 1207.8,231.8 1208.8,232.1 1209.8,231.8 1210.8,230.8 1211.8,230.9 1212.8,232.7 1213.8,231.7 1214.8,230.8 1215.8,231.8 1216.8,231.4 1217.8,230.6 1218.8,230.3 1219.8,230.7 1220.8,231.9 1221.8,231.7 1222.8,231.6 1223.8,232 1224.8,232.2 1225.8,230.6 1226.8,231.7 1227.8,231.4 1228.8,231.1 1229.8,231.9 1230.3,330.3 1230.8,387.5 1231.3,420.8 1231.8,441 1232.3,453.6 1232.8,460 1233.3,464.4 1233.8,467.9 1234.3,469.9 1234.8,471.2 1235.3,471.7 1235.8,473 1236.3,473 1236.8,473.2 1237.3,473.7 1237.8,474.1 1238.3,474.5 1238.8,474.7 1239.3,474.6 1239.8,475 1240.3,474.8 1240.8,475.1 1241.3,474.4 1241.8,474.4 1242.3,475.2 1242.8,474.5 1243.3,474.9 1243.8,474.9 1244.3,474.8 1244.8,474.8" fill="none" stroke="#e07a14" stroke-width="2.6" stroke-linejoin="round" stroke-linecap="butt"/>
<polyline points="882.5,478.2 883.5,476.6 884.5,478 885.5,478.5 886.5,477.6 887.5,477.6 888.5,477.9 889.5,478.3 890.5,477.1 891.5,477.6 892.5,477.5 893.5,477.8 894.5,477.7 895.5,477.9 896.5,477.4 897.5,477.6 898.5,477.3 899.5,477.3 900.5,477.5 901,477.6 901.2,415.9 901.5,369.3 901.8,333.9 902,306.9 902.2,287 902.5,271.3 902.8,259.9 903,250.9 903.2,244.4 903.5,239.3 903.8,235.1 904,232.5 904.2,231.3 904.5,227.4 904.8,227.4 905,226.7 905.2,225 905.5,224.2 905.8,226.1 906,224.2 906.2,225.5 906.5,224.3 906.8,223.9 907,224.1 907.2,224.1 907.5,224.4 907.8,223.8 908,223.6 908.2,223.6 908.5,224.4 908.8,224 909,222.8 910,223 911,223.7 912,223.1 913,223.2 914,222.9 915,223.3 916,223.8 917,224.1 918,223.5 919,224.9 920,223.5 921,225.6 922,224.2 923,223.9 924,223.2 925,221.7 926,223.5 927,223.7 928,224.9 929,222.7 930,224.9 931,223.5 932,224.1 933,222 934,223.8 935,223.5 936,224.1 937,223.8 938,223 939,224.3 940,224.2 941,224.1 942,224.4 943,224.5 944,223.8 945,222.9 946,222.9 947,224.7 948,224.3 949,223.9 950,223.6 951,223.9 952,223.9 953,223.7 954,223.4 955,225.3 956,224.1 957,223.5 958,223.1 959,223.5 960,224.4 961,224.5 962,223.8 963,224 964,223.8 965,223.3 966,224.9 967,224.3 968,225.7 969,223.6 970,224 971,224.7 972,224 973,223.2 974,223.5 975,224.2 976,224.4 977,224.1 978,224.8 979,224.9 980,224.4 981,224.3 982,224.1 983,224.6 984,224.9 985,224.3 986,224.6 987,224.1 988,223.4 989,223.7 990,224.9 991,224.7 992,225.4 993,224.4 994,225 995,225.3 996,225.1 997,224.1 998,224.3 999,224.6 1000,223.9 1001,224.8 1002,225.2 1003,224.2 1004,225.8 1005,224.4 1006,224.4 1007,224.4 1008,224.1 1009,224.9 1010,224.7 1011,225.7 1012,225.1 1013,225 1014,224.6 1015,223.8 1016,224.7 1017,224.2 1018,225.4 1019,224.7 1020,225.9 1021,225.3 1022,225.4 1023,225 1024,225 1025,225.3 1026,225.5 1027,224.4 1028,225.2 1029,226.6 1030,224.9 1031,224.8 1032,224.5 1033,224 1034,225.8 1035,225 1036,225.2 1037,226.2 1038,226.7 1039,224.5 1040,225.8 1041,225.5 1042,225.4 1043,225.4 1044,225.1 1045,226.2 1046,225.6 1047,225.4 1048,226 1049,225.8 1050,225.5 1051,225.5 1052,226.4 1053,225.6 1054,225.2 1055,224.8 1056,225.1 1057,224.7 1058,225.4 1059,225.6 1060,224.1 1061,225.4 1062,225.9 1063,225.6 1064,224.8 1065,226.3 1066,225 1067,224.7 1068,224.8 1069,225.5 1070,226.2 1071,226.3 1072,225.7 1073,224.8 1074,225.2 1075,225.1 1076,225.5 1077,224.5 1078,225.8 1079,226.1 1080,225.6 1081,226 1082,225.1 1083,224.8 1084,225.4 1085,226.6 1086,226.5 1087,225.5 1088,226.6 1089,225.7 1090,226.9 1091,226.2 1092,225.6 1093,226.5 1094,225.5 1095,225.4 1096,225 1097,226.2 1098,226 1099,226 1100,225.8 1101,227 1102,225.8 1103,225.6 1104,226.9 1105,227.1 1106,226.4 1107,225 1108,225.8 1109,226.6 1110,226.2 1111,227.3 1112,225.4 1113,226.7 1114,225.9 1115,227.2 1116,226.3 1117,227 1118,225.9 1119,225.5 1120,225.7 1121,226 1122,225.8 1123,227.2 1124,227.3 1125,226.7 1126,225.8 1127,226.4 1128,226.1 1129,227.5 1130,226.8 1131,226.9 1132,226.3 1133,225.3 1134,226.1 1135,225.9 1136,226.9 1137,226.8 1138,226.2 1139,226.5 1140,227.8 1141,226.1 1142,226.2 1143,226.6 1144,226.4 1145,226.6 1146,227.2 1147,228 1148,225.7 1149,226.9 1150,226.9 1151,226.9 1152,226.8 1153,226.8 1154,227.6 1155,226.7 1156,226.9 1157,227 1158,227.1 1159,227 1160,227.7 1161,227.1 1162,227.2 1163,227.1 1164,226.5 1165,226.7 1166,226.5 1167,227.4 1168,226.8 1169,226.6 1170,227.4 1171,227.6 1172,226.2 1173,228.4 1174,227.4 1175,227.3 1176,228.1 1177,227.5 1178,227 1179,228.9 1180,226.8 1181,227.4 1182,228.1 1183,226.8 1184,227.5 1185,227.8 1186,229.1 1187,227 1188,227.6 1189,228.1 1190,227.7 1191,226.9 1192,227.9 1193,227.8 1194,228 1195,228.5 1196,228.4 1197,228 1198,228 1199,227.1 1200,227.7 1201,228 1202,227.6 1203,228 1204,227.4 1205,228.9 1206,229.3 1207,227.7 1208,228.2 1209,227.8 1210,228.8 1211,228.3 1212,228.1 1213,227.9 1214,228.2 1215,227.5 1216,228.6 1217,227.7 1218,228.5 1219,228.3 1220,228.9 1221,228.2 1222,228.9 1223,227.7 1224,228.7 1225,228.2 1226,228.4 1227,228.4 1228,229 1229,227.1 1229.6,228.4 1230.1,369.5 1230.6,431.3 1231.1,456.9 1231.6,468.5 1232.1,473.1 1232.6,476 1233.1,475.9 1233.6,476.6 1234.1,476.4 1234.6,475.9 1235.1,476.3 1235.6,476.5 1236.1,476.1 1236.6,476.3 1237.1,475.8 1237.6,475.9 1238.1,475.7 1238.6,475.8 1239.1,476.2 1239.6,475.7 1240.1,475.6 1240.6,475.3 1241.1,475.2 1241.6,475.8 1242.1,475 1242.6,475 1243.1,475.2 1243.6,475.1 1244.1,475.7 1244.6,474.4" fill="none" stroke="#2a8a58" stroke-width="3.9" stroke-linejoin="round" stroke-linecap="butt"/>
<polyline points="882.5,477.9 883.5,478.1 884.5,477.4 885.5,477.5 886.5,478 887.5,478.5 888.5,477.4 889.5,477.2 890.5,478.2 891.5,478.4 892.5,477.7 893.5,476.9 894.5,478.4 895.5,477.7 896.5,478.2 897.5,477.8 898.5,477.6 899.5,477.6 900.5,478.4 900.8,477.8 901,423 901.3,380.3 901.5,347.1 901.8,321.1 902,300.8 902.3,285.3 902.5,273 902.8,263.5 903,256 903.3,250.3 903.5,245.7 903.8,242.5 904,239.3 904.3,237.4 904.5,235.8 904.8,235.2 905,233.7 905.3,232.7 905.5,232.4 905.8,231.9 906,231.9 906.3,231.3 906.5,231.7 906.8,231.3 907,230.5 907.3,230.2 907.5,230.8 907.8,230.5 908,230.2 908.3,229.4 908.5,229.2 908.8,230.3 909.8,230.5 910.8,230.5 911.8,229.4 912.8,230.6 913.8,229.8 914.8,230.3 915.8,230.3 916.8,229.7 917.8,229.8 918.8,229.1 919.8,229.7 920.8,229.2 921.8,230.4 922.8,230.2 923.8,230.6 924.8,230.3 925.8,229.9 926.8,230.4 927.8,230 928.8,230.5 929.8,230.4 930.8,229.7 931.8,230.2 932.8,230.3 933.8,230.1 934.8,230.7 935.8,231.1 936.8,230.1 937.8,230.1 938.8,229.2 939.8,230.3 940.8,230.1 941.8,229.3 942.8,230.5 943.8,230.7 944.8,230 945.8,230.2 946.8,229.9 947.8,230.8 948.8,229.7 949.8,230.3 950.8,231.4 951.8,230.5 952.8,230.7 953.8,230.4 954.8,229.9 955.8,230.5 956.8,230.7 957.8,230 958.8,230.7 959.8,231.2 960.8,231.1 961.8,229.8 962.8,230.1 963.8,229.8 964.8,231.2 965.8,230.9 966.8,231 967.8,230.2 968.8,230.1 969.8,230.7 970.8,230.8 971.8,230.3 972.8,230.8 973.8,231.1 974.8,230.9 975.8,230.2 976.8,229.7 977.8,230.7 978.8,230.9 979.8,230.7 980.8,230.6 981.8,230.5 982.8,231.2 983.8,230.8 984.8,230.9 985.8,230.4 986.8,230.6 987.8,231 988.8,230.4 989.8,230.3 990.8,230.8 991.8,231.6 992.8,231.1 993.8,231.7 994.8,231 995.8,230.9 996.8,230.4 997.8,230.8 998.8,231.8 999.8,231.3 1000.8,231.5 1001.8,231.5 1002.8,231.1 1003.8,231 1004.8,231.2 1005.8,231.5 1006.8,231.4 1007.8,231.5 1008.8,231.3 1009.8,230.8 1010.8,231.1 1011.8,230.8 1012.8,231.8 1013.8,230.2 1014.8,231.2 1015.8,232.5 1016.8,231.2 1017.8,230.8 1018.8,231.4 1019.8,232 1020.8,231.3 1021.8,231.7 1022.8,231.5 1023.8,231.3 1024.8,233 1025.8,231.5 1026.8,231.2 1027.8,231.3 1028.8,231.7 1029.8,231.7 1030.8,231.9 1031.8,231.6 1032.8,230.9 1033.8,231.9 1034.8,231.5 1035.8,231.5 1036.8,230.9 1037.8,231.4 1038.8,231.3 1039.8,231.7 1040.8,231 1041.8,231.7 1042.8,231.8 1043.8,231.2 1044.8,231.4 1045.8,231.3 1046.8,232.2 1047.8,230.5 1048.8,231.7 1049.8,231 1050.8,231.6 1051.8,232.3 1052.8,231.6 1053.8,232 1054.8,231.5 1055.8,232.9 1056.8,232.4 1057.8,232.5 1058.8,231.3 1059.8,231.4 1060.8,232.6 1061.8,231.9 1062.8,231.9 1063.8,232.2 1064.8,231.4 1065.8,232.5 1066.8,232.1 1067.8,232.4 1068.8,231.8 1069.8,232.4 1070.8,231.8 1071.8,232.7 1072.8,232.8 1073.8,232.7 1074.8,232.5 1075.8,232.6 1076.8,230.9 1077.8,232.7 1078.8,232.2 1079.8,232.4 1080.8,232.2 1081.8,231.7 1082.8,232.1 1083.8,232.7 1084.8,233.1 1085.8,232.1 1086.8,232 1087.8,233.2 1088.8,232 1089.8,233.5 1090.8,232.5 1091.8,232.1 1092.8,233 1093.8,233.4 1094.8,231.8 1095.8,233.4 1096.8,232.5 1097.8,233.4 1098.8,232.4 1099.8,231.9 1100.8,232.9 1101.8,233.1 1102.8,233.7 1103.8,233.6 1104.8,233.1 1105.8,232.6 1106.8,232.5 1107.8,232.6 1108.8,232.4 1109.8,232.7 1110.8,231.6 1111.8,232.9 1112.8,232.9 1113.8,234.2 1114.8,233.3 1115.8,232.7 1116.8,233.2 1117.8,232.3 1118.8,232.7 1119.8,232.1 1120.8,233.7 1121.8,233.3 1122.8,232.5 1123.8,233 1124.8,233.6 1125.8,233.3 1126.8,233.3 1127.8,232.7 1128.8,232.8 1129.8,233.2 1130.8,233.6 1131.8,232.8 1132.8,232.7 1133.8,233.8 1134.8,232.8 1135.8,233.8 1136.8,233.4 1137.8,233.7 1138.8,234.2 1139.8,233.7 1140.8,233.7 1141.8,232.9 1142.8,233 1143.8,233.7 1144.8,234.2 1145.8,234.1 1146.8,234.6 1147.8,233.6 1148.8,233.6 1149.8,234 1150.8,233.5 1151.8,233.5 1152.8,233 1153.8,234.1 1154.8,233.1 1155.8,233.9 1156.8,232.9 1157.8,234.2 1158.8,233.2 1159.8,234.1 1160.8,232.9 1161.8,233.5 1162.8,234.3 1163.8,233.4 1164.8,233.8 1165.8,233.6 1166.8,232.7 1167.8,234 1168.8,234.1 1169.8,233.3 1170.8,234.2 1171.8,233.5 1172.8,233.4 1173.8,234 1174.8,233.6 1175.8,235.1 1176.8,233.2 1177.8,234.4 1178.8,234.5 1179.8,233.1 1180.8,233.2 1181.8,234.4 1182.8,233.9 1183.8,234.3 1184.8,234.7 1185.8,234 1186.8,233.7 1187.8,232.8 1188.8,234.3 1189.8,233.8 1190.8,234.4 1191.8,234.4 1192.8,233.6 1193.8,235.2 1194.8,234.9 1195.8,234.8 1196.8,233.8 1197.8,234.2 1198.8,234.1 1199.8,234.2 1200.8,233.9 1201.8,234.7 1202.8,234.6 1203.8,234.7 1204.8,234.3 1205.8,235.2 1206.8,234.7 1207.8,233.2 1208.8,234.3 1209.8,234.6 1210.8,235.1 1211.8,234.5 1212.8,234.5 1213.8,234.4 1214.8,235 1215.8,234.5 1216.8,234.4 1217.8,234.4 1218.8,235.1 1219.8,234.5 1220.8,234 1221.8,235.2 1222.8,234.5 1223.8,235.1 1224.8,235.1 1225.8,235.5 1226.8,235.5 1227.8,234.7 1228.8,234.9 1229.7,235 1230.2,372.9 1230.7,432.4 1231.2,458.4 1231.7,468.9 1232.2,473.1 1232.7,476.1 1233.2,476.4 1233.7,476.6 1234.2,476.6 1234.7,476.7 1235.2,476.5 1235.7,475.8 1236.2,476.5 1236.7,475.9 1237.2,475.8 1237.7,476.4 1238.2,476 1238.7,475.6 1239.2,475.1 1239.7,475.6 1240.2,475.7 1240.7,475.4 1241.2,475 1241.7,475.1 1242.2,474.9 1242.7,475.3 1243.2,475.5 1243.7,475.5 1244.2,474.9 1244.7,475.2" fill="none" stroke="#7ca6ea" stroke-width="5.6" stroke-linejoin="round" stroke-linecap="butt"/>
<polyline points="882.5,476.1 883.5,475.7 884.5,475.8 885.5,476.7 886.5,476 887.5,476.3 888.5,475.7 889.5,475.9 890.5,475.2 891.5,475.9 892.5,476.4 893.5,476.7 894.5,476.4 895.5,476.2 896.5,475.9 897.5,475.7 898.5,475.8 899.5,476.1 900.2,475.9 900.5,425.1 900.7,385.4 901,354.3 901.2,329.9 901.5,310.7 901.7,295.7 902,284.3 902.2,274.7 902.5,267.5 902.7,262 903,257.5 903.2,253.1 903.5,250.9 903.7,248.1 904,246 904.2,244.7 904.5,242.3 904.7,241.6 905,241.2 905.2,240.8 905.5,239.6 905.7,239.2 906,239.4 906.2,239.3 906.5,238.6 906.7,238.5 907,237.3 907.2,237.1 907.5,237.2 907.7,236.7 908,236.4 908.2,237.5 909.2,235.8 910.2,235 911.2,235.5 912.2,236.1 913.2,234.9 914.2,235.4 915.2,234.3 916.2,234.2 917.2,234 918.2,234.3 919.2,235.5 920.2,233.6 921.2,235.3 922.2,233.7 923.2,234.2 924.2,234.8 925.2,234.7 926.2,234.5 927.2,233.3 928.2,234.5 929.2,233.7 930.2,235.9 931.2,234.2 932.2,234.5 933.2,233.7 934.2,234.1 935.2,233.6 936.2,235 937.2,234.2 938.2,234.7 939.2,234 940.2,234.1 941.2,235.2 942.2,233.9 943.2,233.4 944.2,234.7 945.2,233.8 946.2,234.2 947.2,235.1 948.2,234 949.2,235.1 950.2,234.1 951.2,235.5 952.2,235.4 953.2,234.3 954.2,234.5 955.2,234.1 956.2,234.7 957.2,235.3 958.2,233.8 959.2,235.2 960.2,233.9 961.2,234.2 962.2,233.6 963.2,236 964.2,234.8 965.2,234.9 966.2,234.3 967.2,235.4 968.2,233.5 969.2,234.8 970.2,236.1 971.2,234.6 972.2,234.8 973.2,235.2 974.2,234.4 975.2,234.9 976.2,235.4 977.2,235 978.2,235.1 979.2,234.7 980.2,235.1 981.2,235 982.2,235.8 983.2,235.4 984.2,234.8 985.2,233.5 986.2,235.4 987.2,235.5 988.2,234.5 989.2,233.8 990.2,234.4 991.2,235.6 992.2,234.4 993.2,234.8 994.2,235.2 995.2,235.9 996.2,235.1 997.2,235.1 998.2,234.8 999.2,236.2 1000.2,235.8 1001.2,235.2 1002.2,234.4 1003.2,234.8 1004.2,235.6 1005.2,234.8 1006.2,235.8 1007.2,235.5 1008.2,235.5 1009.2,235.7 1010.2,235.6 1011.2,234.8 1012.2,235.2 1013.2,236.8 1014.2,234.7 1015.2,235.1 1016.2,236.1 1017.2,235.3 1018.2,235 1019.2,234.7 1020.2,235.8 1021.2,236.1 1022.2,236.4 1023.2,235.6 1024.2,236.2 1025.2,234.9 1026.2,235.7 1027.2,235.2 1028.2,235.7 1029.2,236.1 1030.2,236.3 1031.2,235.1 1032.2,236.4 1033.2,235.4 1034.2,235.1 1035.2,235.6 1036.2,234.8 1037.2,235.7 1038.2,235.9 1039.2,235.7 1040.2,236.1 1041.2,235.6 1042.2,235.8 1043.2,235 1044.2,235.9 1045.2,235.4 1046.2,235.6 1047.2,235.8 1048.2,236 1049.2,234.9 1050.2,235 1051.2,235.8 1052.2,236.3 1053.2,236.2 1054.2,236.5 1055.2,236.8 1056.2,236.3 1057.2,236 1058.2,235.5 1059.2,235.5 1060.2,235.8 1061.2,236.3 1062.2,236.3 1063.2,236.2 1064.2,236.1 1065.2,236.6 1066.2,236.3 1067.2,236.4 1068.2,236.4 1069.2,235.9 1070.2,235.6 1071.2,236.6 1072.2,236.5 1073.2,236.2 1074.2,236.1 1075.2,237.7 1076.2,235.9 1077.2,236.2 1078.2,236.6 1079.2,235.7 1080.2,236.5 1081.2,237.5 1082.2,237 1083.2,236.9 1084.2,236.8 1085.2,236.6 1086.2,237.1 1087.2,236.4 1088.2,236.3 1089.2,236.6 1090.2,237.1 1091.2,236.8 1092.2,237 1093.2,235.4 1094.2,237.4 1095.2,238.1 1096.2,237.5 1097.2,236.5 1098.2,236.2 1099.2,236.9 1100.2,236.2 1101.2,237.2 1102.2,236.5 1103.2,237.4 1104.2,237.6 1105.2,235.6 1106.2,237 1107.2,236.5 1108.2,236 1109.2,236.5 1110.2,236.8 1111.2,237.6 1112.2,236 1113.2,237.6 1114.2,238.2 1115.2,237.4 1116.2,237.4 1117.2,237 1118.2,236.4 1119.2,237.4 1120.2,237.3 1121.2,237.6 1122.2,238.7 1123.2,237.6 1124.2,237.4 1125.2,238.1 1126.2,236.4 1127.2,236.5 1128.2,237 1129.2,236.9 1130.2,237.7 1131.2,237.1 1132.2,238.4 1133.2,238.2 1134.2,237.8 1135.2,237.1 1136.2,237.7 1137.2,237.9 1138.2,236.8 1139.2,237.6 1140.2,237.9 1141.2,237.6 1142.2,238.4 1143.2,238.2 1144.2,237 1145.2,237.6 1146.2,237.1 1147.2,237.9 1148.2,237.1 1149.2,238.2 1150.2,237.9 1151.2,238.2 1152.2,237.6 1153.2,236.8 1154.2,238.8 1155.2,237.6 1156.2,238.6 1157.2,238 1158.2,238.2 1159.2,238.9 1160.2,238 1161.2,238.7 1162.2,236.9 1163.2,238.4 1164.2,237.7 1165.2,237.8 1166.2,237.9 1167.2,238.1 1168.2,238.9 1169.2,236.9 1170.2,238 1171.2,237.6 1172.2,238.7 1173.2,237.8 1174.2,238.3 1175.2,237.8 1176.2,238.5 1177.2,238.7 1178.2,237.9 1179.2,238.2 1180.2,237.3 1181.2,238.4 1182.2,238.7 1183.2,237.9 1184.2,238.9 1185.2,237 1186.2,237.2 1187.2,237.5 1188.2,238 1189.2,238.3 1190.2,238.3 1191.2,238.3 1192.2,238.8 1193.2,238.1 1194.2,237.7 1195.2,237.7 1196.2,239.7 1197.2,237.1 1198.2,238.4 1199.2,239.4 1200.2,238.8 1201.2,238.1 1202.2,238.6 1203.2,239.1 1204.2,239.3 1205.2,238.1 1206.2,239.1 1207.2,238.8 1208.2,239.3 1209.2,239.5 1210.2,238.5 1211.2,237.9 1212.2,239 1213.2,239.8 1214.2,239.2 1215.2,239 1216.2,240.3 1217.2,238.2 1218.2,239.4 1219.2,238.6 1220.2,238.9 1221.2,239 1222.2,239.9 1223.2,238.4 1224.2,238.7 1225.2,238.1 1226.2,239.3 1227.2,238.8 1228.2,239.3 1229.1,239.1 1229.6,374.4 1230.1,433.3 1230.6,458.3 1231.1,469.3 1231.6,473.9 1232.1,475.5 1232.6,475.9 1233.1,476.8 1233.6,476.6 1234.1,476.8 1234.6,475.8 1235.1,475.8 1235.6,475.5 1236.1,475.8 1236.6,476.3 1237.1,476 1237.6,475.8 1238.1,475.7 1238.6,475.8 1239.1,475.5 1239.6,475.6 1240.1,475.5 1240.6,474.7 1241.1,475.2 1241.6,475.7 1242.1,475.1 1242.6,475.2 1243.1,475 1243.6,475 1244.1,475.5 1244.6,475" fill="none" stroke="#c41e3a" stroke-width="3.2" stroke-linejoin="round" stroke-linecap="butt"/>
<polyline points="882.5,477.8 883.5,477 884.5,478 885.5,477.4 886.5,477.5 887.5,478.5 888.5,478.5 889.5,477.4 890.5,478.5 891.5,478.4 892.5,477.9 893.5,478.5 894.5,477.5 895.5,477.7 896.5,477.6 897.5,477.8 898.5,478.6 899.5,477.7 900,478.2 900.2,425.4 900.5,384.3 900.8,352.3 901,327.4 901.2,307.9 901.5,292.7 901.8,281 902,271.9 902.2,264.6 902.5,259.2 902.8,255.3 903,251.3 903.2,248.9 903.5,247.2 903.8,245 904,243.7 904.2,242.6 904.5,242.4 904.8,241.8 905,241.2 905.2,240.9 905.5,241 905.8,240.7 906,239.7 906.2,240.1 906.5,240 906.8,240.1 907,239.8 907.2,239.6 907.5,239.6 907.8,239.1 908,239.7 909,239.4 910,239.8 911,239.3 912,239.5 913,239.3 914,239.3 915,239.9 916,239.5 917,239.8 918,239.3 919,239.7 920,239.1 921,239.6 922,239.6 923,239.9 924,239.8 925,239.7 926,240.1 927,239.8 928,240 929,240.1 930,239.8 931,239.7 932,239.9 933,239.7 934,240 935,240.2 936,240.2 937,239.7 938,239.4 939,239.9 940,239.9 941,240.3 942,239.8 943,239.9 944,240.2 945,239.8 946,239.9 947,240.6 948,240.5 949,240.2 950,240.1 951,239.7 952,240.2 953,240.1 954,240.2 955,239.9 956,240.1 957,240 958,240.2 959,240.6 960,240.3 961,239.6 962,239.8 963,239.6 964,239.9 965,240.4 966,240.4 967,240 968,240.3 969,240 970,239.8 971,239.8 972,240 973,240.8 974,239.9 975,240.8 976,240.8 977,240.3 978,240.4 979,240.2 980,240.4 981,240.6 982,240.4 983,240.8 984,240.9 985,240.6 986,240.6 987,240.5 988,240.6 989,240.1 990,240.7 991,240.6 992,240.3 993,241.3 994,240.3 995,240.3 996,240.7 997,240 998,240.4 999,240.1 1000,240.3 1001,240.6 1002,240.8 1003,241.1 1004,241 1005,241.2 1006,241 1007,240.6 1008,241.2 1009,240.6 1010,240.6 1011,241.4 1012,241.1 1013,240.9 1014,241.1 1015,241.2 1016,240.4 1017,240.9 1018,240.5 1019,241 1020,240.7 1021,241.5 1022,241.2 1023,240.7 1024,241 1025,240.6 1026,241.1 1027,241.3 1028,241.2 1029,240.4 1030,241 1031,241.3 1032,241.3 1033,241.6 1034,240.7 1035,241.4 1036,241 1037,241.3 1038,241.4 1039,241.5 1040,241.1 1041,241.3 1042,240.9 1043,240.8 1044,241.5 1045,241.3 1046,240.8 1047,241.1 1048,241.4 1049,241.9 1050,241.8 1051,241.7 1052,240.8 1053,241.4 1054,241.6 1055,241.6 1056,241.7 1057,241.4 1058,242.2 1059,242.1 1060,241.5 1061,241.3 1062,242.3 1063,241.4 1064,242.1 1065,242.3 1066,241.3 1067,241.8 1068,241.6 1069,241.9 1070,241.9 1071,242.4 1072,242 1073,241.8 1074,242.2 1075,241.7 1076,241.7 1077,242.6 1078,241.6 1079,241.7 1080,241.9 1081,241.5 1082,241.2 1083,242.3 1084,241.7 1085,241.8 1086,241.9 1087,241.7 1088,241.7 1089,242.1 1090,242.9 1091,242.3 1092,242.4 1093,241.6 1094,242.1 1095,241.7 1096,242.4 1097,242.1 1098,242.2 1099,242.2 1100,242 1101,241.7 1102,242.5 1103,241.8 1104,241.9 1105,242.2 1106,242.1 1107,242.4 1108,242.7 1109,242.5 1110,242.5 1111,242.4 1112,242.7 1113,241.8 1114,242.6 1115,242.2 1116,242.1 1117,242.5 1118,242.4 1119,242.8 1120,243 1121,241.8 1122,242.6 1123,243.3 1124,242.9 1125,243.2 1126,242.7 1127,242.2 1128,242.3 1129,243 1130,243.1 1131,242.5 1132,242.7 1133,242.9 1134,242.2 1135,242.7 1136,243.4 1137,243.6 1138,242.8 1139,243.5 1140,242.7 1141,242.7 1142,242.2 1143,243.3 1144,242.9 1145,243.8 1146,243.1 1147,243.1 1148,242.4 1149,243.6 1150,243 1151,243.1 1152,242.4 1153,243.5 1154,243.5 1155,243 1156,243.2 1157,243.4 1158,243.6 1159,243.3 1160,243.9 1161,243.2 1162,243.1 1163,243.2 1164,242.5 1165,243.1 1166,243.7 1167,243.5 1168,243.1 1169,243.6 1170,242.8 1171,243.4 1172,243.7 1173,243.8 1174,243.3 1175,243.9 1176,244.2 1177,243.4 1178,243.9 1179,243.1 1180,243 1181,243.9 1182,243.7 1183,243.8 1184,243.5 1185,243.6 1186,244 1187,244.4 1188,243.7 1189,243.2 1190,244.3 1191,244.1 1192,244.1 1193,243.9 1194,244.7 1195,243.9 1196,244.1 1197,243.3 1198,243.8 1199,243.8 1200,244 1201,244.2 1202,243.8 1203,244.7 1204,243.7 1205,244 1206,244.2 1207,243.7 1208,244.4 1209,244.4 1210,244.1 1211,244.9 1212,244.3 1213,244.4 1214,243.9 1215,243.7 1216,244.1 1217,244.2 1218,244.2 1219,244.6 1220,243.6 1221,244 1222,243.8 1223,244.9 1224,244.3 1225,244.3 1226,244.1 1227,244.8 1228,244.4 1229,244.6 1229.6,244.6 1230.1,377 1230.6,434.1 1231.1,458.9 1231.6,469.7 1232.1,473.8 1232.6,475.6 1233.1,476.6 1233.6,476.7 1234.1,476.5 1234.6,476.5 1235.1,476.2 1235.6,476.5 1236.1,476.4 1236.6,476 1237.1,476.5 1237.6,475.4 1238.1,475.7 1238.6,476.2 1239.1,475.5 1239.6,475.1 1240.1,475.9 1240.6,475.6 1241.1,475 1241.6,475.6 1242.1,475 1242.6,474.8 1243.1,475.2 1243.6,475 1244.1,474.8 1244.6,475" fill="none" stroke="#72d3a8" stroke-width="4.4" stroke-linejoin="round" stroke-linecap="butt"/>
<rect x="882.5" y="187.5" width="362" height="310" fill="none" stroke="#262626" stroke-width="1"/>
<text x="873.3" y="501" text-anchor="end" class="l3">-0.2</text>
<text x="873.3" y="453" text-anchor="end" class="l3">0.3</text>
<text x="873.3" y="404" text-anchor="end" class="l3">0.8</text>
<text x="873.3" y="356" text-anchor="end" class="l3">1.3</text>
<text x="873.3" y="308" text-anchor="end" class="l3">1.8</text>
<text x="873.3" y="259" text-anchor="end" class="l3">2.3</text>
<text x="873.3" y="211" text-anchor="end" class="l3">2.8</text>
<text transform="translate(884.8,486) rotate(-90)" text-anchor="end" class="l3x">1</text>
<text transform="translate(899.4,486) rotate(-90)" text-anchor="end" class="l3x">54</text>
<text transform="translate(913.9,486) rotate(-90)" text-anchor="end" class="l3x">107</text>
<text transform="translate(928.5,486) rotate(-90)" text-anchor="end" class="l3x">160</text>
<text transform="translate(943.1,486) rotate(-90)" text-anchor="end" class="l3x">213</text>
<text transform="translate(957.6,486) rotate(-90)" text-anchor="end" class="l3x">266</text>
<text transform="translate(972.2,486) rotate(-90)" text-anchor="end" class="l3x">319</text>
<text transform="translate(986.8,486) rotate(-90)" text-anchor="end" class="l3x">372</text>
<text transform="translate(1001.4,486) rotate(-90)" text-anchor="end" class="l3x">425</text>
<text transform="translate(1015.9,486) rotate(-90)" text-anchor="end" class="l3x">478</text>
<text transform="translate(1030.5,486) rotate(-90)" text-anchor="end" class="l3x">531</text>
<text transform="translate(1045.1,486) rotate(-90)" text-anchor="end" class="l3x">584</text>
<text transform="translate(1059.6,486) rotate(-90)" text-anchor="end" class="l3x">637</text>
<text transform="translate(1074.2,486) rotate(-90)" text-anchor="end" class="l3x">690</text>
<text transform="translate(1088.8,486) rotate(-90)" text-anchor="end" class="l3x">743</text>
<text transform="translate(1103.3,486) rotate(-90)" text-anchor="end" class="l3x">796</text>
<text transform="translate(1117.9,486) rotate(-90)" text-anchor="end" class="l3x">849</text>
<text transform="translate(1132.5,486) rotate(-90)" text-anchor="end" class="l3x">902</text>
<text transform="translate(1147.1,486) rotate(-90)" text-anchor="end" class="l3x">955</text>
<text transform="translate(1161.6,486) rotate(-90)" text-anchor="end" class="l3x">1008</text>
<text transform="translate(1176.2,486) rotate(-90)" text-anchor="end" class="l3x">1061</text>
<text transform="translate(1190.8,486) rotate(-90)" text-anchor="end" class="l3x">1114</text>
<text transform="translate(1205.3,486) rotate(-90)" text-anchor="end" class="l3x">1167</text>
<text transform="translate(1219.9,486) rotate(-90)" text-anchor="end" class="l3x">1220</text>
<text transform="translate(1234.5,486) rotate(-90)" text-anchor="end" class="l3x">1273</text>
<text x="959" y="169" class="t3">SMH<tspan font-size="7" dy="2">2</tspan><tspan dy="-2">S-100 Overload Test/200ppm H</tspan><tspan font-size="7" dy="2">2</tspan><tspan dy="-2">S</tspan></text>
<text transform="translate(856.8,366.7) rotate(-90)" text-anchor="middle" class="a3" textLength="64.5" lengthAdjust="spacingAndGlyphs">Response(V)</text>
<text x="1046.2" y="537.9" class="a3" textLength="36.8" lengthAdjust="spacingAndGlyphs">Time(s)</text>
</svg>
<div class="cap" style="left:86.5px;">无铅氧测试数据</div>
<div class="cap" style="left:509.5px;">一氧化碳测试数据</div>
<div class="cap" style="left:953.5px;">硫化氢测试数据</div>
</body></html>
